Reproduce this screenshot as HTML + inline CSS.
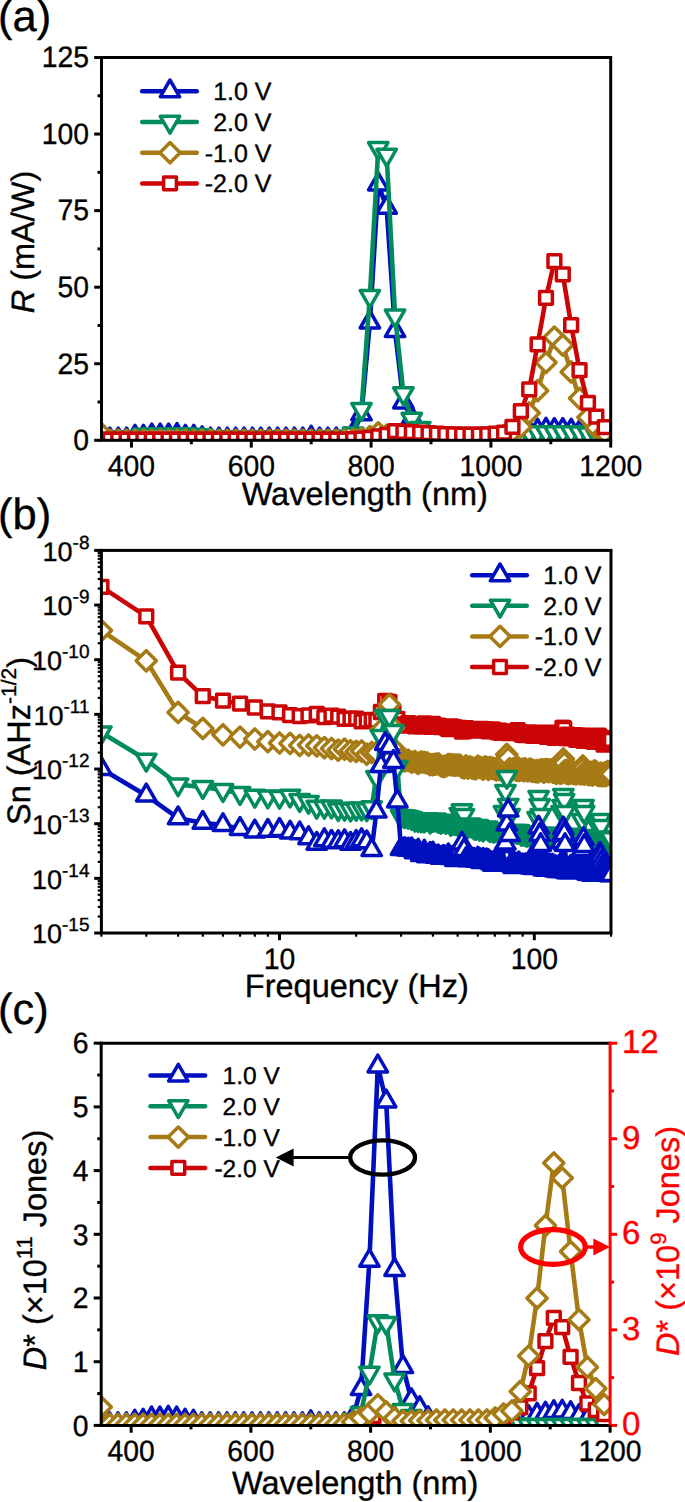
<!DOCTYPE html><html><head><meta charset="utf-8"><style>html,body{margin:0;padding:0;background:#fff;}svg{display:block;}text{font-family:"Liberation Sans", sans-serif;text-rendering:geometricPrecision;stroke-width:0.35px;}</style></head><body>
<svg width="685" height="1502" viewBox="0 0 685 1502">
<rect width="100%" height="100%" fill="#fff"/>
<defs>
<clipPath id="ca"><rect x="101.5" y="57.5" width="509.2" height="382.8"/></clipPath>
</defs>
<g clip-path="url(#ca)">
<path d="M101.5 438.77L109.89 439.38L118.27 439.38L126.66 439.38L135.05 436.63L143.43 436.63L151.82 435.4L160.21 435.4L168.59 435.4L176.98 434.79L185.37 436.63L193.76 436.63L202.14 438.16L210.53 439.38L218.92 439.38L227.3 439.38L235.69 439.38L244.08 439.38L252.46 439.38L260.85 439.38L269.24 439.38L277.62 439.38L286.01 439.38L294.4 439.38L302.78 439.38L311.17 437.54L319.56 439.38L327.94 439.38L336.33 439.38L344.72 439.38L353.1 433.56L361.49 414.27L369.88 322.4L378.27 184.28L386.65 207.56L395.04 330.97L403.43 402.33L411.81 418.25L420.2 434.18L428.59 437.85L436.97 439.38L445.36 439.38L453.75 439.38L462.13 439.38L470.52 439.38L478.91 439.38L487.29 439.38L495.68 439.38L504.07 437.24L512.45 434.79L520.84 432.95L529.23 431.73L537.61 430.5L546 429.58L554.39 429.89L562.78 429.89L571.16 430.5L579.55 431.73L587.94 432.95L596.32 434.79L604.71 437.24" fill="none" stroke="#0010BE" stroke-width="4.6" stroke-linejoin="round" stroke-linecap="round"/>
<path d="M101.5 427.57L111.2 444.37L91.8 444.37Z" fill="#fff" stroke="#0010BE" stroke-width="3.5" stroke-linejoin="round"/>
<path d="M109.89 428.18L119.59 444.98L100.19 444.98Z" fill="#fff" stroke="#0010BE" stroke-width="3.5" stroke-linejoin="round"/>
<path d="M118.27 428.18L127.97 444.98L108.57 444.98Z" fill="#fff" stroke="#0010BE" stroke-width="3.5" stroke-linejoin="round"/>
<path d="M126.66 428.18L136.36 444.98L116.96 444.98Z" fill="#fff" stroke="#0010BE" stroke-width="3.5" stroke-linejoin="round"/>
<path d="M135.05 425.43L144.75 442.23L125.35 442.23Z" fill="#fff" stroke="#0010BE" stroke-width="3.5" stroke-linejoin="round"/>
<path d="M143.43 425.43L153.13 442.23L133.73 442.23Z" fill="#fff" stroke="#0010BE" stroke-width="3.5" stroke-linejoin="round"/>
<path d="M151.82 424.2L161.52 441L142.12 441Z" fill="#fff" stroke="#0010BE" stroke-width="3.5" stroke-linejoin="round"/>
<path d="M160.21 424.2L169.91 441L150.51 441Z" fill="#fff" stroke="#0010BE" stroke-width="3.5" stroke-linejoin="round"/>
<path d="M168.59 424.2L178.29 441L158.89 441Z" fill="#fff" stroke="#0010BE" stroke-width="3.5" stroke-linejoin="round"/>
<path d="M176.98 423.59L186.68 440.39L167.28 440.39Z" fill="#fff" stroke="#0010BE" stroke-width="3.5" stroke-linejoin="round"/>
<path d="M185.37 425.43L195.07 442.23L175.67 442.23Z" fill="#fff" stroke="#0010BE" stroke-width="3.5" stroke-linejoin="round"/>
<path d="M193.76 425.43L203.46 442.23L184.06 442.23Z" fill="#fff" stroke="#0010BE" stroke-width="3.5" stroke-linejoin="round"/>
<path d="M202.14 426.96L211.84 443.76L192.44 443.76Z" fill="#fff" stroke="#0010BE" stroke-width="3.5" stroke-linejoin="round"/>
<path d="M210.53 428.18L220.23 444.98L200.83 444.98Z" fill="#fff" stroke="#0010BE" stroke-width="3.5" stroke-linejoin="round"/>
<path d="M218.92 428.18L228.62 444.98L209.22 444.98Z" fill="#fff" stroke="#0010BE" stroke-width="3.5" stroke-linejoin="round"/>
<path d="M227.3 428.18L237 444.98L217.6 444.98Z" fill="#fff" stroke="#0010BE" stroke-width="3.5" stroke-linejoin="round"/>
<path d="M235.69 428.18L245.39 444.98L225.99 444.98Z" fill="#fff" stroke="#0010BE" stroke-width="3.5" stroke-linejoin="round"/>
<path d="M244.08 428.18L253.78 444.98L234.38 444.98Z" fill="#fff" stroke="#0010BE" stroke-width="3.5" stroke-linejoin="round"/>
<path d="M252.46 428.18L262.16 444.98L242.76 444.98Z" fill="#fff" stroke="#0010BE" stroke-width="3.5" stroke-linejoin="round"/>
<path d="M260.85 428.18L270.55 444.98L251.15 444.98Z" fill="#fff" stroke="#0010BE" stroke-width="3.5" stroke-linejoin="round"/>
<path d="M269.24 428.18L278.94 444.98L259.54 444.98Z" fill="#fff" stroke="#0010BE" stroke-width="3.5" stroke-linejoin="round"/>
<path d="M277.62 428.18L287.32 444.98L267.92 444.98Z" fill="#fff" stroke="#0010BE" stroke-width="3.5" stroke-linejoin="round"/>
<path d="M286.01 428.18L295.71 444.98L276.31 444.98Z" fill="#fff" stroke="#0010BE" stroke-width="3.5" stroke-linejoin="round"/>
<path d="M294.4 428.18L304.1 444.98L284.7 444.98Z" fill="#fff" stroke="#0010BE" stroke-width="3.5" stroke-linejoin="round"/>
<path d="M302.78 428.18L312.48 444.98L293.08 444.98Z" fill="#fff" stroke="#0010BE" stroke-width="3.5" stroke-linejoin="round"/>
<path d="M311.17 426.34L320.87 443.14L301.47 443.14Z" fill="#fff" stroke="#0010BE" stroke-width="3.5" stroke-linejoin="round"/>
<path d="M319.56 428.18L329.26 444.98L309.86 444.98Z" fill="#fff" stroke="#0010BE" stroke-width="3.5" stroke-linejoin="round"/>
<path d="M327.94 428.18L337.64 444.98L318.24 444.98Z" fill="#fff" stroke="#0010BE" stroke-width="3.5" stroke-linejoin="round"/>
<path d="M336.33 428.18L346.03 444.98L326.63 444.98Z" fill="#fff" stroke="#0010BE" stroke-width="3.5" stroke-linejoin="round"/>
<path d="M344.72 428.18L354.42 444.98L335.02 444.98Z" fill="#fff" stroke="#0010BE" stroke-width="3.5" stroke-linejoin="round"/>
<path d="M353.1 422.36L362.8 439.16L343.4 439.16Z" fill="#fff" stroke="#0010BE" stroke-width="3.5" stroke-linejoin="round"/>
<path d="M361.49 403.07L371.19 419.87L351.79 419.87Z" fill="#fff" stroke="#0010BE" stroke-width="3.5" stroke-linejoin="round"/>
<path d="M369.88 311.2L379.58 328L360.18 328Z" fill="#fff" stroke="#0010BE" stroke-width="3.5" stroke-linejoin="round"/>
<path d="M378.27 173.08L387.97 189.88L368.57 189.88Z" fill="#fff" stroke="#0010BE" stroke-width="3.5" stroke-linejoin="round"/>
<path d="M386.65 196.36L396.35 213.16L376.95 213.16Z" fill="#fff" stroke="#0010BE" stroke-width="3.5" stroke-linejoin="round"/>
<path d="M395.04 319.77L404.74 336.57L385.34 336.57Z" fill="#fff" stroke="#0010BE" stroke-width="3.5" stroke-linejoin="round"/>
<path d="M403.43 391.13L413.13 407.93L393.73 407.93Z" fill="#fff" stroke="#0010BE" stroke-width="3.5" stroke-linejoin="round"/>
<path d="M411.81 407.05L421.51 423.85L402.11 423.85Z" fill="#fff" stroke="#0010BE" stroke-width="3.5" stroke-linejoin="round"/>
<path d="M420.2 422.98L429.9 439.78L410.5 439.78Z" fill="#fff" stroke="#0010BE" stroke-width="3.5" stroke-linejoin="round"/>
<path d="M428.59 426.65L438.29 443.45L418.89 443.45Z" fill="#fff" stroke="#0010BE" stroke-width="3.5" stroke-linejoin="round"/>
<path d="M436.97 428.18L446.67 444.98L427.27 444.98Z" fill="#fff" stroke="#0010BE" stroke-width="3.5" stroke-linejoin="round"/>
<path d="M445.36 428.18L455.06 444.98L435.66 444.98Z" fill="#fff" stroke="#0010BE" stroke-width="3.5" stroke-linejoin="round"/>
<path d="M453.75 428.18L463.45 444.98L444.05 444.98Z" fill="#fff" stroke="#0010BE" stroke-width="3.5" stroke-linejoin="round"/>
<path d="M462.13 428.18L471.83 444.98L452.43 444.98Z" fill="#fff" stroke="#0010BE" stroke-width="3.5" stroke-linejoin="round"/>
<path d="M470.52 428.18L480.22 444.98L460.82 444.98Z" fill="#fff" stroke="#0010BE" stroke-width="3.5" stroke-linejoin="round"/>
<path d="M478.91 428.18L488.61 444.98L469.21 444.98Z" fill="#fff" stroke="#0010BE" stroke-width="3.5" stroke-linejoin="round"/>
<path d="M487.29 428.18L496.99 444.98L477.59 444.98Z" fill="#fff" stroke="#0010BE" stroke-width="3.5" stroke-linejoin="round"/>
<path d="M495.68 428.18L505.38 444.98L485.98 444.98Z" fill="#fff" stroke="#0010BE" stroke-width="3.5" stroke-linejoin="round"/>
<path d="M504.07 426.04L513.77 442.84L494.37 442.84Z" fill="#fff" stroke="#0010BE" stroke-width="3.5" stroke-linejoin="round"/>
<path d="M512.45 423.59L522.15 440.39L502.75 440.39Z" fill="#fff" stroke="#0010BE" stroke-width="3.5" stroke-linejoin="round"/>
<path d="M520.84 421.75L530.54 438.55L511.14 438.55Z" fill="#fff" stroke="#0010BE" stroke-width="3.5" stroke-linejoin="round"/>
<path d="M529.23 420.53L538.93 437.33L519.53 437.33Z" fill="#fff" stroke="#0010BE" stroke-width="3.5" stroke-linejoin="round"/>
<path d="M537.61 419.3L547.31 436.1L527.91 436.1Z" fill="#fff" stroke="#0010BE" stroke-width="3.5" stroke-linejoin="round"/>
<path d="M546 418.38L555.7 435.18L536.3 435.18Z" fill="#fff" stroke="#0010BE" stroke-width="3.5" stroke-linejoin="round"/>
<path d="M554.39 418.69L564.09 435.49L544.69 435.49Z" fill="#fff" stroke="#0010BE" stroke-width="3.5" stroke-linejoin="round"/>
<path d="M562.78 418.69L572.48 435.49L553.08 435.49Z" fill="#fff" stroke="#0010BE" stroke-width="3.5" stroke-linejoin="round"/>
<path d="M571.16 419.3L580.86 436.1L561.46 436.1Z" fill="#fff" stroke="#0010BE" stroke-width="3.5" stroke-linejoin="round"/>
<path d="M579.55 420.53L589.25 437.33L569.85 437.33Z" fill="#fff" stroke="#0010BE" stroke-width="3.5" stroke-linejoin="round"/>
<path d="M587.94 421.75L597.64 438.55L578.24 438.55Z" fill="#fff" stroke="#0010BE" stroke-width="3.5" stroke-linejoin="round"/>
<path d="M596.32 423.59L606.02 440.39L586.62 440.39Z" fill="#fff" stroke="#0010BE" stroke-width="3.5" stroke-linejoin="round"/>
<path d="M604.71 426.04L614.41 442.84L595.01 442.84Z" fill="#fff" stroke="#0010BE" stroke-width="3.5" stroke-linejoin="round"/>
</g>
<g clip-path="url(#ca)">
<path d="M101.5 437.24L109.89 437.24L118.27 437.24L126.66 437.24L135.05 437.24L143.43 434.79L151.82 434.48L160.21 434.48L168.59 434.48L176.98 434.48L185.37 434.48L193.76 434.79L202.14 435.4L210.53 437.24L218.92 437.24L227.3 437.24L235.69 437.24L244.08 437.24L252.46 437.24L260.85 437.24L269.24 437.24L277.62 437.24L286.01 437.24L294.4 437.24L302.78 437.24L311.17 437.24L319.56 437.24L327.94 437.24L336.33 437.24L344.72 436.63L353.1 433.56L361.49 409.06L369.88 296.06L378.27 148.15L386.65 154.88L395.04 315.66L403.43 393.45L411.81 418.86L420.2 428.05L428.59 434.79L436.97 437.24L445.36 437.24L453.75 437.24L462.13 437.24L470.52 437.24L478.91 437.24L487.29 437.24L495.68 437.24L504.07 437.24L512.45 435.71L520.84 434.18L529.23 432.95L537.61 432.34L546 432.34L554.39 432.34L562.78 432.34L571.16 432.34L579.55 432.64L587.94 433.56L596.32 435.4L604.71 437.24" fill="none" stroke="#028C5E" stroke-width="4.6" stroke-linejoin="round" stroke-linecap="round"/>
<path d="M101.5 448.44L111.2 431.64L91.8 431.64Z" fill="#fff" stroke="#028C5E" stroke-width="3.5" stroke-linejoin="round"/>
<path d="M109.89 448.44L119.59 431.64L100.19 431.64Z" fill="#fff" stroke="#028C5E" stroke-width="3.5" stroke-linejoin="round"/>
<path d="M118.27 448.44L127.97 431.64L108.57 431.64Z" fill="#fff" stroke="#028C5E" stroke-width="3.5" stroke-linejoin="round"/>
<path d="M126.66 448.44L136.36 431.64L116.96 431.64Z" fill="#fff" stroke="#028C5E" stroke-width="3.5" stroke-linejoin="round"/>
<path d="M135.05 448.44L144.75 431.64L125.35 431.64Z" fill="#fff" stroke="#028C5E" stroke-width="3.5" stroke-linejoin="round"/>
<path d="M143.43 445.99L153.13 429.19L133.73 429.19Z" fill="#fff" stroke="#028C5E" stroke-width="3.5" stroke-linejoin="round"/>
<path d="M151.82 445.68L161.52 428.88L142.12 428.88Z" fill="#fff" stroke="#028C5E" stroke-width="3.5" stroke-linejoin="round"/>
<path d="M160.21 445.68L169.91 428.88L150.51 428.88Z" fill="#fff" stroke="#028C5E" stroke-width="3.5" stroke-linejoin="round"/>
<path d="M168.59 445.68L178.29 428.88L158.89 428.88Z" fill="#fff" stroke="#028C5E" stroke-width="3.5" stroke-linejoin="round"/>
<path d="M176.98 445.68L186.68 428.88L167.28 428.88Z" fill="#fff" stroke="#028C5E" stroke-width="3.5" stroke-linejoin="round"/>
<path d="M185.37 445.68L195.07 428.88L175.67 428.88Z" fill="#fff" stroke="#028C5E" stroke-width="3.5" stroke-linejoin="round"/>
<path d="M193.76 445.99L203.46 429.19L184.06 429.19Z" fill="#fff" stroke="#028C5E" stroke-width="3.5" stroke-linejoin="round"/>
<path d="M202.14 446.6L211.84 429.8L192.44 429.8Z" fill="#fff" stroke="#028C5E" stroke-width="3.5" stroke-linejoin="round"/>
<path d="M210.53 448.44L220.23 431.64L200.83 431.64Z" fill="#fff" stroke="#028C5E" stroke-width="3.5" stroke-linejoin="round"/>
<path d="M218.92 448.44L228.62 431.64L209.22 431.64Z" fill="#fff" stroke="#028C5E" stroke-width="3.5" stroke-linejoin="round"/>
<path d="M227.3 448.44L237 431.64L217.6 431.64Z" fill="#fff" stroke="#028C5E" stroke-width="3.5" stroke-linejoin="round"/>
<path d="M235.69 448.44L245.39 431.64L225.99 431.64Z" fill="#fff" stroke="#028C5E" stroke-width="3.5" stroke-linejoin="round"/>
<path d="M244.08 448.44L253.78 431.64L234.38 431.64Z" fill="#fff" stroke="#028C5E" stroke-width="3.5" stroke-linejoin="round"/>
<path d="M252.46 448.44L262.16 431.64L242.76 431.64Z" fill="#fff" stroke="#028C5E" stroke-width="3.5" stroke-linejoin="round"/>
<path d="M260.85 448.44L270.55 431.64L251.15 431.64Z" fill="#fff" stroke="#028C5E" stroke-width="3.5" stroke-linejoin="round"/>
<path d="M269.24 448.44L278.94 431.64L259.54 431.64Z" fill="#fff" stroke="#028C5E" stroke-width="3.5" stroke-linejoin="round"/>
<path d="M277.62 448.44L287.32 431.64L267.92 431.64Z" fill="#fff" stroke="#028C5E" stroke-width="3.5" stroke-linejoin="round"/>
<path d="M286.01 448.44L295.71 431.64L276.31 431.64Z" fill="#fff" stroke="#028C5E" stroke-width="3.5" stroke-linejoin="round"/>
<path d="M294.4 448.44L304.1 431.64L284.7 431.64Z" fill="#fff" stroke="#028C5E" stroke-width="3.5" stroke-linejoin="round"/>
<path d="M302.78 448.44L312.48 431.64L293.08 431.64Z" fill="#fff" stroke="#028C5E" stroke-width="3.5" stroke-linejoin="round"/>
<path d="M311.17 448.44L320.87 431.64L301.47 431.64Z" fill="#fff" stroke="#028C5E" stroke-width="3.5" stroke-linejoin="round"/>
<path d="M319.56 448.44L329.26 431.64L309.86 431.64Z" fill="#fff" stroke="#028C5E" stroke-width="3.5" stroke-linejoin="round"/>
<path d="M327.94 448.44L337.64 431.64L318.24 431.64Z" fill="#fff" stroke="#028C5E" stroke-width="3.5" stroke-linejoin="round"/>
<path d="M336.33 448.44L346.03 431.64L326.63 431.64Z" fill="#fff" stroke="#028C5E" stroke-width="3.5" stroke-linejoin="round"/>
<path d="M344.72 447.83L354.42 431.03L335.02 431.03Z" fill="#fff" stroke="#028C5E" stroke-width="3.5" stroke-linejoin="round"/>
<path d="M353.1 444.76L362.8 427.96L343.4 427.96Z" fill="#fff" stroke="#028C5E" stroke-width="3.5" stroke-linejoin="round"/>
<path d="M361.49 420.26L371.19 403.46L351.79 403.46Z" fill="#fff" stroke="#028C5E" stroke-width="3.5" stroke-linejoin="round"/>
<path d="M369.88 307.26L379.58 290.46L360.18 290.46Z" fill="#fff" stroke="#028C5E" stroke-width="3.5" stroke-linejoin="round"/>
<path d="M378.27 159.35L387.97 142.55L368.57 142.55Z" fill="#fff" stroke="#028C5E" stroke-width="3.5" stroke-linejoin="round"/>
<path d="M386.65 166.08L396.35 149.28L376.95 149.28Z" fill="#fff" stroke="#028C5E" stroke-width="3.5" stroke-linejoin="round"/>
<path d="M395.04 326.86L404.74 310.06L385.34 310.06Z" fill="#fff" stroke="#028C5E" stroke-width="3.5" stroke-linejoin="round"/>
<path d="M403.43 404.65L413.13 387.85L393.73 387.85Z" fill="#fff" stroke="#028C5E" stroke-width="3.5" stroke-linejoin="round"/>
<path d="M411.81 430.06L421.51 413.26L402.11 413.26Z" fill="#fff" stroke="#028C5E" stroke-width="3.5" stroke-linejoin="round"/>
<path d="M420.2 439.25L429.9 422.45L410.5 422.45Z" fill="#fff" stroke="#028C5E" stroke-width="3.5" stroke-linejoin="round"/>
<path d="M428.59 445.99L438.29 429.19L418.89 429.19Z" fill="#fff" stroke="#028C5E" stroke-width="3.5" stroke-linejoin="round"/>
<path d="M436.97 448.44L446.67 431.64L427.27 431.64Z" fill="#fff" stroke="#028C5E" stroke-width="3.5" stroke-linejoin="round"/>
<path d="M445.36 448.44L455.06 431.64L435.66 431.64Z" fill="#fff" stroke="#028C5E" stroke-width="3.5" stroke-linejoin="round"/>
<path d="M453.75 448.44L463.45 431.64L444.05 431.64Z" fill="#fff" stroke="#028C5E" stroke-width="3.5" stroke-linejoin="round"/>
<path d="M462.13 448.44L471.83 431.64L452.43 431.64Z" fill="#fff" stroke="#028C5E" stroke-width="3.5" stroke-linejoin="round"/>
<path d="M470.52 448.44L480.22 431.64L460.82 431.64Z" fill="#fff" stroke="#028C5E" stroke-width="3.5" stroke-linejoin="round"/>
<path d="M478.91 448.44L488.61 431.64L469.21 431.64Z" fill="#fff" stroke="#028C5E" stroke-width="3.5" stroke-linejoin="round"/>
<path d="M487.29 448.44L496.99 431.64L477.59 431.64Z" fill="#fff" stroke="#028C5E" stroke-width="3.5" stroke-linejoin="round"/>
<path d="M495.68 448.44L505.38 431.64L485.98 431.64Z" fill="#fff" stroke="#028C5E" stroke-width="3.5" stroke-linejoin="round"/>
<path d="M504.07 448.44L513.77 431.64L494.37 431.64Z" fill="#fff" stroke="#028C5E" stroke-width="3.5" stroke-linejoin="round"/>
<path d="M512.45 446.91L522.15 430.11L502.75 430.11Z" fill="#fff" stroke="#028C5E" stroke-width="3.5" stroke-linejoin="round"/>
<path d="M520.84 445.38L530.54 428.58L511.14 428.58Z" fill="#fff" stroke="#028C5E" stroke-width="3.5" stroke-linejoin="round"/>
<path d="M529.23 444.15L538.93 427.35L519.53 427.35Z" fill="#fff" stroke="#028C5E" stroke-width="3.5" stroke-linejoin="round"/>
<path d="M537.61 443.54L547.31 426.74L527.91 426.74Z" fill="#fff" stroke="#028C5E" stroke-width="3.5" stroke-linejoin="round"/>
<path d="M546 443.54L555.7 426.74L536.3 426.74Z" fill="#fff" stroke="#028C5E" stroke-width="3.5" stroke-linejoin="round"/>
<path d="M554.39 443.54L564.09 426.74L544.69 426.74Z" fill="#fff" stroke="#028C5E" stroke-width="3.5" stroke-linejoin="round"/>
<path d="M562.78 443.54L572.48 426.74L553.08 426.74Z" fill="#fff" stroke="#028C5E" stroke-width="3.5" stroke-linejoin="round"/>
<path d="M571.16 443.54L580.86 426.74L561.46 426.74Z" fill="#fff" stroke="#028C5E" stroke-width="3.5" stroke-linejoin="round"/>
<path d="M579.55 443.84L589.25 427.04L569.85 427.04Z" fill="#fff" stroke="#028C5E" stroke-width="3.5" stroke-linejoin="round"/>
<path d="M587.94 444.76L597.64 427.96L578.24 427.96Z" fill="#fff" stroke="#028C5E" stroke-width="3.5" stroke-linejoin="round"/>
<path d="M596.32 446.6L606.02 429.8L586.62 429.8Z" fill="#fff" stroke="#028C5E" stroke-width="3.5" stroke-linejoin="round"/>
<path d="M604.71 448.44L614.41 431.64L595.01 431.64Z" fill="#fff" stroke="#028C5E" stroke-width="3.5" stroke-linejoin="round"/>
</g>
<g clip-path="url(#ca)">
<path d="M101.5 433.87L109.89 440.21L118.27 440.21L126.66 440.21L135.05 440.21L143.43 440.21L151.82 440.21L160.21 440.21L168.59 440.21L176.98 440.21L185.37 440.21L193.76 440.21L202.14 440.21L210.53 440.21L218.92 440.21L227.3 440.21L235.69 440.21L244.08 440.21L252.46 440.21L260.85 440.21L269.24 440.21L277.62 440.21L286.01 440.21L294.4 440.21L302.78 440.21L311.17 440.21L319.56 440.21L327.94 440.21L336.33 440.21L344.72 440.21L353.1 439.38L361.49 438.46L369.88 436.63L378.27 432.95L386.65 435.4L395.04 436.63L403.43 437.85L411.81 439.08L420.2 440.21L428.59 440.21L436.97 440.21L445.36 440.21L453.75 440.21L462.13 440.21L470.52 440.21L478.91 440.21L487.29 440.21L495.68 437.85L504.07 435.4L512.45 431.73L520.84 426.83L529.23 413.04L537.61 390.69L546 362.52L554.39 337.1L562.78 345.06L571.16 372.01L579.55 398.35L587.94 417.33L596.32 428.05L604.71 432.64" fill="none" stroke="#A67A14" stroke-width="4.6" stroke-linejoin="round" stroke-linecap="round"/>
<path d="M101.5 423.77L111.6 433.87L101.5 443.97L91.4 433.87Z" fill="#fff" stroke="#A67A14" stroke-width="3.5" stroke-linejoin="round"/>
<path d="M109.89 430.11L119.99 440.21L109.89 450.31L99.79 440.21Z" fill="#fff" stroke="#A67A14" stroke-width="3.5" stroke-linejoin="round"/>
<path d="M118.27 430.11L128.37 440.21L118.27 450.31L108.17 440.21Z" fill="#fff" stroke="#A67A14" stroke-width="3.5" stroke-linejoin="round"/>
<path d="M126.66 430.11L136.76 440.21L126.66 450.31L116.56 440.21Z" fill="#fff" stroke="#A67A14" stroke-width="3.5" stroke-linejoin="round"/>
<path d="M135.05 430.11L145.15 440.21L135.05 450.31L124.95 440.21Z" fill="#fff" stroke="#A67A14" stroke-width="3.5" stroke-linejoin="round"/>
<path d="M143.43 430.11L153.53 440.21L143.43 450.31L133.33 440.21Z" fill="#fff" stroke="#A67A14" stroke-width="3.5" stroke-linejoin="round"/>
<path d="M151.82 430.11L161.92 440.21L151.82 450.31L141.72 440.21Z" fill="#fff" stroke="#A67A14" stroke-width="3.5" stroke-linejoin="round"/>
<path d="M160.21 430.11L170.31 440.21L160.21 450.31L150.11 440.21Z" fill="#fff" stroke="#A67A14" stroke-width="3.5" stroke-linejoin="round"/>
<path d="M168.59 430.11L178.69 440.21L168.59 450.31L158.49 440.21Z" fill="#fff" stroke="#A67A14" stroke-width="3.5" stroke-linejoin="round"/>
<path d="M176.98 430.11L187.08 440.21L176.98 450.31L166.88 440.21Z" fill="#fff" stroke="#A67A14" stroke-width="3.5" stroke-linejoin="round"/>
<path d="M185.37 430.11L195.47 440.21L185.37 450.31L175.27 440.21Z" fill="#fff" stroke="#A67A14" stroke-width="3.5" stroke-linejoin="round"/>
<path d="M193.76 430.11L203.86 440.21L193.76 450.31L183.66 440.21Z" fill="#fff" stroke="#A67A14" stroke-width="3.5" stroke-linejoin="round"/>
<path d="M202.14 430.11L212.24 440.21L202.14 450.31L192.04 440.21Z" fill="#fff" stroke="#A67A14" stroke-width="3.5" stroke-linejoin="round"/>
<path d="M210.53 430.11L220.63 440.21L210.53 450.31L200.43 440.21Z" fill="#fff" stroke="#A67A14" stroke-width="3.5" stroke-linejoin="round"/>
<path d="M218.92 430.11L229.02 440.21L218.92 450.31L208.82 440.21Z" fill="#fff" stroke="#A67A14" stroke-width="3.5" stroke-linejoin="round"/>
<path d="M227.3 430.11L237.4 440.21L227.3 450.31L217.2 440.21Z" fill="#fff" stroke="#A67A14" stroke-width="3.5" stroke-linejoin="round"/>
<path d="M235.69 430.11L245.79 440.21L235.69 450.31L225.59 440.21Z" fill="#fff" stroke="#A67A14" stroke-width="3.5" stroke-linejoin="round"/>
<path d="M244.08 430.11L254.18 440.21L244.08 450.31L233.98 440.21Z" fill="#fff" stroke="#A67A14" stroke-width="3.5" stroke-linejoin="round"/>
<path d="M252.46 430.11L262.56 440.21L252.46 450.31L242.36 440.21Z" fill="#fff" stroke="#A67A14" stroke-width="3.5" stroke-linejoin="round"/>
<path d="M260.85 430.11L270.95 440.21L260.85 450.31L250.75 440.21Z" fill="#fff" stroke="#A67A14" stroke-width="3.5" stroke-linejoin="round"/>
<path d="M269.24 430.11L279.34 440.21L269.24 450.31L259.14 440.21Z" fill="#fff" stroke="#A67A14" stroke-width="3.5" stroke-linejoin="round"/>
<path d="M277.62 430.11L287.72 440.21L277.62 450.31L267.52 440.21Z" fill="#fff" stroke="#A67A14" stroke-width="3.5" stroke-linejoin="round"/>
<path d="M286.01 430.11L296.11 440.21L286.01 450.31L275.91 440.21Z" fill="#fff" stroke="#A67A14" stroke-width="3.5" stroke-linejoin="round"/>
<path d="M294.4 430.11L304.5 440.21L294.4 450.31L284.3 440.21Z" fill="#fff" stroke="#A67A14" stroke-width="3.5" stroke-linejoin="round"/>
<path d="M302.78 430.11L312.88 440.21L302.78 450.31L292.68 440.21Z" fill="#fff" stroke="#A67A14" stroke-width="3.5" stroke-linejoin="round"/>
<path d="M311.17 430.11L321.27 440.21L311.17 450.31L301.07 440.21Z" fill="#fff" stroke="#A67A14" stroke-width="3.5" stroke-linejoin="round"/>
<path d="M319.56 430.11L329.66 440.21L319.56 450.31L309.46 440.21Z" fill="#fff" stroke="#A67A14" stroke-width="3.5" stroke-linejoin="round"/>
<path d="M327.94 430.11L338.04 440.21L327.94 450.31L317.84 440.21Z" fill="#fff" stroke="#A67A14" stroke-width="3.5" stroke-linejoin="round"/>
<path d="M336.33 430.11L346.43 440.21L336.33 450.31L326.23 440.21Z" fill="#fff" stroke="#A67A14" stroke-width="3.5" stroke-linejoin="round"/>
<path d="M344.72 430.11L354.82 440.21L344.72 450.31L334.62 440.21Z" fill="#fff" stroke="#A67A14" stroke-width="3.5" stroke-linejoin="round"/>
<path d="M353.1 429.28L363.2 439.38L353.1 449.48L343 439.38Z" fill="#fff" stroke="#A67A14" stroke-width="3.5" stroke-linejoin="round"/>
<path d="M361.49 428.36L371.59 438.46L361.49 448.56L351.39 438.46Z" fill="#fff" stroke="#A67A14" stroke-width="3.5" stroke-linejoin="round"/>
<path d="M369.88 426.53L379.98 436.63L369.88 446.73L359.78 436.63Z" fill="#fff" stroke="#A67A14" stroke-width="3.5" stroke-linejoin="round"/>
<path d="M378.27 422.85L388.37 432.95L378.27 443.05L368.17 432.95Z" fill="#fff" stroke="#A67A14" stroke-width="3.5" stroke-linejoin="round"/>
<path d="M386.65 425.3L396.75 435.4L386.65 445.5L376.55 435.4Z" fill="#fff" stroke="#A67A14" stroke-width="3.5" stroke-linejoin="round"/>
<path d="M395.04 426.53L405.14 436.63L395.04 446.73L384.94 436.63Z" fill="#fff" stroke="#A67A14" stroke-width="3.5" stroke-linejoin="round"/>
<path d="M403.43 427.75L413.53 437.85L403.43 447.95L393.33 437.85Z" fill="#fff" stroke="#A67A14" stroke-width="3.5" stroke-linejoin="round"/>
<path d="M411.81 428.98L421.91 439.08L411.81 449.18L401.71 439.08Z" fill="#fff" stroke="#A67A14" stroke-width="3.5" stroke-linejoin="round"/>
<path d="M420.2 430.11L430.3 440.21L420.2 450.31L410.1 440.21Z" fill="#fff" stroke="#A67A14" stroke-width="3.5" stroke-linejoin="round"/>
<path d="M428.59 430.11L438.69 440.21L428.59 450.31L418.49 440.21Z" fill="#fff" stroke="#A67A14" stroke-width="3.5" stroke-linejoin="round"/>
<path d="M436.97 430.11L447.07 440.21L436.97 450.31L426.87 440.21Z" fill="#fff" stroke="#A67A14" stroke-width="3.5" stroke-linejoin="round"/>
<path d="M445.36 430.11L455.46 440.21L445.36 450.31L435.26 440.21Z" fill="#fff" stroke="#A67A14" stroke-width="3.5" stroke-linejoin="round"/>
<path d="M453.75 430.11L463.85 440.21L453.75 450.31L443.65 440.21Z" fill="#fff" stroke="#A67A14" stroke-width="3.5" stroke-linejoin="round"/>
<path d="M462.13 430.11L472.23 440.21L462.13 450.31L452.03 440.21Z" fill="#fff" stroke="#A67A14" stroke-width="3.5" stroke-linejoin="round"/>
<path d="M470.52 430.11L480.62 440.21L470.52 450.31L460.42 440.21Z" fill="#fff" stroke="#A67A14" stroke-width="3.5" stroke-linejoin="round"/>
<path d="M478.91 430.11L489.01 440.21L478.91 450.31L468.81 440.21Z" fill="#fff" stroke="#A67A14" stroke-width="3.5" stroke-linejoin="round"/>
<path d="M487.29 430.11L497.39 440.21L487.29 450.31L477.19 440.21Z" fill="#fff" stroke="#A67A14" stroke-width="3.5" stroke-linejoin="round"/>
<path d="M495.68 427.75L505.78 437.85L495.68 447.95L485.58 437.85Z" fill="#fff" stroke="#A67A14" stroke-width="3.5" stroke-linejoin="round"/>
<path d="M504.07 425.3L514.17 435.4L504.07 445.5L493.97 435.4Z" fill="#fff" stroke="#A67A14" stroke-width="3.5" stroke-linejoin="round"/>
<path d="M512.45 421.63L522.55 431.73L512.45 441.83L502.35 431.73Z" fill="#fff" stroke="#A67A14" stroke-width="3.5" stroke-linejoin="round"/>
<path d="M520.84 416.73L530.94 426.83L520.84 436.93L510.74 426.83Z" fill="#fff" stroke="#A67A14" stroke-width="3.5" stroke-linejoin="round"/>
<path d="M529.23 402.94L539.33 413.04L529.23 423.14L519.13 413.04Z" fill="#fff" stroke="#A67A14" stroke-width="3.5" stroke-linejoin="round"/>
<path d="M537.61 380.59L547.71 390.69L537.61 400.79L527.51 390.69Z" fill="#fff" stroke="#A67A14" stroke-width="3.5" stroke-linejoin="round"/>
<path d="M546 352.42L556.1 362.52L546 372.62L535.9 362.52Z" fill="#fff" stroke="#A67A14" stroke-width="3.5" stroke-linejoin="round"/>
<path d="M554.39 327L564.49 337.1L554.39 347.2L544.29 337.1Z" fill="#fff" stroke="#A67A14" stroke-width="3.5" stroke-linejoin="round"/>
<path d="M562.78 334.96L572.88 345.06L562.78 355.16L552.68 345.06Z" fill="#fff" stroke="#A67A14" stroke-width="3.5" stroke-linejoin="round"/>
<path d="M571.16 361.91L581.26 372.01L571.16 382.11L561.06 372.01Z" fill="#fff" stroke="#A67A14" stroke-width="3.5" stroke-linejoin="round"/>
<path d="M579.55 388.25L589.65 398.35L579.55 408.45L569.45 398.35Z" fill="#fff" stroke="#A67A14" stroke-width="3.5" stroke-linejoin="round"/>
<path d="M587.94 407.23L598.04 417.33L587.94 427.43L577.84 417.33Z" fill="#fff" stroke="#A67A14" stroke-width="3.5" stroke-linejoin="round"/>
<path d="M596.32 417.95L606.42 428.05L596.32 438.15L586.22 428.05Z" fill="#fff" stroke="#A67A14" stroke-width="3.5" stroke-linejoin="round"/>
<path d="M604.71 422.54L614.81 432.64L604.71 442.74L594.61 432.64Z" fill="#fff" stroke="#A67A14" stroke-width="3.5" stroke-linejoin="round"/>
</g>
<g clip-path="url(#ca)">
<path d="M101.5 439.53L109.89 439.53L118.27 439.53L126.66 439.53L135.05 439.53L143.43 439.53L151.82 439.53L160.21 439.53L168.59 439.53L176.98 439.53L185.37 439.53L193.76 439.53L202.14 439.53L210.53 439.53L218.92 439.53L227.3 439.53L235.69 439.53L244.08 439.53L252.46 439.53L260.85 439.53L269.24 439.53L277.62 439.53L286.01 439.53L294.4 439.53L302.78 439.53L311.17 439.53L319.56 439.53L327.94 439.53L336.33 439.53L344.72 439.53L353.1 439.23L361.49 438.62L369.88 437.85L378.27 436.32L386.65 434.79L395.04 431.17L403.43 431.73L411.81 432.15L420.2 432.64L428.59 433.13L436.97 433.65L445.36 434.18L453.75 434.48L462.13 434.67L470.52 434.67L478.91 434.67L487.29 434.48L495.68 433.65L504.07 432.64L512.45 426.83L520.84 411.21L529.23 389.46L537.61 344.45L546 297.9L554.39 261.15L562.78 274.32L571.16 325.15L579.55 370.17L587.94 402.94L596.32 416.72L604.71 427.13" fill="none" stroke="#CB0505" stroke-width="4.6" stroke-linejoin="round" stroke-linecap="round"/>
<path d="M95.1 433.13H107.9V445.93H95.1Z" fill="#fff" stroke="#CB0505" stroke-width="3.5" stroke-linejoin="round"/>
<path d="M103.49 433.13H116.29V445.93H103.49Z" fill="#fff" stroke="#CB0505" stroke-width="3.5" stroke-linejoin="round"/>
<path d="M111.87 433.13H124.67V445.93H111.87Z" fill="#fff" stroke="#CB0505" stroke-width="3.5" stroke-linejoin="round"/>
<path d="M120.26 433.13H133.06V445.93H120.26Z" fill="#fff" stroke="#CB0505" stroke-width="3.5" stroke-linejoin="round"/>
<path d="M128.65 433.13H141.45V445.93H128.65Z" fill="#fff" stroke="#CB0505" stroke-width="3.5" stroke-linejoin="round"/>
<path d="M137.03 433.13H149.83V445.93H137.03Z" fill="#fff" stroke="#CB0505" stroke-width="3.5" stroke-linejoin="round"/>
<path d="M145.42 433.13H158.22V445.93H145.42Z" fill="#fff" stroke="#CB0505" stroke-width="3.5" stroke-linejoin="round"/>
<path d="M153.81 433.13H166.61V445.93H153.81Z" fill="#fff" stroke="#CB0505" stroke-width="3.5" stroke-linejoin="round"/>
<path d="M162.19 433.13H174.99V445.93H162.19Z" fill="#fff" stroke="#CB0505" stroke-width="3.5" stroke-linejoin="round"/>
<path d="M170.58 433.13H183.38V445.93H170.58Z" fill="#fff" stroke="#CB0505" stroke-width="3.5" stroke-linejoin="round"/>
<path d="M178.97 433.13H191.77V445.93H178.97Z" fill="#fff" stroke="#CB0505" stroke-width="3.5" stroke-linejoin="round"/>
<path d="M187.36 433.13H200.16V445.93H187.36Z" fill="#fff" stroke="#CB0505" stroke-width="3.5" stroke-linejoin="round"/>
<path d="M195.74 433.13H208.54V445.93H195.74Z" fill="#fff" stroke="#CB0505" stroke-width="3.5" stroke-linejoin="round"/>
<path d="M204.13 433.13H216.93V445.93H204.13Z" fill="#fff" stroke="#CB0505" stroke-width="3.5" stroke-linejoin="round"/>
<path d="M212.52 433.13H225.32V445.93H212.52Z" fill="#fff" stroke="#CB0505" stroke-width="3.5" stroke-linejoin="round"/>
<path d="M220.9 433.13H233.7V445.93H220.9Z" fill="#fff" stroke="#CB0505" stroke-width="3.5" stroke-linejoin="round"/>
<path d="M229.29 433.13H242.09V445.93H229.29Z" fill="#fff" stroke="#CB0505" stroke-width="3.5" stroke-linejoin="round"/>
<path d="M237.68 433.13H250.48V445.93H237.68Z" fill="#fff" stroke="#CB0505" stroke-width="3.5" stroke-linejoin="round"/>
<path d="M246.06 433.13H258.86V445.93H246.06Z" fill="#fff" stroke="#CB0505" stroke-width="3.5" stroke-linejoin="round"/>
<path d="M254.45 433.13H267.25V445.93H254.45Z" fill="#fff" stroke="#CB0505" stroke-width="3.5" stroke-linejoin="round"/>
<path d="M262.84 433.13H275.64V445.93H262.84Z" fill="#fff" stroke="#CB0505" stroke-width="3.5" stroke-linejoin="round"/>
<path d="M271.22 433.13H284.02V445.93H271.22Z" fill="#fff" stroke="#CB0505" stroke-width="3.5" stroke-linejoin="round"/>
<path d="M279.61 433.13H292.41V445.93H279.61Z" fill="#fff" stroke="#CB0505" stroke-width="3.5" stroke-linejoin="round"/>
<path d="M288 433.13H300.8V445.93H288Z" fill="#fff" stroke="#CB0505" stroke-width="3.5" stroke-linejoin="round"/>
<path d="M296.38 433.13H309.18V445.93H296.38Z" fill="#fff" stroke="#CB0505" stroke-width="3.5" stroke-linejoin="round"/>
<path d="M304.77 433.13H317.57V445.93H304.77Z" fill="#fff" stroke="#CB0505" stroke-width="3.5" stroke-linejoin="round"/>
<path d="M313.16 433.13H325.96V445.93H313.16Z" fill="#fff" stroke="#CB0505" stroke-width="3.5" stroke-linejoin="round"/>
<path d="M321.54 433.13H334.34V445.93H321.54Z" fill="#fff" stroke="#CB0505" stroke-width="3.5" stroke-linejoin="round"/>
<path d="M329.93 433.13H342.73V445.93H329.93Z" fill="#fff" stroke="#CB0505" stroke-width="3.5" stroke-linejoin="round"/>
<path d="M338.32 433.13H351.12V445.93H338.32Z" fill="#fff" stroke="#CB0505" stroke-width="3.5" stroke-linejoin="round"/>
<path d="M346.7 432.83H359.5V445.63H346.7Z" fill="#fff" stroke="#CB0505" stroke-width="3.5" stroke-linejoin="round"/>
<path d="M355.09 432.22H367.89V445.02H355.09Z" fill="#fff" stroke="#CB0505" stroke-width="3.5" stroke-linejoin="round"/>
<path d="M363.48 431.45H376.28V444.25H363.48Z" fill="#fff" stroke="#CB0505" stroke-width="3.5" stroke-linejoin="round"/>
<path d="M371.87 429.92H384.67V442.72H371.87Z" fill="#fff" stroke="#CB0505" stroke-width="3.5" stroke-linejoin="round"/>
<path d="M380.25 428.39H393.05V441.19H380.25Z" fill="#fff" stroke="#CB0505" stroke-width="3.5" stroke-linejoin="round"/>
<path d="M388.64 424.77H401.44V437.57H388.64Z" fill="#fff" stroke="#CB0505" stroke-width="3.5" stroke-linejoin="round"/>
<path d="M397.03 425.33H409.83V438.13H397.03Z" fill="#fff" stroke="#CB0505" stroke-width="3.5" stroke-linejoin="round"/>
<path d="M405.41 425.75H418.21V438.55H405.41Z" fill="#fff" stroke="#CB0505" stroke-width="3.5" stroke-linejoin="round"/>
<path d="M413.8 426.24H426.6V439.04H413.8Z" fill="#fff" stroke="#CB0505" stroke-width="3.5" stroke-linejoin="round"/>
<path d="M422.19 426.73H434.99V439.53H422.19Z" fill="#fff" stroke="#CB0505" stroke-width="3.5" stroke-linejoin="round"/>
<path d="M430.57 427.25H443.37V440.05H430.57Z" fill="#fff" stroke="#CB0505" stroke-width="3.5" stroke-linejoin="round"/>
<path d="M438.96 427.78H451.76V440.58H438.96Z" fill="#fff" stroke="#CB0505" stroke-width="3.5" stroke-linejoin="round"/>
<path d="M447.35 428.08H460.15V440.88H447.35Z" fill="#fff" stroke="#CB0505" stroke-width="3.5" stroke-linejoin="round"/>
<path d="M455.73 428.27H468.53V441.07H455.73Z" fill="#fff" stroke="#CB0505" stroke-width="3.5" stroke-linejoin="round"/>
<path d="M464.12 428.27H476.92V441.07H464.12Z" fill="#fff" stroke="#CB0505" stroke-width="3.5" stroke-linejoin="round"/>
<path d="M472.51 428.27H485.31V441.07H472.51Z" fill="#fff" stroke="#CB0505" stroke-width="3.5" stroke-linejoin="round"/>
<path d="M480.89 428.08H493.69V440.88H480.89Z" fill="#fff" stroke="#CB0505" stroke-width="3.5" stroke-linejoin="round"/>
<path d="M489.28 427.25H502.08V440.05H489.28Z" fill="#fff" stroke="#CB0505" stroke-width="3.5" stroke-linejoin="round"/>
<path d="M497.67 426.24H510.47V439.04H497.67Z" fill="#fff" stroke="#CB0505" stroke-width="3.5" stroke-linejoin="round"/>
<path d="M506.05 420.43H518.85V433.23H506.05Z" fill="#fff" stroke="#CB0505" stroke-width="3.5" stroke-linejoin="round"/>
<path d="M514.44 404.81H527.24V417.61H514.44Z" fill="#fff" stroke="#CB0505" stroke-width="3.5" stroke-linejoin="round"/>
<path d="M522.83 383.06H535.63V395.86H522.83Z" fill="#fff" stroke="#CB0505" stroke-width="3.5" stroke-linejoin="round"/>
<path d="M531.21 338.05H544.01V350.85H531.21Z" fill="#fff" stroke="#CB0505" stroke-width="3.5" stroke-linejoin="round"/>
<path d="M539.6 291.5H552.4V304.3H539.6Z" fill="#fff" stroke="#CB0505" stroke-width="3.5" stroke-linejoin="round"/>
<path d="M547.99 254.75H560.79V267.55H547.99Z" fill="#fff" stroke="#CB0505" stroke-width="3.5" stroke-linejoin="round"/>
<path d="M556.38 267.92H569.18V280.72H556.38Z" fill="#fff" stroke="#CB0505" stroke-width="3.5" stroke-linejoin="round"/>
<path d="M564.76 318.75H577.56V331.55H564.76Z" fill="#fff" stroke="#CB0505" stroke-width="3.5" stroke-linejoin="round"/>
<path d="M573.15 363.77H585.95V376.57H573.15Z" fill="#fff" stroke="#CB0505" stroke-width="3.5" stroke-linejoin="round"/>
<path d="M581.54 396.54H594.34V409.34H581.54Z" fill="#fff" stroke="#CB0505" stroke-width="3.5" stroke-linejoin="round"/>
<path d="M589.92 410.32H602.72V423.12H589.92Z" fill="#fff" stroke="#CB0505" stroke-width="3.5" stroke-linejoin="round"/>
<path d="M598.31 420.73H611.11V433.53H598.31Z" fill="#fff" stroke="#CB0505" stroke-width="3.5" stroke-linejoin="round"/>
</g>
<rect x="101.5" y="57.5" width="509.2" height="382.8" fill="none" stroke="#000" stroke-width="3.0"/>
<line x1="94.2" y1="440.3" x2="101.5" y2="440.3" stroke="#000" stroke-width="3.0" stroke-linecap="butt"/>
<text transform="translate(89,450.1) scale(0.96,1)" font-size="29.5" text-anchor="end" fill="#000" stroke="#000">0</text>
<line x1="94.2" y1="363.74" x2="101.5" y2="363.74" stroke="#000" stroke-width="3.0" stroke-linecap="butt"/>
<text transform="translate(89,373.54) scale(0.96,1)" font-size="29.5" text-anchor="end" fill="#000" stroke="#000">25</text>
<line x1="94.2" y1="287.18" x2="101.5" y2="287.18" stroke="#000" stroke-width="3.0" stroke-linecap="butt"/>
<text transform="translate(89,296.98) scale(0.96,1)" font-size="29.5" text-anchor="end" fill="#000" stroke="#000">50</text>
<line x1="94.2" y1="210.62" x2="101.5" y2="210.62" stroke="#000" stroke-width="3.0" stroke-linecap="butt"/>
<text transform="translate(89,220.42) scale(0.96,1)" font-size="29.5" text-anchor="end" fill="#000" stroke="#000">75</text>
<line x1="94.2" y1="134.06" x2="101.5" y2="134.06" stroke="#000" stroke-width="3.0" stroke-linecap="butt"/>
<text transform="translate(89,143.86) scale(0.96,1)" font-size="29.5" text-anchor="end" fill="#000" stroke="#000">100</text>
<line x1="94.2" y1="57.5" x2="101.5" y2="57.5" stroke="#000" stroke-width="3.0" stroke-linecap="butt"/>
<text transform="translate(89,67.3) scale(0.96,1)" font-size="29.5" text-anchor="end" fill="#000" stroke="#000">125</text>
<line x1="97.5" y1="402.02" x2="101.5" y2="402.02" stroke="#000" stroke-width="3.0" stroke-linecap="butt"/>
<line x1="97.5" y1="325.46" x2="101.5" y2="325.46" stroke="#000" stroke-width="3.0" stroke-linecap="butt"/>
<line x1="97.5" y1="248.9" x2="101.5" y2="248.9" stroke="#000" stroke-width="3.0" stroke-linecap="butt"/>
<line x1="97.5" y1="172.34" x2="101.5" y2="172.34" stroke="#000" stroke-width="3.0" stroke-linecap="butt"/>
<line x1="97.5" y1="95.78" x2="101.5" y2="95.78" stroke="#000" stroke-width="3.0" stroke-linecap="butt"/>
<line x1="131.45" y1="440.3" x2="131.45" y2="447.6" stroke="#000" stroke-width="3.0" stroke-linecap="butt"/>
<text transform="translate(131.45,475.7) scale(0.96,1)" font-size="29.5" text-anchor="middle" fill="#000" stroke="#000">400</text>
<line x1="251.26" y1="440.3" x2="251.26" y2="447.6" stroke="#000" stroke-width="3.0" stroke-linecap="butt"/>
<text transform="translate(251.26,475.7) scale(0.96,1)" font-size="29.5" text-anchor="middle" fill="#000" stroke="#000">600</text>
<line x1="371.08" y1="440.3" x2="371.08" y2="447.6" stroke="#000" stroke-width="3.0" stroke-linecap="butt"/>
<text transform="translate(371.08,475.7) scale(0.96,1)" font-size="29.5" text-anchor="middle" fill="#000" stroke="#000">800</text>
<line x1="490.89" y1="440.3" x2="490.89" y2="447.6" stroke="#000" stroke-width="3.0" stroke-linecap="butt"/>
<text transform="translate(490.89,475.7) scale(0.96,1)" font-size="29.5" text-anchor="middle" fill="#000" stroke="#000">1000</text>
<line x1="610.7" y1="440.3" x2="610.7" y2="447.6" stroke="#000" stroke-width="3.0" stroke-linecap="butt"/>
<text transform="translate(610.7,475.7) scale(0.96,1)" font-size="29.5" text-anchor="middle" fill="#000" stroke="#000">1200</text>
<line x1="191.36" y1="440.3" x2="191.36" y2="444.3" stroke="#000" stroke-width="3.0" stroke-linecap="butt"/>
<line x1="311.17" y1="440.3" x2="311.17" y2="444.3" stroke="#000" stroke-width="3.0" stroke-linecap="butt"/>
<line x1="430.98" y1="440.3" x2="430.98" y2="444.3" stroke="#000" stroke-width="3.0" stroke-linecap="butt"/>
<line x1="550.79" y1="440.3" x2="550.79" y2="444.3" stroke="#000" stroke-width="3.0" stroke-linecap="butt"/>
<text x="364.75" y="504.5" font-size="32.5" text-anchor="middle" fill="#000" stroke="#000">Wavelength (nm)</text>
<text transform="translate(33.5,242) rotate(-90)" font-size="32.5" text-anchor="middle" stroke="#000"><tspan font-style="italic">R</tspan> (mA/W)</text>
<line x1="142.2" y1="91.2" x2="196.8" y2="91.2" stroke="#0010BE" stroke-width="4.5" stroke-linecap="round"/>
<path d="M170 80L179.7 96.8L160.3 96.8Z" fill="#fff" stroke="#0010BE" stroke-width="3.5" stroke-linejoin="round"/>
<text x="271.5" y="100.15" font-size="25" text-anchor="end" fill="#000" stroke="#000">1.0 V</text>
<line x1="142.2" y1="121.95" x2="196.8" y2="121.95" stroke="#028C5E" stroke-width="4.5" stroke-linecap="round"/>
<path d="M170 133.15L179.7 116.35L160.3 116.35Z" fill="#fff" stroke="#028C5E" stroke-width="3.5" stroke-linejoin="round"/>
<text x="271.5" y="130.9" font-size="25" text-anchor="end" fill="#000" stroke="#000">2.0 V</text>
<line x1="142.2" y1="152.7" x2="196.8" y2="152.7" stroke="#A67A14" stroke-width="4.5" stroke-linecap="round"/>
<path d="M170 142.6L180.1 152.7L170 162.8L159.9 152.7Z" fill="#fff" stroke="#A67A14" stroke-width="3.5" stroke-linejoin="round"/>
<text x="271.5" y="161.65" font-size="25" text-anchor="end" fill="#000" stroke="#000">-1.0 V</text>
<line x1="142.2" y1="183.45" x2="196.8" y2="183.45" stroke="#CB0505" stroke-width="4.5" stroke-linecap="round"/>
<path d="M163.6 177.05H176.4V189.85H163.6Z" fill="#fff" stroke="#CB0505" stroke-width="3.5" stroke-linejoin="round"/>
<text x="271.5" y="192.4" font-size="25" text-anchor="end" fill="#000" stroke="#000">-2.0 V</text>
<text x="-2" y="31.2" font-size="43.5" text-anchor="start" fill="#000" stroke="#000">(a)</text>
<defs><clipPath id="cb"><rect x="101.4" y="550.4" width="509.6" height="382.6"/></clipPath></defs>
<g clip-path="url(#cb)">
<path d="M101.4 586.8L146.27 616.4L178.1 672.6L202.8 696.1L222.97 700.7L240.03 703.7L254.8 707.5L267.84 711.3L279.5 712.4L290.04 715.17L299.67 716.07L308.53 715.36L316.73 713.8L324.37 717.1L331.51 715.54L338.22 716.68L344.54 718.81L350.52 718.59L356.2 718.67L361.6 721.33L366.75 720.49L371.67 719.95L376.38 720.31L380.89 712L385.23 701L389.41 702L393.43 712L397.32 719L401.07 724.47L404.7 725.67L408.21 723.03L411.61 725.64L414.92 726.45L418.13 726.25L421.24 726.49L424.28 723.35L427.23 725.95L430.1 726.94L432.9 723.95L435.63 725.3L438.3 725.69L440.91 726.99L443.45 726.92L445.94 727.49L448.37 729.18L450.75 726.45L453.08 727.01L455.36 727.46L457.6 727.78L459.79 727.86L461.94 731.71L464.04 731.33L466.11 728.26L468.14 729.85L470.14 729.18L472.09 729.27L474.02 729.61L475.91 730.65L477.77 730.49L479.6 729.74L481.4 728.99L483.17 729.71L484.91 729.07L486.63 730.7L488.32 731.37L489.98 730.3L491.62 729.5L493.24 729.71L494.83 730.48L496.4 731.52L497.95 732.33L499.47 730.76L500.98 732.87L502.46 732.51L503.93 731.73L505.38 731.64L506.8 732.35L508.21 733.09L509.6 732.25L510.98 733.2L512.34 732.3L513.68 731.33L515 732.47L516.31 733.08L517.61 730.27L518.89 732.01L520.15 732.2L521.4 734.28L522.64 734.93L523.86 732.79L525.07 735.03L526.27 734.65L527.45 732.76L528.62 733.88L529.78 732.45L530.93 735.47L532.06 734.93L533.19 735.78L534.3 735.49L535.4 735.19L536.49 735.46L537.57 734.72L538.64 733.03L539.7 735.15L540.75 732.73L541.78 733.03L542.81 735.82L543.83 732.78L544.84 732.77L545.85 733.03L546.84 736.75L547.82 733.29L548.8 732.7L549.76 736.49L550.72 733.54L551.67 736.95L552.61 736.3L553.55 737.47L554.47 737.86L555.39 735.91L556.3 737.33L557.21 733.86L558.1 737.41L558.99 736.13L559.87 737.33L560.75 734.2L561.61 737.32L562.48 728L563.33 727.8L564.18 729L565.02 736.62L565.85 738.13L566.68 735.29L567.51 734.75L568.32 735.31L569.13 737.51L569.94 738.32L570.74 736.38L571.53 736.4L572.32 736.6L573.1 736.31L573.88 736.57L574.65 735.12L575.41 737.27L576.17 739.78L576.93 736.69L577.68 738.99L578.43 735.5L579.17 738.94L579.9 739.37L580.63 738.88L581.36 737.99L582.08 738.27L582.79 739.33L583.51 740.84L584.21 736L584.92 735.76L585.61 739.38L586.31 740.82L587 738.71L587.68 738.03L588.36 739.43L589.04 736.35L589.71 737.14L590.38 737.15L591.05 739.53L591.71 737.81L592.36 737L593.02 739.97L593.66 741.77L594.31 737.58L594.95 740.06L595.59 738.04L596.22 740.75L596.85 739.36L597.48 737.3L598.1 736.81L598.72 735.62L599.34 739.13L599.95 738.91L600.56 737.51L601.17 739.18L601.77 739.29L602.37 742.02L602.97 738.04L603.56 744.58L604.15 740.84L604.74 741.49L605.32 740.14L605.9 742.75L606.48 742.22L607.06 739.77L607.63 739.5L608.2 740.97L608.76 741.99L609.33 738.25L609.89 741.01L610.45 743.02L611 739.79" fill="none" stroke="#CB0505" stroke-width="4.6" stroke-linejoin="round" stroke-linecap="round"/>
<path d="M95 580.4H107.8V593.2H95Z" fill="#fff" stroke="#CB0505" stroke-width="3.5" stroke-linejoin="round"/>
<path d="M139.87 610H152.67V622.8H139.87Z" fill="#fff" stroke="#CB0505" stroke-width="3.5" stroke-linejoin="round"/>
<path d="M171.7 666.2H184.5V679H171.7Z" fill="#fff" stroke="#CB0505" stroke-width="3.5" stroke-linejoin="round"/>
<path d="M196.4 689.7H209.2V702.5H196.4Z" fill="#fff" stroke="#CB0505" stroke-width="3.5" stroke-linejoin="round"/>
<path d="M216.57 694.3H229.37V707.1H216.57Z" fill="#fff" stroke="#CB0505" stroke-width="3.5" stroke-linejoin="round"/>
<path d="M233.63 697.3H246.43V710.1H233.63Z" fill="#fff" stroke="#CB0505" stroke-width="3.5" stroke-linejoin="round"/>
<path d="M248.4 701.1H261.2V713.9H248.4Z" fill="#fff" stroke="#CB0505" stroke-width="3.5" stroke-linejoin="round"/>
<path d="M261.44 704.9H274.24V717.7H261.44Z" fill="#fff" stroke="#CB0505" stroke-width="3.5" stroke-linejoin="round"/>
<path d="M273.1 706H285.9V718.8H273.1Z" fill="#fff" stroke="#CB0505" stroke-width="3.5" stroke-linejoin="round"/>
<path d="M283.64 708.77H296.44V721.57H283.64Z" fill="#fff" stroke="#CB0505" stroke-width="3.5" stroke-linejoin="round"/>
<path d="M293.27 709.67H306.07V722.47H293.27Z" fill="#fff" stroke="#CB0505" stroke-width="3.5" stroke-linejoin="round"/>
<path d="M302.13 708.96H314.93V721.76H302.13Z" fill="#fff" stroke="#CB0505" stroke-width="3.5" stroke-linejoin="round"/>
<path d="M310.33 707.4H323.13V720.2H310.33Z" fill="#fff" stroke="#CB0505" stroke-width="3.5" stroke-linejoin="round"/>
<path d="M317.97 710.7H330.77V723.5H317.97Z" fill="#fff" stroke="#CB0505" stroke-width="3.5" stroke-linejoin="round"/>
<path d="M325.11 709.14H337.91V721.94H325.11Z" fill="#fff" stroke="#CB0505" stroke-width="3.5" stroke-linejoin="round"/>
<path d="M331.82 710.28H344.62V723.08H331.82Z" fill="#fff" stroke="#CB0505" stroke-width="3.5" stroke-linejoin="round"/>
<path d="M338.14 712.41H350.94V725.21H338.14Z" fill="#fff" stroke="#CB0505" stroke-width="3.5" stroke-linejoin="round"/>
<path d="M344.12 712.19H356.92V724.99H344.12Z" fill="#fff" stroke="#CB0505" stroke-width="3.5" stroke-linejoin="round"/>
<path d="M349.8 712.27H362.6V725.07H349.8Z" fill="#fff" stroke="#CB0505" stroke-width="3.5" stroke-linejoin="round"/>
<path d="M355.2 714.93H368V727.73H355.2Z" fill="#fff" stroke="#CB0505" stroke-width="3.5" stroke-linejoin="round"/>
<path d="M360.35 714.09H373.15V726.89H360.35Z" fill="#fff" stroke="#CB0505" stroke-width="3.5" stroke-linejoin="round"/>
<path d="M365.27 713.55H378.07V726.35H365.27Z" fill="#fff" stroke="#CB0505" stroke-width="3.5" stroke-linejoin="round"/>
<path d="M369.98 713.91H382.78V726.71H369.98Z" fill="#fff" stroke="#CB0505" stroke-width="3.5" stroke-linejoin="round"/>
<path d="M374.49 705.6H387.29V718.4H374.49Z" fill="#fff" stroke="#CB0505" stroke-width="3.5" stroke-linejoin="round"/>
<path d="M378.83 694.6H391.63V707.4H378.83Z" fill="#fff" stroke="#CB0505" stroke-width="3.5" stroke-linejoin="round"/>
<path d="M383.01 695.6H395.81V708.4H383.01Z" fill="#fff" stroke="#CB0505" stroke-width="3.5" stroke-linejoin="round"/>
<path d="M387.03 705.6H399.83V718.4H387.03Z" fill="#fff" stroke="#CB0505" stroke-width="3.5" stroke-linejoin="round"/>
<path d="M390.92 712.6H403.72V725.4H390.92Z" fill="#fff" stroke="#CB0505" stroke-width="3.5" stroke-linejoin="round"/>
<path d="M394.67 718.07H407.47V730.87H394.67Z" fill="#fff" stroke="#CB0505" stroke-width="3.5" stroke-linejoin="round"/>
<path d="M398.3 719.27H411.1V732.07H398.3ZM401.81 716.63H414.61V729.43H401.81ZM405.21 719.24H418.01V732.04H405.21ZM408.52 720.05H421.32V732.85H408.52ZM411.73 719.85H424.53V732.65H411.73ZM414.84 720.09H427.64V732.89H414.84ZM417.88 716.95H430.68V729.75H417.88ZM420.83 719.55H433.63V732.35H420.83ZM423.7 720.54H436.5V733.34H423.7ZM426.5 717.55H439.3V730.35H426.5ZM429.23 718.9H442.03V731.7H429.23ZM431.9 719.29H444.7V732.09H431.9ZM434.51 720.59H447.31V733.39H434.51ZM437.05 720.52H449.85V733.32H437.05ZM439.54 721.09H452.34V733.89H439.54ZM441.97 722.78H454.77V735.58H441.97ZM444.35 720.05H457.15V732.85H444.35ZM446.68 720.61H459.48V733.41H446.68ZM448.96 721.06H461.76V733.86H448.96ZM451.2 721.38H464V734.18H451.2ZM453.39 721.46H466.19V734.26H453.39ZM455.54 725.31H468.34V738.11H455.54ZM457.64 724.93H470.44V737.73H457.64ZM459.71 721.86H472.51V734.66H459.71ZM461.74 723.45H474.54V736.25H461.74ZM463.74 722.78H476.54V735.58H463.74ZM465.69 722.87H478.49V735.67H465.69ZM467.62 723.21H480.42V736.01H467.62ZM469.51 724.25H482.31V737.05H469.51ZM471.37 724.09H484.17V736.89H471.37ZM473.2 723.34H486V736.14H473.2ZM475 722.59H487.8V735.39H475ZM476.77 723.31H489.57V736.11H476.77ZM478.51 722.67H491.31V735.47H478.51ZM480.23 724.3H493.03V737.1H480.23ZM481.92 724.97H494.72V737.77H481.92ZM483.58 723.9H496.38V736.7H483.58ZM485.22 723.1H498.02V735.9H485.22ZM486.84 723.31H499.64V736.11H486.84ZM488.43 724.08H501.23V736.88H488.43ZM490 725.12H502.8V737.92H490ZM491.55 725.93H504.35V738.73H491.55ZM493.07 724.36H505.87V737.16H493.07ZM494.58 726.47H507.38V739.27H494.58ZM496.06 726.11H508.86V738.91H496.06ZM497.53 725.33H510.33V738.13H497.53ZM498.98 725.24H511.78V738.04H498.98ZM500.4 725.95H513.2V738.75H500.4ZM501.81 726.69H514.61V739.49H501.81ZM503.2 725.85H516V738.65H503.2ZM504.58 726.8H517.38V739.6H504.58ZM505.94 725.9H518.74V738.7H505.94ZM507.28 724.93H520.08V737.73H507.28ZM508.6 726.07H521.4V738.87H508.6ZM509.91 726.68H522.71V739.48H509.91ZM511.21 723.87H524.01V736.67H511.21ZM512.49 725.61H525.29V738.41H512.49ZM513.75 725.8H526.55V738.6H513.75ZM515 727.88H527.8V740.68H515ZM516.24 728.53H529.04V741.33H516.24ZM517.46 726.39H530.26V739.19H517.46ZM518.67 728.63H531.47V741.43H518.67ZM519.87 728.25H532.67V741.05H519.87ZM521.05 726.36H533.85V739.16H521.05ZM522.22 727.48H535.02V740.28H522.22ZM523.38 726.05H536.18V738.85H523.38ZM524.53 729.07H537.33V741.87H524.53ZM525.66 728.53H538.46V741.33H525.66ZM526.79 729.38H539.59V742.18H526.79ZM527.9 729.09H540.7V741.89H527.9ZM529 728.79H541.8V741.59H529ZM530.09 729.06H542.89V741.86H530.09ZM531.17 728.32H543.97V741.12H531.17ZM532.24 726.63H545.04V739.43H532.24ZM533.3 728.75H546.1V741.55H533.3ZM534.35 726.33H547.15V739.13H534.35ZM535.38 726.63H548.18V739.43H535.38ZM536.41 729.42H549.21V742.22H536.41ZM537.43 726.38H550.23V739.18H537.43ZM538.44 726.37H551.24V739.17H538.44ZM539.45 726.63H552.25V739.43H539.45ZM540.44 730.35H553.24V743.15H540.44ZM541.42 726.89H554.22V739.69H541.42ZM542.4 726.3H555.2V739.1H542.4ZM543.36 730.09H556.16V742.89H543.36ZM544.32 727.14H557.12V739.94H544.32ZM545.27 730.55H558.07V743.35H545.27ZM546.21 729.9H559.01V742.7H546.21ZM547.15 731.07H559.95V743.87H547.15ZM548.07 731.46H560.87V744.26H548.07ZM548.99 729.51H561.79V742.31H548.99ZM549.9 730.93H562.7V743.73H549.9ZM550.81 727.46H563.61V740.26H550.81ZM551.7 731.01H564.5V743.81H551.7ZM552.59 729.73H565.39V742.53H552.59ZM553.47 730.93H566.27V743.73H553.47ZM554.35 727.8H567.15V740.6H554.35ZM555.21 730.92H568.01V743.72H555.21Z" fill="#CB0505" stroke="#CB0505" stroke-width="3.5" stroke-linejoin="round"/>
<path d="M556.08 721.6H568.88V734.4H556.08Z" fill="#fff" stroke="#CB0505" stroke-width="3.5" stroke-linejoin="round"/>
<path d="M556.93 721.4H569.73V734.2H556.93Z" fill="#fff" stroke="#CB0505" stroke-width="3.5" stroke-linejoin="round"/>
<path d="M557.78 722.6H570.58V735.4H557.78Z" fill="#fff" stroke="#CB0505" stroke-width="3.5" stroke-linejoin="round"/>
<path d="M558.62 730.22H571.42V743.02H558.62ZM559.45 731.73H572.25V744.53H559.45ZM560.28 728.89H573.08V741.69H560.28ZM561.11 728.35H573.91V741.15H561.11ZM561.92 728.91H574.72V741.71H561.92ZM562.73 731.11H575.53V743.91H562.73ZM563.54 731.92H576.34V744.72H563.54ZM564.34 729.98H577.14V742.78H564.34ZM565.13 730H577.93V742.8H565.13ZM565.92 730.2H578.72V743H565.92ZM566.7 729.91H579.5V742.71H566.7ZM567.48 730.17H580.28V742.97H567.48ZM568.25 728.72H581.05V741.52H568.25ZM569.01 730.87H581.81V743.67H569.01ZM569.77 733.38H582.57V746.18H569.77ZM570.53 730.29H583.33V743.09H570.53ZM571.28 732.59H584.08V745.39H571.28ZM572.03 729.1H584.83V741.9H572.03ZM572.77 732.54H585.57V745.34H572.77ZM573.5 732.97H586.3V745.77H573.5ZM574.23 732.48H587.03V745.28H574.23ZM574.96 731.59H587.76V744.39H574.96ZM575.68 731.87H588.48V744.67H575.68ZM576.39 732.93H589.19V745.73H576.39ZM577.11 734.44H589.91V747.24H577.11ZM577.81 729.6H590.61V742.4H577.81ZM578.52 729.36H591.32V742.16H578.52ZM579.21 732.98H592.01V745.78H579.21ZM579.91 734.42H592.71V747.22H579.91ZM580.6 732.31H593.4V745.11H580.6ZM581.28 731.63H594.08V744.43H581.28ZM581.96 733.03H594.76V745.83H581.96ZM582.64 729.95H595.44V742.75H582.64ZM583.31 730.74H596.11V743.54H583.31ZM583.98 730.75H596.78V743.55H583.98ZM584.65 733.13H597.45V745.93H584.65ZM585.31 731.41H598.11V744.21H585.31ZM585.96 730.6H598.76V743.4H585.96ZM586.62 733.57H599.42V746.37H586.62ZM587.26 735.37H600.06V748.17H587.26ZM587.91 731.18H600.71V743.98H587.91ZM588.55 733.66H601.35V746.46H588.55ZM589.19 731.64H601.99V744.44H589.19ZM589.82 734.35H602.62V747.15H589.82ZM590.45 732.96H603.25V745.76H590.45ZM591.08 730.9H603.88V743.7H591.08ZM591.7 730.41H604.5V743.21H591.7ZM592.32 729.22H605.12V742.02H592.32ZM592.94 732.73H605.74V745.53H592.94ZM593.55 732.51H606.35V745.31H593.55ZM594.16 731.11H606.96V743.91H594.16ZM594.77 732.78H607.57V745.58H594.77ZM595.37 732.89H608.17V745.69H595.37ZM595.97 735.62H608.77V748.42H595.97ZM596.57 731.64H609.37V744.44H596.57ZM597.16 738.18H609.96V750.98H597.16ZM597.75 734.44H610.55V747.24H597.75ZM598.34 735.09H611.14V747.89H598.34ZM598.92 733.74H611.72V746.54H598.92ZM599.5 736.35H612.3V749.15H599.5ZM600.08 735.82H612.88V748.62H600.08ZM600.66 733.37H613.46V746.17H600.66ZM601.23 733.1H614.03V745.9H601.23ZM601.8 734.57H614.6V747.37H601.8ZM602.36 735.59H615.16V748.39H602.36ZM602.93 731.85H615.73V744.65H602.93ZM603.49 734.61H616.29V747.41H603.49ZM604.05 736.62H616.85V749.42H604.05Z" fill="#CB0505" stroke="#CB0505" stroke-width="3.5" stroke-linejoin="round"/>
<path d="M604.6 733.39H617.4V746.19H604.6Z" fill="#fff" stroke="#CB0505" stroke-width="3.5" stroke-linejoin="round"/>
</g>
<g clip-path="url(#cb)">
<path d="M101.4 630.5L146.27 660.8L178.1 712.4L202.8 728.4L222.97 734.8L240.03 737.1L254.8 739L267.84 741.7L279.5 743L290.04 743.45L299.67 745.38L308.53 745.04L316.73 745.85L324.37 747.71L331.51 748.52L338.22 750.1L344.54 749.21L350.52 750.82L356.2 751.41L361.6 751.03L366.75 754.19L371.67 752.49L376.38 752.69L380.89 730L385.23 712L389.41 704.4L393.43 728L397.32 752L401.07 758.72L404.7 760.92L408.21 760.29L411.61 762.19L414.92 761.52L418.13 763.33L421.24 761.96L424.28 762.36L427.23 762.9L430.1 764.66L432.9 764.64L435.63 764.16L438.3 763.78L440.91 765.75L443.45 766.66L445.94 765.95L448.37 764.49L450.75 764.67L453.08 764.95L455.36 765.28L457.6 764.99L459.79 765.17L461.94 767.05L464.04 767.81L466.11 765.86L468.14 768.1L470.14 766.9L472.09 767.94L474.02 768.48L475.91 768.75L477.77 766.26L479.6 767.19L481.4 768.03L483.17 769.11L484.91 766.91L486.63 767.58L488.32 769.3L489.98 767.35L491.62 768.17L493.24 768.17L494.83 769.04L496.4 769.8L497.95 767.95L499.47 769.6L500.98 769.64L502.46 770.03L503.93 769.25L505.38 760L506.8 754.4L508.21 758L509.6 768.76L510.98 770.27L512.34 769.39L513.68 768.93L515 768.63L516.31 770.18L517.61 769.96L518.89 770.34L520.15 769.49L521.4 769.89L522.64 769.13L523.86 770.66L525.07 768.72L526.27 769.92L527.45 770.72L528.62 770.64L529.78 769.16L530.93 769.45L532.06 771.11L533.19 770.5L534.3 771.35L535.4 771.52L536.49 770.58L537.57 771.98L538.64 771.42L539.7 770.27L540.75 770.42L541.78 769.7L542.81 770.72L543.83 772.22L544.84 769.67L545.85 771.06L546.84 769.61L547.82 769.74L548.8 771.59L549.76 770.62L550.72 770.04L551.67 770.39L552.61 772.02L553.55 771.99L554.47 770.33L555.39 771.22L556.3 773.4L557.21 771.12L558.1 772.09L558.99 771.75L559.87 772.98L560.75 772.3L561.61 772.97L562.48 762L563.33 759L564.18 763L565.02 770.63L565.85 773.02L566.68 770.69L567.51 770.22L568.32 773.54L569.13 770.98L569.94 773.28L570.74 770.61L571.53 772.06L572.32 771.4L573.1 773.5L573.88 772.88L574.65 773.19L575.41 773.51L576.17 773.84L576.93 771.97L577.68 772.75L578.43 772.09L579.17 770.94L579.9 773.62L580.63 772.82L581.36 773.67L582.08 771.52L582.79 766L583.51 768L584.21 774.1L584.92 771.78L585.61 772.75L586.31 773.3L587 771.76L587.68 773.68L588.36 774.66L589.04 773.36L589.71 774.31L590.38 774.03L591.05 772.34L591.71 772.65L592.36 775.1L593.02 772.34L593.66 772.47L594.31 771L594.95 771.64L595.59 771.37L596.22 774.43L596.85 773.84L597.48 774.56L598.1 775.18L598.72 773.9L599.34 775.32L599.95 773.62L600.56 773.24L601.17 775.52L601.77 775.35L602.37 775.47L602.97 773.65L603.56 774.94L604.15 773.22L604.74 775.59L605.32 775.31L605.9 772.62L606.48 775.17L607.06 772.01L607.63 771.58L608.2 774.18L608.76 772.18L609.33 773.25L609.89 773.87L610.45 771.18L611 774.04" fill="none" stroke="#A67A14" stroke-width="4.6" stroke-linejoin="round" stroke-linecap="round"/>
<path d="M101.4 620.4L111.5 630.5L101.4 640.6L91.3 630.5Z" fill="#fff" stroke="#A67A14" stroke-width="3.5" stroke-linejoin="round"/>
<path d="M146.27 650.7L156.37 660.8L146.27 670.9L136.17 660.8Z" fill="#fff" stroke="#A67A14" stroke-width="3.5" stroke-linejoin="round"/>
<path d="M178.1 702.3L188.2 712.4L178.1 722.5L168 712.4Z" fill="#fff" stroke="#A67A14" stroke-width="3.5" stroke-linejoin="round"/>
<path d="M202.8 718.3L212.9 728.4L202.8 738.5L192.7 728.4Z" fill="#fff" stroke="#A67A14" stroke-width="3.5" stroke-linejoin="round"/>
<path d="M222.97 724.7L233.07 734.8L222.97 744.9L212.87 734.8Z" fill="#fff" stroke="#A67A14" stroke-width="3.5" stroke-linejoin="round"/>
<path d="M240.03 727L250.13 737.1L240.03 747.2L229.93 737.1Z" fill="#fff" stroke="#A67A14" stroke-width="3.5" stroke-linejoin="round"/>
<path d="M254.8 728.9L264.9 739L254.8 749.1L244.7 739Z" fill="#fff" stroke="#A67A14" stroke-width="3.5" stroke-linejoin="round"/>
<path d="M267.84 731.6L277.94 741.7L267.84 751.8L257.74 741.7Z" fill="#fff" stroke="#A67A14" stroke-width="3.5" stroke-linejoin="round"/>
<path d="M279.5 732.9L289.6 743L279.5 753.1L269.4 743Z" fill="#fff" stroke="#A67A14" stroke-width="3.5" stroke-linejoin="round"/>
<path d="M290.04 733.35L300.14 743.45L290.04 753.55L279.94 743.45Z" fill="#fff" stroke="#A67A14" stroke-width="3.5" stroke-linejoin="round"/>
<path d="M299.67 735.28L309.77 745.38L299.67 755.48L289.57 745.38Z" fill="#fff" stroke="#A67A14" stroke-width="3.5" stroke-linejoin="round"/>
<path d="M308.53 734.94L318.63 745.04L308.53 755.14L298.43 745.04Z" fill="#fff" stroke="#A67A14" stroke-width="3.5" stroke-linejoin="round"/>
<path d="M316.73 735.75L326.83 745.85L316.73 755.95L306.63 745.85Z" fill="#fff" stroke="#A67A14" stroke-width="3.5" stroke-linejoin="round"/>
<path d="M324.37 737.61L334.47 747.71L324.37 757.81L314.27 747.71Z" fill="#fff" stroke="#A67A14" stroke-width="3.5" stroke-linejoin="round"/>
<path d="M331.51 738.42L341.61 748.52L331.51 758.62L321.41 748.52Z" fill="#fff" stroke="#A67A14" stroke-width="3.5" stroke-linejoin="round"/>
<path d="M338.22 740L348.32 750.1L338.22 760.2L328.12 750.1Z" fill="#fff" stroke="#A67A14" stroke-width="3.5" stroke-linejoin="round"/>
<path d="M344.54 739.11L354.64 749.21L344.54 759.31L334.44 749.21Z" fill="#fff" stroke="#A67A14" stroke-width="3.5" stroke-linejoin="round"/>
<path d="M350.52 740.72L360.62 750.82L350.52 760.92L340.42 750.82Z" fill="#fff" stroke="#A67A14" stroke-width="3.5" stroke-linejoin="round"/>
<path d="M356.2 741.31L366.3 751.41L356.2 761.51L346.1 751.41Z" fill="#fff" stroke="#A67A14" stroke-width="3.5" stroke-linejoin="round"/>
<path d="M361.6 740.93L371.7 751.03L361.6 761.13L351.5 751.03Z" fill="#fff" stroke="#A67A14" stroke-width="3.5" stroke-linejoin="round"/>
<path d="M366.75 744.09L376.85 754.19L366.75 764.29L356.65 754.19Z" fill="#fff" stroke="#A67A14" stroke-width="3.5" stroke-linejoin="round"/>
<path d="M371.67 742.39L381.77 752.49L371.67 762.59L361.57 752.49Z" fill="#fff" stroke="#A67A14" stroke-width="3.5" stroke-linejoin="round"/>
<path d="M376.38 742.59L386.48 752.69L376.38 762.79L366.28 752.69Z" fill="#fff" stroke="#A67A14" stroke-width="3.5" stroke-linejoin="round"/>
<path d="M380.89 719.9L390.99 730L380.89 740.1L370.79 730Z" fill="#fff" stroke="#A67A14" stroke-width="3.5" stroke-linejoin="round"/>
<path d="M385.23 701.9L395.33 712L385.23 722.1L375.13 712Z" fill="#fff" stroke="#A67A14" stroke-width="3.5" stroke-linejoin="round"/>
<path d="M389.41 694.3L399.51 704.4L389.41 714.5L379.31 704.4Z" fill="#fff" stroke="#A67A14" stroke-width="3.5" stroke-linejoin="round"/>
<path d="M393.43 717.9L403.53 728L393.43 738.1L383.33 728Z" fill="#fff" stroke="#A67A14" stroke-width="3.5" stroke-linejoin="round"/>
<path d="M397.32 741.9L407.42 752L397.32 762.1L387.22 752Z" fill="#fff" stroke="#A67A14" stroke-width="3.5" stroke-linejoin="round"/>
<path d="M401.07 748.62L411.17 758.72L401.07 768.82L390.97 758.72Z" fill="#fff" stroke="#A67A14" stroke-width="3.5" stroke-linejoin="round"/>
<path d="M404.7 750.82L414.8 760.92L404.7 771.02L394.6 760.92ZM408.21 750.19L418.31 760.29L408.21 770.39L398.11 760.29ZM411.61 752.09L421.71 762.19L411.61 772.29L401.51 762.19ZM414.92 751.42L425.02 761.52L414.92 771.62L404.82 761.52ZM418.13 753.23L428.23 763.33L418.13 773.43L408.03 763.33ZM421.24 751.86L431.34 761.96L421.24 772.06L411.14 761.96ZM424.28 752.26L434.38 762.36L424.28 772.46L414.18 762.36ZM427.23 752.8L437.33 762.9L427.23 773L417.13 762.9ZM430.1 754.56L440.2 764.66L430.1 774.76L420 764.66ZM432.9 754.54L443 764.64L432.9 774.74L422.8 764.64ZM435.63 754.06L445.73 764.16L435.63 774.26L425.53 764.16ZM438.3 753.68L448.4 763.78L438.3 773.88L428.2 763.78ZM440.91 755.65L451.01 765.75L440.91 775.85L430.81 765.75ZM443.45 756.56L453.55 766.66L443.45 776.76L433.35 766.66ZM445.94 755.85L456.04 765.95L445.94 776.05L435.84 765.95ZM448.37 754.39L458.47 764.49L448.37 774.59L438.27 764.49ZM450.75 754.57L460.85 764.67L450.75 774.77L440.65 764.67ZM453.08 754.85L463.18 764.95L453.08 775.05L442.98 764.95ZM455.36 755.18L465.46 765.28L455.36 775.38L445.26 765.28ZM457.6 754.89L467.7 764.99L457.6 775.09L447.5 764.99ZM459.79 755.07L469.89 765.17L459.79 775.27L449.69 765.17ZM461.94 756.95L472.04 767.05L461.94 777.15L451.84 767.05ZM464.04 757.71L474.14 767.81L464.04 777.91L453.94 767.81ZM466.11 755.76L476.21 765.86L466.11 775.96L456.01 765.86ZM468.14 758L478.24 768.1L468.14 778.2L458.04 768.1ZM470.14 756.8L480.24 766.9L470.14 777L460.04 766.9ZM472.09 757.84L482.19 767.94L472.09 778.04L461.99 767.94ZM474.02 758.38L484.12 768.48L474.02 778.58L463.92 768.48ZM475.91 758.65L486.01 768.75L475.91 778.85L465.81 768.75ZM477.77 756.16L487.87 766.26L477.77 776.36L467.67 766.26ZM479.6 757.09L489.7 767.19L479.6 777.29L469.5 767.19ZM481.4 757.93L491.5 768.03L481.4 778.13L471.3 768.03ZM483.17 759.01L493.27 769.11L483.17 779.21L473.07 769.11ZM484.91 756.81L495.01 766.91L484.91 777.01L474.81 766.91ZM486.63 757.48L496.73 767.58L486.63 777.68L476.53 767.58ZM488.32 759.2L498.42 769.3L488.32 779.4L478.22 769.3ZM489.98 757.25L500.08 767.35L489.98 777.45L479.88 767.35ZM491.62 758.07L501.72 768.17L491.62 778.27L481.52 768.17ZM493.24 758.07L503.34 768.17L493.24 778.27L483.14 768.17ZM494.83 758.94L504.93 769.04L494.83 779.14L484.73 769.04ZM496.4 759.7L506.5 769.8L496.4 779.9L486.3 769.8ZM497.95 757.85L508.05 767.95L497.95 778.05L487.85 767.95ZM499.47 759.5L509.57 769.6L499.47 779.7L489.37 769.6ZM500.98 759.54L511.08 769.64L500.98 779.74L490.88 769.64ZM502.46 759.93L512.56 770.03L502.46 780.13L492.36 770.03ZM503.93 759.15L514.03 769.25L503.93 779.35L493.83 769.25Z" fill="#A67A14" stroke="#A67A14" stroke-width="3.5" stroke-linejoin="round"/>
<path d="M505.38 749.9L515.48 760L505.38 770.1L495.28 760Z" fill="#fff" stroke="#A67A14" stroke-width="3.5" stroke-linejoin="round"/>
<path d="M506.8 744.3L516.9 754.4L506.8 764.5L496.7 754.4Z" fill="#fff" stroke="#A67A14" stroke-width="3.5" stroke-linejoin="round"/>
<path d="M508.21 747.9L518.31 758L508.21 768.1L498.11 758Z" fill="#fff" stroke="#A67A14" stroke-width="3.5" stroke-linejoin="round"/>
<path d="M509.6 758.66L519.7 768.76L509.6 778.86L499.5 768.76ZM510.98 760.17L521.08 770.27L510.98 780.37L500.88 770.27ZM512.34 759.29L522.44 769.39L512.34 779.49L502.24 769.39ZM513.68 758.83L523.78 768.93L513.68 779.03L503.58 768.93ZM515 758.53L525.1 768.63L515 778.73L504.9 768.63ZM516.31 760.08L526.41 770.18L516.31 780.28L506.21 770.18ZM517.61 759.86L527.71 769.96L517.61 780.06L507.51 769.96ZM518.89 760.24L528.99 770.34L518.89 780.44L508.79 770.34ZM520.15 759.39L530.25 769.49L520.15 779.59L510.05 769.49ZM521.4 759.79L531.5 769.89L521.4 779.99L511.3 769.89ZM522.64 759.03L532.74 769.13L522.64 779.23L512.54 769.13ZM523.86 760.56L533.96 770.66L523.86 780.76L513.76 770.66ZM525.07 758.62L535.17 768.72L525.07 778.82L514.97 768.72ZM526.27 759.82L536.37 769.92L526.27 780.02L516.17 769.92ZM527.45 760.62L537.55 770.72L527.45 780.82L517.35 770.72ZM528.62 760.54L538.72 770.64L528.62 780.74L518.52 770.64ZM529.78 759.06L539.88 769.16L529.78 779.26L519.68 769.16ZM530.93 759.35L541.03 769.45L530.93 779.55L520.83 769.45ZM532.06 761.01L542.16 771.11L532.06 781.21L521.96 771.11ZM533.19 760.4L543.29 770.5L533.19 780.6L523.09 770.5ZM534.3 761.25L544.4 771.35L534.3 781.45L524.2 771.35ZM535.4 761.42L545.5 771.52L535.4 781.62L525.3 771.52ZM536.49 760.48L546.59 770.58L536.49 780.68L526.39 770.58ZM537.57 761.88L547.67 771.98L537.57 782.08L527.47 771.98ZM538.64 761.32L548.74 771.42L538.64 781.52L528.54 771.42ZM539.7 760.17L549.8 770.27L539.7 780.37L529.6 770.27ZM540.75 760.32L550.85 770.42L540.75 780.52L530.65 770.42ZM541.78 759.6L551.88 769.7L541.78 779.8L531.68 769.7ZM542.81 760.62L552.91 770.72L542.81 780.82L532.71 770.72ZM543.83 762.12L553.93 772.22L543.83 782.32L533.73 772.22ZM544.84 759.57L554.94 769.67L544.84 779.77L534.74 769.67ZM545.85 760.96L555.95 771.06L545.85 781.16L535.75 771.06ZM546.84 759.51L556.94 769.61L546.84 779.71L536.74 769.61ZM547.82 759.64L557.92 769.74L547.82 779.84L537.72 769.74ZM548.8 761.49L558.9 771.59L548.8 781.69L538.7 771.59ZM549.76 760.52L559.86 770.62L549.76 780.72L539.66 770.62ZM550.72 759.94L560.82 770.04L550.72 780.14L540.62 770.04ZM551.67 760.29L561.77 770.39L551.67 780.49L541.57 770.39ZM552.61 761.92L562.71 772.02L552.61 782.12L542.51 772.02ZM553.55 761.89L563.65 771.99L553.55 782.09L543.45 771.99ZM554.47 760.23L564.57 770.33L554.47 780.43L544.37 770.33ZM555.39 761.12L565.49 771.22L555.39 781.32L545.29 771.22ZM556.3 763.3L566.4 773.4L556.3 783.5L546.2 773.4ZM557.21 761.02L567.31 771.12L557.21 781.22L547.11 771.12ZM558.1 761.99L568.2 772.09L558.1 782.19L548 772.09ZM558.99 761.65L569.09 771.75L558.99 781.85L548.89 771.75ZM559.87 762.88L569.97 772.98L559.87 783.08L549.77 772.98ZM560.75 762.2L570.85 772.3L560.75 782.4L550.65 772.3ZM561.61 762.87L571.71 772.97L561.61 783.07L551.51 772.97Z" fill="#A67A14" stroke="#A67A14" stroke-width="3.5" stroke-linejoin="round"/>
<path d="M562.48 751.9L572.58 762L562.48 772.1L552.38 762Z" fill="#fff" stroke="#A67A14" stroke-width="3.5" stroke-linejoin="round"/>
<path d="M563.33 748.9L573.43 759L563.33 769.1L553.23 759Z" fill="#fff" stroke="#A67A14" stroke-width="3.5" stroke-linejoin="round"/>
<path d="M564.18 752.9L574.28 763L564.18 773.1L554.08 763Z" fill="#fff" stroke="#A67A14" stroke-width="3.5" stroke-linejoin="round"/>
<path d="M565.02 760.53L575.12 770.63L565.02 780.73L554.92 770.63ZM565.85 762.92L575.95 773.02L565.85 783.12L555.75 773.02ZM566.68 760.59L576.78 770.69L566.68 780.79L556.58 770.69ZM567.51 760.12L577.61 770.22L567.51 780.32L557.41 770.22ZM568.32 763.44L578.42 773.54L568.32 783.64L558.22 773.54ZM569.13 760.88L579.23 770.98L569.13 781.08L559.03 770.98ZM569.94 763.18L580.04 773.28L569.94 783.38L559.84 773.28ZM570.74 760.51L580.84 770.61L570.74 780.71L560.64 770.61ZM571.53 761.96L581.63 772.06L571.53 782.16L561.43 772.06ZM572.32 761.3L582.42 771.4L572.32 781.5L562.22 771.4ZM573.1 763.4L583.2 773.5L573.1 783.6L563 773.5ZM573.88 762.78L583.98 772.88L573.88 782.98L563.78 772.88ZM574.65 763.09L584.75 773.19L574.65 783.29L564.55 773.19ZM575.41 763.41L585.51 773.51L575.41 783.61L565.31 773.51ZM576.17 763.74L586.27 773.84L576.17 783.94L566.07 773.84ZM576.93 761.87L587.03 771.97L576.93 782.07L566.83 771.97ZM577.68 762.65L587.78 772.75L577.68 782.85L567.58 772.75ZM578.43 761.99L588.53 772.09L578.43 782.19L568.33 772.09ZM579.17 760.84L589.27 770.94L579.17 781.04L569.07 770.94ZM579.9 763.52L590 773.62L579.9 783.72L569.8 773.62ZM580.63 762.72L590.73 772.82L580.63 782.92L570.53 772.82ZM581.36 763.57L591.46 773.67L581.36 783.77L571.26 773.67ZM582.08 761.42L592.18 771.52L582.08 781.62L571.98 771.52Z" fill="#A67A14" stroke="#A67A14" stroke-width="3.5" stroke-linejoin="round"/>
<path d="M582.79 755.9L592.89 766L582.79 776.1L572.69 766Z" fill="#fff" stroke="#A67A14" stroke-width="3.5" stroke-linejoin="round"/>
<path d="M583.51 757.9L593.61 768L583.51 778.1L573.41 768Z" fill="#fff" stroke="#A67A14" stroke-width="3.5" stroke-linejoin="round"/>
<path d="M584.21 764L594.31 774.1L584.21 784.2L574.11 774.1ZM584.92 761.68L595.02 771.78L584.92 781.88L574.82 771.78ZM585.61 762.65L595.71 772.75L585.61 782.85L575.51 772.75ZM586.31 763.2L596.41 773.3L586.31 783.4L576.21 773.3ZM587 761.66L597.1 771.76L587 781.86L576.9 771.76ZM587.68 763.58L597.78 773.68L587.68 783.78L577.58 773.68ZM588.36 764.56L598.46 774.66L588.36 784.76L578.26 774.66ZM589.04 763.26L599.14 773.36L589.04 783.46L578.94 773.36ZM589.71 764.21L599.81 774.31L589.71 784.41L579.61 774.31ZM590.38 763.93L600.48 774.03L590.38 784.13L580.28 774.03ZM591.05 762.24L601.15 772.34L591.05 782.44L580.95 772.34ZM591.71 762.55L601.81 772.65L591.71 782.75L581.61 772.65ZM592.36 765L602.46 775.1L592.36 785.2L582.26 775.1ZM593.02 762.24L603.12 772.34L593.02 782.44L582.92 772.34ZM593.66 762.37L603.76 772.47L593.66 782.57L583.56 772.47ZM594.31 760.9L604.41 771L594.31 781.1L584.21 771ZM594.95 761.54L605.05 771.64L594.95 781.74L584.85 771.64ZM595.59 761.27L605.69 771.37L595.59 781.47L585.49 771.37ZM596.22 764.33L606.32 774.43L596.22 784.53L586.12 774.43ZM596.85 763.74L606.95 773.84L596.85 783.94L586.75 773.84ZM597.48 764.46L607.58 774.56L597.48 784.66L587.38 774.56ZM598.1 765.08L608.2 775.18L598.1 785.28L588 775.18ZM598.72 763.8L608.82 773.9L598.72 784L588.62 773.9ZM599.34 765.22L609.44 775.32L599.34 785.42L589.24 775.32ZM599.95 763.52L610.05 773.62L599.95 783.72L589.85 773.62ZM600.56 763.14L610.66 773.24L600.56 783.34L590.46 773.24ZM601.17 765.42L611.27 775.52L601.17 785.62L591.07 775.52ZM601.77 765.25L611.87 775.35L601.77 785.45L591.67 775.35ZM602.37 765.37L612.47 775.47L602.37 785.57L592.27 775.47ZM602.97 763.55L613.07 773.65L602.97 783.75L592.87 773.65ZM603.56 764.84L613.66 774.94L603.56 785.04L593.46 774.94ZM604.15 763.12L614.25 773.22L604.15 783.32L594.05 773.22ZM604.74 765.49L614.84 775.59L604.74 785.69L594.64 775.59ZM605.32 765.21L615.42 775.31L605.32 785.41L595.22 775.31ZM605.9 762.52L616 772.62L605.9 782.72L595.8 772.62ZM606.48 765.07L616.58 775.17L606.48 785.27L596.38 775.17ZM607.06 761.91L617.16 772.01L607.06 782.11L596.96 772.01ZM607.63 761.48L617.73 771.58L607.63 781.68L597.53 771.58ZM608.2 764.08L618.3 774.18L608.2 784.28L598.1 774.18ZM608.76 762.08L618.86 772.18L608.76 782.28L598.66 772.18ZM609.33 763.15L619.43 773.25L609.33 783.35L599.23 773.25ZM609.89 763.77L619.99 773.87L609.89 783.97L599.79 773.87ZM610.45 761.08L620.55 771.18L610.45 781.28L600.35 771.18Z" fill="#A67A14" stroke="#A67A14" stroke-width="3.5" stroke-linejoin="round"/>
<path d="M611 763.94L621.1 774.04L611 784.14L600.9 774.04Z" fill="#fff" stroke="#A67A14" stroke-width="3.5" stroke-linejoin="round"/>
</g>
<g clip-path="url(#cb)">
<path d="M101.4 732.5L146.27 759.8L178.1 784.5L202.8 787.1L222.97 790.2L240.03 793.2L254.8 795.9L267.84 796.6L279.5 797L290.04 795.79L299.67 800.19L308.53 802.04L316.73 806.89L324.37 807.03L331.51 806.61L338.22 809.27L344.54 808.93L350.52 809.63L356.2 808.96L361.6 808.67L366.75 809.41L371.67 807.32L376.38 777L380.89 736L385.23 716L389.41 716L393.43 731L397.32 767L401.07 816.11L404.7 816.33L408.21 817L411.61 818.03L414.92 819.84L418.13 820.26L421.24 820.51L424.28 820.63L427.23 819.29L430.1 821.71L432.9 819.93L435.63 819.67L438.3 821.01L440.91 821.88L443.45 820.88L445.94 822L448.37 821.32L450.75 823.96L453.08 822.86L455.36 823.24L457.6 823.66L459.79 814L461.94 810.4L464.04 815L466.11 825.17L468.14 826.18L470.14 824.65L472.09 825.96L474.02 827.69L475.91 827.98L477.77 826.09L479.6 828.87L481.4 827.67L483.17 829.59L484.91 827.79L486.63 827.52L488.32 828.95L489.98 830.27L491.62 829.17L493.24 830.74L494.83 830.46L496.4 829.74L497.95 829.95L499.47 830.93L500.98 830.87L502.46 830.9L503.93 812L505.38 791L506.8 777L508.21 805L509.6 815L510.98 831.26L512.34 832.07L513.68 830.76L515 830.8L516.31 831.74L517.61 831.98L518.89 831.18L520.15 832.67L521.4 833.96L522.64 832.9L523.86 833.79L525.07 834.3L526.27 834.48L527.45 834.88L528.62 833.28L529.78 834.26L530.93 832.72L532.06 835.15L533.19 833.68L534.3 834.05L535.4 835.47L536.49 833.47L537.57 818L538.64 797L539.7 805L540.75 815L541.78 833.48L542.81 834.74L543.83 833.55L544.84 836.38L545.85 834.35L546.84 834.66L547.82 835.29L548.8 835.74L549.76 835.36L550.72 836.13L551.67 836.44L552.61 835.79L553.55 834.51L554.47 837.77L555.39 836.73L556.3 834.4L557.21 835.99L558.1 837.13L558.99 837.83L559.87 834.19L560.75 833.94L561.61 812L562.48 806L563.33 795L564.18 800L565.02 812L565.85 836.33L566.68 837.05L567.51 838.58L568.32 835.94L569.13 836.65L569.94 835.38L570.74 837.45L571.53 834.97L572.32 838.44L573.1 836.89L573.88 837.42L574.65 835.11L575.41 836.1L576.17 837.11L576.93 839.02L577.68 837.88L578.43 836.88L579.17 839.99L579.9 838.58L580.63 837.97L581.36 836.6L582.08 820L582.79 810L583.51 806L584.21 812L584.92 838.5L585.61 837.51L586.31 839.59L587 840.02L587.68 839.93L588.36 839.78L589.04 837.08L589.71 836.12L590.38 837.96L591.05 837.06L591.71 836.45L592.36 839.99L593.02 836.85L593.66 839.75L594.31 840.34L594.95 836.7L595.59 841.06L596.22 838.6L596.85 837.82L597.48 838.01L598.1 837.1L598.72 839.77L599.34 828L599.95 822L600.56 820L601.17 826L601.77 838.93L602.37 839.02L602.97 837.7L603.56 838.15L604.15 838.12L604.74 840.56L605.32 839.12L605.9 837.86L606.48 838.4L607.06 839.72L607.63 840.57L608.2 838.72L608.76 841.48L609.33 839.05L609.89 841.43L610.45 840.83L611 838.44" fill="none" stroke="#028C5E" stroke-width="4.6" stroke-linejoin="round" stroke-linecap="round"/>
<path d="M101.4 743.7L111.1 726.9L91.7 726.9Z" fill="#fff" stroke="#028C5E" stroke-width="3.5" stroke-linejoin="round"/>
<path d="M146.27 771L155.97 754.2L136.57 754.2Z" fill="#fff" stroke="#028C5E" stroke-width="3.5" stroke-linejoin="round"/>
<path d="M178.1 795.7L187.8 778.9L168.4 778.9Z" fill="#fff" stroke="#028C5E" stroke-width="3.5" stroke-linejoin="round"/>
<path d="M202.8 798.3L212.5 781.5L193.1 781.5Z" fill="#fff" stroke="#028C5E" stroke-width="3.5" stroke-linejoin="round"/>
<path d="M222.97 801.4L232.67 784.6L213.27 784.6Z" fill="#fff" stroke="#028C5E" stroke-width="3.5" stroke-linejoin="round"/>
<path d="M240.03 804.4L249.73 787.6L230.33 787.6Z" fill="#fff" stroke="#028C5E" stroke-width="3.5" stroke-linejoin="round"/>
<path d="M254.8 807.1L264.5 790.3L245.1 790.3Z" fill="#fff" stroke="#028C5E" stroke-width="3.5" stroke-linejoin="round"/>
<path d="M267.84 807.8L277.54 791L258.14 791Z" fill="#fff" stroke="#028C5E" stroke-width="3.5" stroke-linejoin="round"/>
<path d="M279.5 808.2L289.2 791.4L269.8 791.4Z" fill="#fff" stroke="#028C5E" stroke-width="3.5" stroke-linejoin="round"/>
<path d="M290.04 806.99L299.74 790.19L280.34 790.19Z" fill="#fff" stroke="#028C5E" stroke-width="3.5" stroke-linejoin="round"/>
<path d="M299.67 811.39L309.37 794.59L289.97 794.59Z" fill="#fff" stroke="#028C5E" stroke-width="3.5" stroke-linejoin="round"/>
<path d="M308.53 813.24L318.23 796.44L298.83 796.44Z" fill="#fff" stroke="#028C5E" stroke-width="3.5" stroke-linejoin="round"/>
<path d="M316.73 818.09L326.43 801.29L307.03 801.29Z" fill="#fff" stroke="#028C5E" stroke-width="3.5" stroke-linejoin="round"/>
<path d="M324.37 818.23L334.07 801.43L314.67 801.43Z" fill="#fff" stroke="#028C5E" stroke-width="3.5" stroke-linejoin="round"/>
<path d="M331.51 817.81L341.21 801.01L321.81 801.01Z" fill="#fff" stroke="#028C5E" stroke-width="3.5" stroke-linejoin="round"/>
<path d="M338.22 820.47L347.92 803.67L328.52 803.67Z" fill="#fff" stroke="#028C5E" stroke-width="3.5" stroke-linejoin="round"/>
<path d="M344.54 820.13L354.24 803.33L334.84 803.33Z" fill="#fff" stroke="#028C5E" stroke-width="3.5" stroke-linejoin="round"/>
<path d="M350.52 820.83L360.22 804.03L340.82 804.03Z" fill="#fff" stroke="#028C5E" stroke-width="3.5" stroke-linejoin="round"/>
<path d="M356.2 820.16L365.9 803.36L346.5 803.36Z" fill="#fff" stroke="#028C5E" stroke-width="3.5" stroke-linejoin="round"/>
<path d="M361.6 819.87L371.3 803.07L351.9 803.07Z" fill="#fff" stroke="#028C5E" stroke-width="3.5" stroke-linejoin="round"/>
<path d="M366.75 820.61L376.45 803.81L357.05 803.81Z" fill="#fff" stroke="#028C5E" stroke-width="3.5" stroke-linejoin="round"/>
<path d="M371.67 818.52L381.37 801.72L361.97 801.72Z" fill="#fff" stroke="#028C5E" stroke-width="3.5" stroke-linejoin="round"/>
<path d="M376.38 788.2L386.08 771.4L366.68 771.4Z" fill="#fff" stroke="#028C5E" stroke-width="3.5" stroke-linejoin="round"/>
<path d="M380.89 747.2L390.59 730.4L371.19 730.4Z" fill="#fff" stroke="#028C5E" stroke-width="3.5" stroke-linejoin="round"/>
<path d="M385.23 727.2L394.93 710.4L375.53 710.4Z" fill="#fff" stroke="#028C5E" stroke-width="3.5" stroke-linejoin="round"/>
<path d="M389.41 727.2L399.11 710.4L379.71 710.4Z" fill="#fff" stroke="#028C5E" stroke-width="3.5" stroke-linejoin="round"/>
<path d="M393.43 742.2L403.13 725.4L383.73 725.4Z" fill="#fff" stroke="#028C5E" stroke-width="3.5" stroke-linejoin="round"/>
<path d="M397.32 778.2L407.02 761.4L387.62 761.4Z" fill="#fff" stroke="#028C5E" stroke-width="3.5" stroke-linejoin="round"/>
<path d="M401.07 827.31L410.77 810.51L391.37 810.51Z" fill="#fff" stroke="#028C5E" stroke-width="3.5" stroke-linejoin="round"/>
<path d="M404.7 827.53L414.4 810.73L395 810.73ZM408.21 828.2L417.91 811.4L398.51 811.4ZM411.61 829.23L421.31 812.43L401.91 812.43ZM414.92 831.04L424.62 814.24L405.22 814.24ZM418.13 831.46L427.83 814.66L408.43 814.66ZM421.24 831.71L430.94 814.91L411.54 814.91ZM424.28 831.83L433.98 815.03L414.58 815.03ZM427.23 830.49L436.93 813.69L417.53 813.69ZM430.1 832.91L439.8 816.11L420.4 816.11ZM432.9 831.13L442.6 814.33L423.2 814.33ZM435.63 830.87L445.33 814.07L425.93 814.07ZM438.3 832.21L448 815.41L428.6 815.41ZM440.91 833.08L450.61 816.28L431.21 816.28ZM443.45 832.08L453.15 815.28L433.75 815.28ZM445.94 833.2L455.64 816.4L436.24 816.4ZM448.37 832.52L458.07 815.72L438.67 815.72ZM450.75 835.16L460.45 818.36L441.05 818.36ZM453.08 834.06L462.78 817.26L443.38 817.26ZM455.36 834.44L465.06 817.64L445.66 817.64ZM457.6 834.86L467.3 818.06L447.9 818.06Z" fill="#028C5E" stroke="#028C5E" stroke-width="3.5" stroke-linejoin="round"/>
<path d="M459.79 825.2L469.49 808.4L450.09 808.4Z" fill="#fff" stroke="#028C5E" stroke-width="3.5" stroke-linejoin="round"/>
<path d="M461.94 821.6L471.64 804.8L452.24 804.8Z" fill="#fff" stroke="#028C5E" stroke-width="3.5" stroke-linejoin="round"/>
<path d="M464.04 826.2L473.74 809.4L454.34 809.4Z" fill="#fff" stroke="#028C5E" stroke-width="3.5" stroke-linejoin="round"/>
<path d="M466.11 836.37L475.81 819.57L456.41 819.57ZM468.14 837.38L477.84 820.58L458.44 820.58ZM470.14 835.85L479.84 819.05L460.44 819.05ZM472.09 837.16L481.79 820.36L462.39 820.36ZM474.02 838.89L483.72 822.09L464.32 822.09ZM475.91 839.18L485.61 822.38L466.21 822.38ZM477.77 837.29L487.47 820.49L468.07 820.49ZM479.6 840.07L489.3 823.27L469.9 823.27ZM481.4 838.87L491.1 822.07L471.7 822.07ZM483.17 840.79L492.87 823.99L473.47 823.99ZM484.91 838.99L494.61 822.19L475.21 822.19ZM486.63 838.72L496.33 821.92L476.93 821.92ZM488.32 840.15L498.02 823.35L478.62 823.35ZM489.98 841.47L499.68 824.67L480.28 824.67ZM491.62 840.37L501.32 823.57L481.92 823.57ZM493.24 841.94L502.94 825.14L483.54 825.14ZM494.83 841.66L504.53 824.86L485.13 824.86ZM496.4 840.94L506.1 824.14L486.7 824.14ZM497.95 841.15L507.65 824.35L488.25 824.35ZM499.47 842.13L509.17 825.33L489.77 825.33ZM500.98 842.07L510.68 825.27L491.28 825.27ZM502.46 842.1L512.16 825.3L492.76 825.3Z" fill="#028C5E" stroke="#028C5E" stroke-width="3.5" stroke-linejoin="round"/>
<path d="M503.93 823.2L513.63 806.4L494.23 806.4Z" fill="#fff" stroke="#028C5E" stroke-width="3.5" stroke-linejoin="round"/>
<path d="M505.38 802.2L515.08 785.4L495.68 785.4Z" fill="#fff" stroke="#028C5E" stroke-width="3.5" stroke-linejoin="round"/>
<path d="M506.8 788.2L516.5 771.4L497.1 771.4Z" fill="#fff" stroke="#028C5E" stroke-width="3.5" stroke-linejoin="round"/>
<path d="M508.21 816.2L517.91 799.4L498.51 799.4Z" fill="#fff" stroke="#028C5E" stroke-width="3.5" stroke-linejoin="round"/>
<path d="M509.6 826.2L519.3 809.4L499.9 809.4Z" fill="#fff" stroke="#028C5E" stroke-width="3.5" stroke-linejoin="round"/>
<path d="M510.98 842.46L520.68 825.66L501.28 825.66ZM512.34 843.27L522.04 826.47L502.64 826.47ZM513.68 841.96L523.38 825.16L503.98 825.16ZM515 842L524.7 825.2L505.3 825.2ZM516.31 842.94L526.01 826.14L506.61 826.14ZM517.61 843.18L527.31 826.38L507.91 826.38ZM518.89 842.38L528.59 825.58L509.19 825.58ZM520.15 843.87L529.85 827.07L510.45 827.07ZM521.4 845.16L531.1 828.36L511.7 828.36ZM522.64 844.1L532.34 827.3L512.94 827.3ZM523.86 844.99L533.56 828.19L514.16 828.19ZM525.07 845.5L534.77 828.7L515.37 828.7ZM526.27 845.68L535.97 828.88L516.57 828.88ZM527.45 846.08L537.15 829.28L517.75 829.28ZM528.62 844.48L538.32 827.68L518.92 827.68ZM529.78 845.46L539.48 828.66L520.08 828.66ZM530.93 843.92L540.63 827.12L521.23 827.12ZM532.06 846.35L541.76 829.55L522.36 829.55ZM533.19 844.88L542.89 828.08L523.49 828.08ZM534.3 845.25L544 828.45L524.6 828.45ZM535.4 846.67L545.1 829.87L525.7 829.87ZM536.49 844.67L546.19 827.87L526.79 827.87Z" fill="#028C5E" stroke="#028C5E" stroke-width="3.5" stroke-linejoin="round"/>
<path d="M537.57 829.2L547.27 812.4L527.87 812.4Z" fill="#fff" stroke="#028C5E" stroke-width="3.5" stroke-linejoin="round"/>
<path d="M538.64 808.2L548.34 791.4L528.94 791.4Z" fill="#fff" stroke="#028C5E" stroke-width="3.5" stroke-linejoin="round"/>
<path d="M539.7 816.2L549.4 799.4L530 799.4Z" fill="#fff" stroke="#028C5E" stroke-width="3.5" stroke-linejoin="round"/>
<path d="M540.75 826.2L550.45 809.4L531.05 809.4Z" fill="#fff" stroke="#028C5E" stroke-width="3.5" stroke-linejoin="round"/>
<path d="M541.78 844.68L551.48 827.88L532.08 827.88ZM542.81 845.94L552.51 829.14L533.11 829.14ZM543.83 844.75L553.53 827.95L534.13 827.95ZM544.84 847.58L554.54 830.78L535.14 830.78ZM545.85 845.55L555.55 828.75L536.15 828.75ZM546.84 845.86L556.54 829.06L537.14 829.06ZM547.82 846.49L557.52 829.69L538.12 829.69ZM548.8 846.94L558.5 830.14L539.1 830.14ZM549.76 846.56L559.46 829.76L540.06 829.76ZM550.72 847.33L560.42 830.53L541.02 830.53ZM551.67 847.64L561.37 830.84L541.97 830.84ZM552.61 846.99L562.31 830.19L542.91 830.19ZM553.55 845.71L563.25 828.91L543.85 828.91ZM554.47 848.97L564.17 832.17L544.77 832.17ZM555.39 847.93L565.09 831.13L545.69 831.13ZM556.3 845.6L566 828.8L546.6 828.8ZM557.21 847.19L566.91 830.39L547.51 830.39ZM558.1 848.33L567.8 831.53L548.4 831.53ZM558.99 849.03L568.69 832.23L549.29 832.23ZM559.87 845.39L569.57 828.59L550.17 828.59ZM560.75 845.14L570.45 828.34L551.05 828.34Z" fill="#028C5E" stroke="#028C5E" stroke-width="3.5" stroke-linejoin="round"/>
<path d="M561.61 823.2L571.31 806.4L551.91 806.4Z" fill="#fff" stroke="#028C5E" stroke-width="3.5" stroke-linejoin="round"/>
<path d="M562.48 817.2L572.18 800.4L552.78 800.4Z" fill="#fff" stroke="#028C5E" stroke-width="3.5" stroke-linejoin="round"/>
<path d="M563.33 806.2L573.03 789.4L553.63 789.4Z" fill="#fff" stroke="#028C5E" stroke-width="3.5" stroke-linejoin="round"/>
<path d="M564.18 811.2L573.88 794.4L554.48 794.4Z" fill="#fff" stroke="#028C5E" stroke-width="3.5" stroke-linejoin="round"/>
<path d="M565.02 823.2L574.72 806.4L555.32 806.4Z" fill="#fff" stroke="#028C5E" stroke-width="3.5" stroke-linejoin="round"/>
<path d="M565.85 847.53L575.55 830.73L556.15 830.73ZM566.68 848.25L576.38 831.45L556.98 831.45ZM567.51 849.78L577.21 832.98L557.81 832.98ZM568.32 847.14L578.02 830.34L558.62 830.34ZM569.13 847.85L578.83 831.05L559.43 831.05ZM569.94 846.58L579.64 829.78L560.24 829.78ZM570.74 848.65L580.44 831.85L561.04 831.85ZM571.53 846.17L581.23 829.37L561.83 829.37ZM572.32 849.64L582.02 832.84L562.62 832.84ZM573.1 848.09L582.8 831.29L563.4 831.29ZM573.88 848.62L583.58 831.82L564.18 831.82ZM574.65 846.31L584.35 829.51L564.95 829.51ZM575.41 847.3L585.11 830.5L565.71 830.5ZM576.17 848.31L585.87 831.51L566.47 831.51ZM576.93 850.22L586.63 833.42L567.23 833.42ZM577.68 849.08L587.38 832.28L567.98 832.28ZM578.43 848.08L588.13 831.28L568.73 831.28ZM579.17 851.19L588.87 834.39L569.47 834.39ZM579.9 849.78L589.6 832.98L570.2 832.98ZM580.63 849.17L590.33 832.37L570.93 832.37ZM581.36 847.8L591.06 831L571.66 831Z" fill="#028C5E" stroke="#028C5E" stroke-width="3.5" stroke-linejoin="round"/>
<path d="M582.08 831.2L591.78 814.4L572.38 814.4Z" fill="#fff" stroke="#028C5E" stroke-width="3.5" stroke-linejoin="round"/>
<path d="M582.79 821.2L592.49 804.4L573.09 804.4Z" fill="#fff" stroke="#028C5E" stroke-width="3.5" stroke-linejoin="round"/>
<path d="M583.51 817.2L593.21 800.4L573.81 800.4Z" fill="#fff" stroke="#028C5E" stroke-width="3.5" stroke-linejoin="round"/>
<path d="M584.21 823.2L593.91 806.4L574.51 806.4Z" fill="#fff" stroke="#028C5E" stroke-width="3.5" stroke-linejoin="round"/>
<path d="M584.92 849.7L594.62 832.9L575.22 832.9ZM585.61 848.71L595.31 831.91L575.91 831.91ZM586.31 850.79L596.01 833.99L576.61 833.99ZM587 851.22L596.7 834.42L577.3 834.42ZM587.68 851.13L597.38 834.33L577.98 834.33ZM588.36 850.98L598.06 834.18L578.66 834.18ZM589.04 848.28L598.74 831.48L579.34 831.48ZM589.71 847.32L599.41 830.52L580.01 830.52ZM590.38 849.16L600.08 832.36L580.68 832.36ZM591.05 848.26L600.75 831.46L581.35 831.46ZM591.71 847.65L601.41 830.85L582.01 830.85ZM592.36 851.19L602.06 834.39L582.66 834.39ZM593.02 848.05L602.72 831.25L583.32 831.25ZM593.66 850.95L603.36 834.15L583.96 834.15ZM594.31 851.54L604.01 834.74L584.61 834.74ZM594.95 847.9L604.65 831.1L585.25 831.1ZM595.59 852.26L605.29 835.46L585.89 835.46ZM596.22 849.8L605.92 833L586.52 833ZM596.85 849.02L606.55 832.22L587.15 832.22ZM597.48 849.21L607.18 832.41L587.78 832.41ZM598.1 848.3L607.8 831.5L588.4 831.5ZM598.72 850.97L608.42 834.17L589.02 834.17Z" fill="#028C5E" stroke="#028C5E" stroke-width="3.5" stroke-linejoin="round"/>
<path d="M599.34 839.2L609.04 822.4L589.64 822.4Z" fill="#fff" stroke="#028C5E" stroke-width="3.5" stroke-linejoin="round"/>
<path d="M599.95 833.2L609.65 816.4L590.25 816.4Z" fill="#fff" stroke="#028C5E" stroke-width="3.5" stroke-linejoin="round"/>
<path d="M600.56 831.2L610.26 814.4L590.86 814.4Z" fill="#fff" stroke="#028C5E" stroke-width="3.5" stroke-linejoin="round"/>
<path d="M601.17 837.2L610.87 820.4L591.47 820.4Z" fill="#fff" stroke="#028C5E" stroke-width="3.5" stroke-linejoin="round"/>
<path d="M601.77 850.13L611.47 833.33L592.07 833.33ZM602.37 850.22L612.07 833.42L592.67 833.42ZM602.97 848.9L612.67 832.1L593.27 832.1ZM603.56 849.35L613.26 832.55L593.86 832.55ZM604.15 849.32L613.85 832.52L594.45 832.52ZM604.74 851.76L614.44 834.96L595.04 834.96ZM605.32 850.32L615.02 833.52L595.62 833.52ZM605.9 849.06L615.6 832.26L596.2 832.26ZM606.48 849.6L616.18 832.8L596.78 832.8ZM607.06 850.92L616.76 834.12L597.36 834.12ZM607.63 851.77L617.33 834.97L597.93 834.97ZM608.2 849.92L617.9 833.12L598.5 833.12ZM608.76 852.68L618.46 835.88L599.06 835.88ZM609.33 850.25L619.03 833.45L599.63 833.45ZM609.89 852.63L619.59 835.83L600.19 835.83ZM610.45 852.03L620.15 835.23L600.75 835.23Z" fill="#028C5E" stroke="#028C5E" stroke-width="3.5" stroke-linejoin="round"/>
<path d="M611 849.64L620.7 832.84L601.3 832.84Z" fill="#fff" stroke="#028C5E" stroke-width="3.5" stroke-linejoin="round"/>
</g>
<g clip-path="url(#cb)">
<path d="M101.4 768.8L146.27 795.4L178.1 818.2L202.8 822.7L222.97 825L240.03 828.8L254.8 831.4L267.84 830.7L279.5 829.9L290.04 832.52L299.67 833.24L308.53 838.03L316.73 843.68L324.37 840.07L331.51 841.69L338.22 842.05L344.54 841.12L350.52 843.72L356.2 841.8L361.6 840.16L366.75 842.26L371.67 850L376.38 811.5L380.89 765.9L385.23 743.8L389.41 747L393.43 761.8L397.32 801.3L401.07 848.9L404.7 848.94L408.21 849.59L411.61 849.17L414.92 852.07L418.13 850.55L421.24 854.79L424.28 851.5L427.23 856.24L430.1 853.79L432.9 853.59L435.63 856.61L438.3 856.36L440.91 857.75L443.45 856.72L445.94 857.55L448.37 855.34L450.75 857.89L453.08 857.5L455.36 859.85L457.6 856.28L459.79 850L461.94 843.5L464.04 850L466.11 858.95L468.14 860.26L470.14 859.96L472.09 859.26L474.02 859.76L475.91 860.69L477.77 858.51L479.6 859.69L481.4 861.85L483.17 859.8L484.91 861.11L486.63 860.31L488.32 860.93L489.98 862.46L491.62 863.26L493.24 864.76L494.83 863.17L496.4 862.18L497.95 862.89L499.47 861.8L500.98 862.75L502.46 864.75L503.93 846L505.38 843.5L506.8 824.5L508.21 810.5L509.6 835L510.98 864.96L512.34 863.97L513.68 866.86L515 865.39L516.31 864.57L517.61 864.69L518.89 863.37L520.15 866.59L521.4 866.99L522.64 865.41L523.86 866.99L525.07 865.22L526.27 865.2L527.45 865.33L528.62 865.4L529.78 867.22L530.93 867.23L532.06 867.69L533.19 864.75L534.3 867.93L535.4 866.57L536.49 866.09L537.57 848L538.64 827.5L539.7 835L540.75 845L541.78 867.9L542.81 868.44L543.83 869.52L544.84 866.24L545.85 869.61L546.84 869.39L547.82 868.79L548.8 869.77L549.76 865.55L550.72 868.72L551.67 869.29L552.61 865.44L553.55 868.03L554.47 870.14L555.39 867.03L556.3 870.22L557.21 870.79L558.1 868.32L558.99 866.81L559.87 867.59L560.75 871.08L561.61 842L562.48 835L563.33 828.4L564.18 834L565.02 845L565.85 866.96L566.68 872.05L567.51 868.38L568.32 868.68L569.13 872.45L569.94 868.48L570.74 866.8L571.53 871.54L572.32 868.05L573.1 867.55L573.88 871.86L574.65 867.27L575.41 871.55L576.17 867.95L576.93 868.03L577.68 868.16L578.43 870.27L579.17 869.99L579.9 869.44L580.63 870.2L581.36 869.05L582.08 850L582.79 843L583.51 839L584.21 846L584.92 866.63L585.61 868.44L586.31 867.69L587 868.04L587.68 873.77L588.36 873.5L589.04 873.86L589.71 871.96L590.38 868.75L591.05 870.91L591.71 867.89L592.36 874.61L593.02 869.68L593.66 869.75L594.31 874.27L594.95 868.57L595.59 873.64L596.22 869.38L596.85 872.34L597.48 868.33L598.1 873.91L598.72 869.88L599.34 858L599.95 853.7L600.56 856L601.17 862L601.77 867.74L602.37 871.51L602.97 867.21L603.56 874.31L604.15 870.83L604.74 869.94L605.32 871.34L605.9 869.75L606.48 870.96L607.06 873.37L607.63 872.04L608.2 871L608.76 870.94L609.33 872.47L609.89 875.07L610.45 872.26L611 874.93" fill="none" stroke="#0010BE" stroke-width="4.6" stroke-linejoin="round" stroke-linecap="round"/>
<path d="M101.4 757.6L111.1 774.4L91.7 774.4Z" fill="#fff" stroke="#0010BE" stroke-width="3.5" stroke-linejoin="round"/>
<path d="M146.27 784.2L155.97 801L136.57 801Z" fill="#fff" stroke="#0010BE" stroke-width="3.5" stroke-linejoin="round"/>
<path d="M178.1 807L187.8 823.8L168.4 823.8Z" fill="#fff" stroke="#0010BE" stroke-width="3.5" stroke-linejoin="round"/>
<path d="M202.8 811.5L212.5 828.3L193.1 828.3Z" fill="#fff" stroke="#0010BE" stroke-width="3.5" stroke-linejoin="round"/>
<path d="M222.97 813.8L232.67 830.6L213.27 830.6Z" fill="#fff" stroke="#0010BE" stroke-width="3.5" stroke-linejoin="round"/>
<path d="M240.03 817.6L249.73 834.4L230.33 834.4Z" fill="#fff" stroke="#0010BE" stroke-width="3.5" stroke-linejoin="round"/>
<path d="M254.8 820.2L264.5 837L245.1 837Z" fill="#fff" stroke="#0010BE" stroke-width="3.5" stroke-linejoin="round"/>
<path d="M267.84 819.5L277.54 836.3L258.14 836.3Z" fill="#fff" stroke="#0010BE" stroke-width="3.5" stroke-linejoin="round"/>
<path d="M279.5 818.7L289.2 835.5L269.8 835.5Z" fill="#fff" stroke="#0010BE" stroke-width="3.5" stroke-linejoin="round"/>
<path d="M290.04 821.32L299.74 838.12L280.34 838.12Z" fill="#fff" stroke="#0010BE" stroke-width="3.5" stroke-linejoin="round"/>
<path d="M299.67 822.04L309.37 838.84L289.97 838.84Z" fill="#fff" stroke="#0010BE" stroke-width="3.5" stroke-linejoin="round"/>
<path d="M308.53 826.83L318.23 843.63L298.83 843.63Z" fill="#fff" stroke="#0010BE" stroke-width="3.5" stroke-linejoin="round"/>
<path d="M316.73 832.48L326.43 849.28L307.03 849.28Z" fill="#fff" stroke="#0010BE" stroke-width="3.5" stroke-linejoin="round"/>
<path d="M324.37 828.87L334.07 845.67L314.67 845.67Z" fill="#fff" stroke="#0010BE" stroke-width="3.5" stroke-linejoin="round"/>
<path d="M331.51 830.49L341.21 847.29L321.81 847.29Z" fill="#fff" stroke="#0010BE" stroke-width="3.5" stroke-linejoin="round"/>
<path d="M338.22 830.85L347.92 847.65L328.52 847.65Z" fill="#fff" stroke="#0010BE" stroke-width="3.5" stroke-linejoin="round"/>
<path d="M344.54 829.92L354.24 846.72L334.84 846.72Z" fill="#fff" stroke="#0010BE" stroke-width="3.5" stroke-linejoin="round"/>
<path d="M350.52 832.52L360.22 849.32L340.82 849.32Z" fill="#fff" stroke="#0010BE" stroke-width="3.5" stroke-linejoin="round"/>
<path d="M356.2 830.6L365.9 847.4L346.5 847.4Z" fill="#fff" stroke="#0010BE" stroke-width="3.5" stroke-linejoin="round"/>
<path d="M361.6 828.96L371.3 845.76L351.9 845.76Z" fill="#fff" stroke="#0010BE" stroke-width="3.5" stroke-linejoin="round"/>
<path d="M366.75 831.06L376.45 847.86L357.05 847.86Z" fill="#fff" stroke="#0010BE" stroke-width="3.5" stroke-linejoin="round"/>
<path d="M371.67 838.8L381.37 855.6L361.97 855.6Z" fill="#fff" stroke="#0010BE" stroke-width="3.5" stroke-linejoin="round"/>
<path d="M376.38 800.3L386.08 817.1L366.68 817.1Z" fill="#fff" stroke="#0010BE" stroke-width="3.5" stroke-linejoin="round"/>
<path d="M380.89 754.7L390.59 771.5L371.19 771.5Z" fill="#fff" stroke="#0010BE" stroke-width="3.5" stroke-linejoin="round"/>
<path d="M385.23 732.6L394.93 749.4L375.53 749.4Z" fill="#fff" stroke="#0010BE" stroke-width="3.5" stroke-linejoin="round"/>
<path d="M389.41 735.8L399.11 752.6L379.71 752.6Z" fill="#fff" stroke="#0010BE" stroke-width="3.5" stroke-linejoin="round"/>
<path d="M393.43 750.6L403.13 767.4L383.73 767.4Z" fill="#fff" stroke="#0010BE" stroke-width="3.5" stroke-linejoin="round"/>
<path d="M397.32 790.1L407.02 806.9L387.62 806.9Z" fill="#fff" stroke="#0010BE" stroke-width="3.5" stroke-linejoin="round"/>
<path d="M401.07 837.7L410.77 854.5L391.37 854.5Z" fill="#fff" stroke="#0010BE" stroke-width="3.5" stroke-linejoin="round"/>
<path d="M404.7 837.74L414.4 854.54L395 854.54ZM408.21 838.39L417.91 855.19L398.51 855.19ZM411.61 837.97L421.31 854.77L401.91 854.77ZM414.92 840.87L424.62 857.67L405.22 857.67ZM418.13 839.35L427.83 856.15L408.43 856.15ZM421.24 843.59L430.94 860.39L411.54 860.39ZM424.28 840.3L433.98 857.1L414.58 857.1ZM427.23 845.04L436.93 861.84L417.53 861.84ZM430.1 842.59L439.8 859.39L420.4 859.39ZM432.9 842.39L442.6 859.19L423.2 859.19ZM435.63 845.41L445.33 862.21L425.93 862.21ZM438.3 845.16L448 861.96L428.6 861.96ZM440.91 846.55L450.61 863.35L431.21 863.35ZM443.45 845.52L453.15 862.32L433.75 862.32ZM445.94 846.35L455.64 863.15L436.24 863.15ZM448.37 844.14L458.07 860.94L438.67 860.94ZM450.75 846.69L460.45 863.49L441.05 863.49ZM453.08 846.3L462.78 863.1L443.38 863.1ZM455.36 848.65L465.06 865.45L445.66 865.45ZM457.6 845.08L467.3 861.88L447.9 861.88Z" fill="#0010BE" stroke="#0010BE" stroke-width="3.5" stroke-linejoin="round"/>
<path d="M459.79 838.8L469.49 855.6L450.09 855.6Z" fill="#fff" stroke="#0010BE" stroke-width="3.5" stroke-linejoin="round"/>
<path d="M461.94 832.3L471.64 849.1L452.24 849.1Z" fill="#fff" stroke="#0010BE" stroke-width="3.5" stroke-linejoin="round"/>
<path d="M464.04 838.8L473.74 855.6L454.34 855.6Z" fill="#fff" stroke="#0010BE" stroke-width="3.5" stroke-linejoin="round"/>
<path d="M466.11 847.75L475.81 864.55L456.41 864.55ZM468.14 849.06L477.84 865.86L458.44 865.86ZM470.14 848.76L479.84 865.56L460.44 865.56ZM472.09 848.06L481.79 864.86L462.39 864.86ZM474.02 848.56L483.72 865.36L464.32 865.36ZM475.91 849.49L485.61 866.29L466.21 866.29ZM477.77 847.31L487.47 864.11L468.07 864.11ZM479.6 848.49L489.3 865.29L469.9 865.29ZM481.4 850.65L491.1 867.45L471.7 867.45ZM483.17 848.6L492.87 865.4L473.47 865.4ZM484.91 849.91L494.61 866.71L475.21 866.71ZM486.63 849.11L496.33 865.91L476.93 865.91ZM488.32 849.73L498.02 866.53L478.62 866.53ZM489.98 851.26L499.68 868.06L480.28 868.06ZM491.62 852.06L501.32 868.86L481.92 868.86ZM493.24 853.56L502.94 870.36L483.54 870.36ZM494.83 851.97L504.53 868.77L485.13 868.77ZM496.4 850.98L506.1 867.78L486.7 867.78ZM497.95 851.69L507.65 868.49L488.25 868.49ZM499.47 850.6L509.17 867.4L489.77 867.4ZM500.98 851.55L510.68 868.35L491.28 868.35ZM502.46 853.55L512.16 870.35L492.76 870.35Z" fill="#0010BE" stroke="#0010BE" stroke-width="3.5" stroke-linejoin="round"/>
<path d="M503.93 834.8L513.63 851.6L494.23 851.6Z" fill="#fff" stroke="#0010BE" stroke-width="3.5" stroke-linejoin="round"/>
<path d="M505.38 832.3L515.08 849.1L495.68 849.1Z" fill="#fff" stroke="#0010BE" stroke-width="3.5" stroke-linejoin="round"/>
<path d="M506.8 813.3L516.5 830.1L497.1 830.1Z" fill="#fff" stroke="#0010BE" stroke-width="3.5" stroke-linejoin="round"/>
<path d="M508.21 799.3L517.91 816.1L498.51 816.1Z" fill="#fff" stroke="#0010BE" stroke-width="3.5" stroke-linejoin="round"/>
<path d="M509.6 823.8L519.3 840.6L499.9 840.6Z" fill="#fff" stroke="#0010BE" stroke-width="3.5" stroke-linejoin="round"/>
<path d="M510.98 853.76L520.68 870.56L501.28 870.56ZM512.34 852.77L522.04 869.57L502.64 869.57ZM513.68 855.66L523.38 872.46L503.98 872.46ZM515 854.19L524.7 870.99L505.3 870.99ZM516.31 853.37L526.01 870.17L506.61 870.17ZM517.61 853.49L527.31 870.29L507.91 870.29ZM518.89 852.17L528.59 868.97L509.19 868.97ZM520.15 855.39L529.85 872.19L510.45 872.19ZM521.4 855.79L531.1 872.59L511.7 872.59ZM522.64 854.21L532.34 871.01L512.94 871.01ZM523.86 855.79L533.56 872.59L514.16 872.59ZM525.07 854.02L534.77 870.82L515.37 870.82ZM526.27 854L535.97 870.8L516.57 870.8ZM527.45 854.13L537.15 870.93L517.75 870.93ZM528.62 854.2L538.32 871L518.92 871ZM529.78 856.02L539.48 872.82L520.08 872.82ZM530.93 856.03L540.63 872.83L521.23 872.83ZM532.06 856.49L541.76 873.29L522.36 873.29ZM533.19 853.55L542.89 870.35L523.49 870.35ZM534.3 856.73L544 873.53L524.6 873.53ZM535.4 855.37L545.1 872.17L525.7 872.17ZM536.49 854.89L546.19 871.69L526.79 871.69Z" fill="#0010BE" stroke="#0010BE" stroke-width="3.5" stroke-linejoin="round"/>
<path d="M537.57 836.8L547.27 853.6L527.87 853.6Z" fill="#fff" stroke="#0010BE" stroke-width="3.5" stroke-linejoin="round"/>
<path d="M538.64 816.3L548.34 833.1L528.94 833.1Z" fill="#fff" stroke="#0010BE" stroke-width="3.5" stroke-linejoin="round"/>
<path d="M539.7 823.8L549.4 840.6L530 840.6Z" fill="#fff" stroke="#0010BE" stroke-width="3.5" stroke-linejoin="round"/>
<path d="M540.75 833.8L550.45 850.6L531.05 850.6Z" fill="#fff" stroke="#0010BE" stroke-width="3.5" stroke-linejoin="round"/>
<path d="M541.78 856.7L551.48 873.5L532.08 873.5ZM542.81 857.24L552.51 874.04L533.11 874.04ZM543.83 858.32L553.53 875.12L534.13 875.12ZM544.84 855.04L554.54 871.84L535.14 871.84ZM545.85 858.41L555.55 875.21L536.15 875.21ZM546.84 858.19L556.54 874.99L537.14 874.99ZM547.82 857.59L557.52 874.39L538.12 874.39ZM548.8 858.57L558.5 875.37L539.1 875.37ZM549.76 854.35L559.46 871.15L540.06 871.15ZM550.72 857.52L560.42 874.32L541.02 874.32ZM551.67 858.09L561.37 874.89L541.97 874.89ZM552.61 854.24L562.31 871.04L542.91 871.04ZM553.55 856.83L563.25 873.63L543.85 873.63ZM554.47 858.94L564.17 875.74L544.77 875.74ZM555.39 855.83L565.09 872.63L545.69 872.63ZM556.3 859.02L566 875.82L546.6 875.82ZM557.21 859.59L566.91 876.39L547.51 876.39ZM558.1 857.12L567.8 873.92L548.4 873.92ZM558.99 855.61L568.69 872.41L549.29 872.41ZM559.87 856.39L569.57 873.19L550.17 873.19ZM560.75 859.88L570.45 876.68L551.05 876.68Z" fill="#0010BE" stroke="#0010BE" stroke-width="3.5" stroke-linejoin="round"/>
<path d="M561.61 830.8L571.31 847.6L551.91 847.6Z" fill="#fff" stroke="#0010BE" stroke-width="3.5" stroke-linejoin="round"/>
<path d="M562.48 823.8L572.18 840.6L552.78 840.6Z" fill="#fff" stroke="#0010BE" stroke-width="3.5" stroke-linejoin="round"/>
<path d="M563.33 817.2L573.03 834L553.63 834Z" fill="#fff" stroke="#0010BE" stroke-width="3.5" stroke-linejoin="round"/>
<path d="M564.18 822.8L573.88 839.6L554.48 839.6Z" fill="#fff" stroke="#0010BE" stroke-width="3.5" stroke-linejoin="round"/>
<path d="M565.02 833.8L574.72 850.6L555.32 850.6Z" fill="#fff" stroke="#0010BE" stroke-width="3.5" stroke-linejoin="round"/>
<path d="M565.85 855.76L575.55 872.56L556.15 872.56ZM566.68 860.85L576.38 877.65L556.98 877.65ZM567.51 857.18L577.21 873.98L557.81 873.98ZM568.32 857.48L578.02 874.28L558.62 874.28ZM569.13 861.25L578.83 878.05L559.43 878.05ZM569.94 857.28L579.64 874.08L560.24 874.08ZM570.74 855.6L580.44 872.4L561.04 872.4ZM571.53 860.34L581.23 877.14L561.83 877.14ZM572.32 856.85L582.02 873.65L562.62 873.65ZM573.1 856.35L582.8 873.15L563.4 873.15ZM573.88 860.66L583.58 877.46L564.18 877.46ZM574.65 856.07L584.35 872.87L564.95 872.87ZM575.41 860.35L585.11 877.15L565.71 877.15ZM576.17 856.75L585.87 873.55L566.47 873.55ZM576.93 856.83L586.63 873.63L567.23 873.63ZM577.68 856.96L587.38 873.76L567.98 873.76ZM578.43 859.07L588.13 875.87L568.73 875.87ZM579.17 858.79L588.87 875.59L569.47 875.59ZM579.9 858.24L589.6 875.04L570.2 875.04ZM580.63 859L590.33 875.8L570.93 875.8ZM581.36 857.85L591.06 874.65L571.66 874.65Z" fill="#0010BE" stroke="#0010BE" stroke-width="3.5" stroke-linejoin="round"/>
<path d="M582.08 838.8L591.78 855.6L572.38 855.6Z" fill="#fff" stroke="#0010BE" stroke-width="3.5" stroke-linejoin="round"/>
<path d="M582.79 831.8L592.49 848.6L573.09 848.6Z" fill="#fff" stroke="#0010BE" stroke-width="3.5" stroke-linejoin="round"/>
<path d="M583.51 827.8L593.21 844.6L573.81 844.6Z" fill="#fff" stroke="#0010BE" stroke-width="3.5" stroke-linejoin="round"/>
<path d="M584.21 834.8L593.91 851.6L574.51 851.6Z" fill="#fff" stroke="#0010BE" stroke-width="3.5" stroke-linejoin="round"/>
<path d="M584.92 855.43L594.62 872.23L575.22 872.23ZM585.61 857.24L595.31 874.04L575.91 874.04ZM586.31 856.49L596.01 873.29L576.61 873.29ZM587 856.84L596.7 873.64L577.3 873.64ZM587.68 862.57L597.38 879.37L577.98 879.37ZM588.36 862.3L598.06 879.1L578.66 879.1ZM589.04 862.66L598.74 879.46L579.34 879.46ZM589.71 860.76L599.41 877.56L580.01 877.56ZM590.38 857.55L600.08 874.35L580.68 874.35ZM591.05 859.71L600.75 876.51L581.35 876.51ZM591.71 856.69L601.41 873.49L582.01 873.49ZM592.36 863.41L602.06 880.21L582.66 880.21ZM593.02 858.48L602.72 875.28L583.32 875.28ZM593.66 858.55L603.36 875.35L583.96 875.35ZM594.31 863.07L604.01 879.87L584.61 879.87ZM594.95 857.37L604.65 874.17L585.25 874.17ZM595.59 862.44L605.29 879.24L585.89 879.24ZM596.22 858.18L605.92 874.98L586.52 874.98ZM596.85 861.14L606.55 877.94L587.15 877.94ZM597.48 857.13L607.18 873.93L587.78 873.93ZM598.1 862.71L607.8 879.51L588.4 879.51ZM598.72 858.68L608.42 875.48L589.02 875.48Z" fill="#0010BE" stroke="#0010BE" stroke-width="3.5" stroke-linejoin="round"/>
<path d="M599.34 846.8L609.04 863.6L589.64 863.6Z" fill="#fff" stroke="#0010BE" stroke-width="3.5" stroke-linejoin="round"/>
<path d="M599.95 842.5L609.65 859.3L590.25 859.3Z" fill="#fff" stroke="#0010BE" stroke-width="3.5" stroke-linejoin="round"/>
<path d="M600.56 844.8L610.26 861.6L590.86 861.6Z" fill="#fff" stroke="#0010BE" stroke-width="3.5" stroke-linejoin="round"/>
<path d="M601.17 850.8L610.87 867.6L591.47 867.6Z" fill="#fff" stroke="#0010BE" stroke-width="3.5" stroke-linejoin="round"/>
<path d="M601.77 856.54L611.47 873.34L592.07 873.34ZM602.37 860.31L612.07 877.11L592.67 877.11ZM602.97 856.01L612.67 872.81L593.27 872.81ZM603.56 863.11L613.26 879.91L593.86 879.91ZM604.15 859.63L613.85 876.43L594.45 876.43ZM604.74 858.74L614.44 875.54L595.04 875.54ZM605.32 860.14L615.02 876.94L595.62 876.94ZM605.9 858.55L615.6 875.35L596.2 875.35ZM606.48 859.76L616.18 876.56L596.78 876.56ZM607.06 862.17L616.76 878.97L597.36 878.97ZM607.63 860.84L617.33 877.64L597.93 877.64ZM608.2 859.8L617.9 876.6L598.5 876.6ZM608.76 859.74L618.46 876.54L599.06 876.54ZM609.33 861.27L619.03 878.07L599.63 878.07ZM609.89 863.87L619.59 880.67L600.19 880.67ZM610.45 861.06L620.15 877.86L600.75 877.86Z" fill="#0010BE" stroke="#0010BE" stroke-width="3.5" stroke-linejoin="round"/>
<path d="M611 863.73L620.7 880.53L601.3 880.53Z" fill="#fff" stroke="#0010BE" stroke-width="3.5" stroke-linejoin="round"/>
</g>
<rect x="101.4" y="550.4" width="509.6" height="382.6" fill="none" stroke="#000" stroke-width="3.0"/>
<line x1="94.2" y1="933" x2="101.4" y2="933" stroke="#000" stroke-width="3.0" stroke-linecap="butt"/>
<line x1="97.7" y1="916.55" x2="101.4" y2="916.55" stroke="#000" stroke-width="2.2" stroke-linecap="butt"/>
<line x1="97.7" y1="906.92" x2="101.4" y2="906.92" stroke="#000" stroke-width="2.2" stroke-linecap="butt"/>
<line x1="97.7" y1="900.09" x2="101.4" y2="900.09" stroke="#000" stroke-width="2.2" stroke-linecap="butt"/>
<line x1="97.7" y1="894.8" x2="101.4" y2="894.8" stroke="#000" stroke-width="2.2" stroke-linecap="butt"/>
<line x1="97.7" y1="890.47" x2="101.4" y2="890.47" stroke="#000" stroke-width="2.2" stroke-linecap="butt"/>
<line x1="97.7" y1="886.81" x2="101.4" y2="886.81" stroke="#000" stroke-width="2.2" stroke-linecap="butt"/>
<line x1="97.7" y1="883.64" x2="101.4" y2="883.64" stroke="#000" stroke-width="2.2" stroke-linecap="butt"/>
<line x1="97.7" y1="880.84" x2="101.4" y2="880.84" stroke="#000" stroke-width="2.2" stroke-linecap="butt"/>
<text x="89.5" y="943.2" font-size="27" text-anchor="end" stroke="#000">10<tspan font-size="19" dy="-12">-15</tspan></text>
<line x1="94.2" y1="878.34" x2="101.4" y2="878.34" stroke="#000" stroke-width="3.0" stroke-linecap="butt"/>
<line x1="97.7" y1="861.89" x2="101.4" y2="861.89" stroke="#000" stroke-width="2.2" stroke-linecap="butt"/>
<line x1="97.7" y1="852.26" x2="101.4" y2="852.26" stroke="#000" stroke-width="2.2" stroke-linecap="butt"/>
<line x1="97.7" y1="845.44" x2="101.4" y2="845.44" stroke="#000" stroke-width="2.2" stroke-linecap="butt"/>
<line x1="97.7" y1="840.14" x2="101.4" y2="840.14" stroke="#000" stroke-width="2.2" stroke-linecap="butt"/>
<line x1="97.7" y1="835.81" x2="101.4" y2="835.81" stroke="#000" stroke-width="2.2" stroke-linecap="butt"/>
<line x1="97.7" y1="832.15" x2="101.4" y2="832.15" stroke="#000" stroke-width="2.2" stroke-linecap="butt"/>
<line x1="97.7" y1="828.98" x2="101.4" y2="828.98" stroke="#000" stroke-width="2.2" stroke-linecap="butt"/>
<line x1="97.7" y1="826.19" x2="101.4" y2="826.19" stroke="#000" stroke-width="2.2" stroke-linecap="butt"/>
<text x="89.5" y="888.54" font-size="27" text-anchor="end" stroke="#000">10<tspan font-size="19" dy="-12">-14</tspan></text>
<line x1="94.2" y1="823.69" x2="101.4" y2="823.69" stroke="#000" stroke-width="3.0" stroke-linecap="butt"/>
<line x1="97.7" y1="807.23" x2="101.4" y2="807.23" stroke="#000" stroke-width="2.2" stroke-linecap="butt"/>
<line x1="97.7" y1="797.61" x2="101.4" y2="797.61" stroke="#000" stroke-width="2.2" stroke-linecap="butt"/>
<line x1="97.7" y1="790.78" x2="101.4" y2="790.78" stroke="#000" stroke-width="2.2" stroke-linecap="butt"/>
<line x1="97.7" y1="785.48" x2="101.4" y2="785.48" stroke="#000" stroke-width="2.2" stroke-linecap="butt"/>
<line x1="97.7" y1="781.15" x2="101.4" y2="781.15" stroke="#000" stroke-width="2.2" stroke-linecap="butt"/>
<line x1="97.7" y1="777.5" x2="101.4" y2="777.5" stroke="#000" stroke-width="2.2" stroke-linecap="butt"/>
<line x1="97.7" y1="774.33" x2="101.4" y2="774.33" stroke="#000" stroke-width="2.2" stroke-linecap="butt"/>
<line x1="97.7" y1="771.53" x2="101.4" y2="771.53" stroke="#000" stroke-width="2.2" stroke-linecap="butt"/>
<text x="89.5" y="833.89" font-size="27" text-anchor="end" stroke="#000">10<tspan font-size="19" dy="-12">-13</tspan></text>
<line x1="94.2" y1="769.03" x2="101.4" y2="769.03" stroke="#000" stroke-width="3.0" stroke-linecap="butt"/>
<line x1="97.7" y1="752.58" x2="101.4" y2="752.58" stroke="#000" stroke-width="2.2" stroke-linecap="butt"/>
<line x1="97.7" y1="742.95" x2="101.4" y2="742.95" stroke="#000" stroke-width="2.2" stroke-linecap="butt"/>
<line x1="97.7" y1="736.12" x2="101.4" y2="736.12" stroke="#000" stroke-width="2.2" stroke-linecap="butt"/>
<line x1="97.7" y1="730.82" x2="101.4" y2="730.82" stroke="#000" stroke-width="2.2" stroke-linecap="butt"/>
<line x1="97.7" y1="726.5" x2="101.4" y2="726.5" stroke="#000" stroke-width="2.2" stroke-linecap="butt"/>
<line x1="97.7" y1="722.84" x2="101.4" y2="722.84" stroke="#000" stroke-width="2.2" stroke-linecap="butt"/>
<line x1="97.7" y1="719.67" x2="101.4" y2="719.67" stroke="#000" stroke-width="2.2" stroke-linecap="butt"/>
<line x1="97.7" y1="716.87" x2="101.4" y2="716.87" stroke="#000" stroke-width="2.2" stroke-linecap="butt"/>
<text x="89.5" y="779.23" font-size="27" text-anchor="end" stroke="#000">10<tspan font-size="19" dy="-12">-12</tspan></text>
<line x1="94.2" y1="714.37" x2="101.4" y2="714.37" stroke="#000" stroke-width="3.0" stroke-linecap="butt"/>
<line x1="97.7" y1="697.92" x2="101.4" y2="697.92" stroke="#000" stroke-width="2.2" stroke-linecap="butt"/>
<line x1="97.7" y1="688.29" x2="101.4" y2="688.29" stroke="#000" stroke-width="2.2" stroke-linecap="butt"/>
<line x1="97.7" y1="681.46" x2="101.4" y2="681.46" stroke="#000" stroke-width="2.2" stroke-linecap="butt"/>
<line x1="97.7" y1="676.17" x2="101.4" y2="676.17" stroke="#000" stroke-width="2.2" stroke-linecap="butt"/>
<line x1="97.7" y1="671.84" x2="101.4" y2="671.84" stroke="#000" stroke-width="2.2" stroke-linecap="butt"/>
<line x1="97.7" y1="668.18" x2="101.4" y2="668.18" stroke="#000" stroke-width="2.2" stroke-linecap="butt"/>
<line x1="97.7" y1="665.01" x2="101.4" y2="665.01" stroke="#000" stroke-width="2.2" stroke-linecap="butt"/>
<line x1="97.7" y1="662.22" x2="101.4" y2="662.22" stroke="#000" stroke-width="2.2" stroke-linecap="butt"/>
<text x="89.5" y="724.57" font-size="27" text-anchor="end" stroke="#000">10<tspan font-size="19" dy="-12">-11</tspan></text>
<line x1="94.2" y1="659.71" x2="101.4" y2="659.71" stroke="#000" stroke-width="3.0" stroke-linecap="butt"/>
<line x1="97.7" y1="643.26" x2="101.4" y2="643.26" stroke="#000" stroke-width="2.2" stroke-linecap="butt"/>
<line x1="97.7" y1="633.64" x2="101.4" y2="633.64" stroke="#000" stroke-width="2.2" stroke-linecap="butt"/>
<line x1="97.7" y1="626.81" x2="101.4" y2="626.81" stroke="#000" stroke-width="2.2" stroke-linecap="butt"/>
<line x1="97.7" y1="621.51" x2="101.4" y2="621.51" stroke="#000" stroke-width="2.2" stroke-linecap="butt"/>
<line x1="97.7" y1="617.18" x2="101.4" y2="617.18" stroke="#000" stroke-width="2.2" stroke-linecap="butt"/>
<line x1="97.7" y1="613.52" x2="101.4" y2="613.52" stroke="#000" stroke-width="2.2" stroke-linecap="butt"/>
<line x1="97.7" y1="610.35" x2="101.4" y2="610.35" stroke="#000" stroke-width="2.2" stroke-linecap="butt"/>
<line x1="97.7" y1="607.56" x2="101.4" y2="607.56" stroke="#000" stroke-width="2.2" stroke-linecap="butt"/>
<text x="89.5" y="669.91" font-size="27" text-anchor="end" stroke="#000">10<tspan font-size="19" dy="-12">-10</tspan></text>
<line x1="94.2" y1="605.06" x2="101.4" y2="605.06" stroke="#000" stroke-width="3.0" stroke-linecap="butt"/>
<line x1="97.7" y1="588.6" x2="101.4" y2="588.6" stroke="#000" stroke-width="2.2" stroke-linecap="butt"/>
<line x1="97.7" y1="578.98" x2="101.4" y2="578.98" stroke="#000" stroke-width="2.2" stroke-linecap="butt"/>
<line x1="97.7" y1="572.15" x2="101.4" y2="572.15" stroke="#000" stroke-width="2.2" stroke-linecap="butt"/>
<line x1="97.7" y1="566.85" x2="101.4" y2="566.85" stroke="#000" stroke-width="2.2" stroke-linecap="butt"/>
<line x1="97.7" y1="562.53" x2="101.4" y2="562.53" stroke="#000" stroke-width="2.2" stroke-linecap="butt"/>
<line x1="97.7" y1="558.87" x2="101.4" y2="558.87" stroke="#000" stroke-width="2.2" stroke-linecap="butt"/>
<line x1="97.7" y1="555.7" x2="101.4" y2="555.7" stroke="#000" stroke-width="2.2" stroke-linecap="butt"/>
<line x1="97.7" y1="552.9" x2="101.4" y2="552.9" stroke="#000" stroke-width="2.2" stroke-linecap="butt"/>
<text x="89.5" y="615.26" font-size="27" text-anchor="end" stroke="#000">10<tspan font-size="19" dy="-12">-9</tspan></text>
<line x1="94.2" y1="550.4" x2="101.4" y2="550.4" stroke="#000" stroke-width="3.0" stroke-linecap="butt"/>
<text x="89.5" y="560.6" font-size="27" text-anchor="end" stroke="#000">10<tspan font-size="19" dy="-12">-8</tspan></text>
<line x1="101.4" y1="933" x2="101.4" y2="936.7" stroke="#000" stroke-width="2.2" stroke-linecap="butt"/>
<line x1="146.27" y1="933" x2="146.27" y2="936.7" stroke="#000" stroke-width="2.2" stroke-linecap="butt"/>
<line x1="178.1" y1="933" x2="178.1" y2="936.7" stroke="#000" stroke-width="2.2" stroke-linecap="butt"/>
<line x1="202.8" y1="933" x2="202.8" y2="936.7" stroke="#000" stroke-width="2.2" stroke-linecap="butt"/>
<line x1="222.97" y1="933" x2="222.97" y2="936.7" stroke="#000" stroke-width="2.2" stroke-linecap="butt"/>
<line x1="240.03" y1="933" x2="240.03" y2="936.7" stroke="#000" stroke-width="2.2" stroke-linecap="butt"/>
<line x1="254.8" y1="933" x2="254.8" y2="936.7" stroke="#000" stroke-width="2.2" stroke-linecap="butt"/>
<line x1="267.84" y1="933" x2="267.84" y2="936.7" stroke="#000" stroke-width="2.2" stroke-linecap="butt"/>
<line x1="279.5" y1="933" x2="279.5" y2="940.2" stroke="#000" stroke-width="3.0" stroke-linecap="butt"/>
<line x1="356.2" y1="933" x2="356.2" y2="936.7" stroke="#000" stroke-width="2.2" stroke-linecap="butt"/>
<line x1="401.07" y1="933" x2="401.07" y2="936.7" stroke="#000" stroke-width="2.2" stroke-linecap="butt"/>
<line x1="432.9" y1="933" x2="432.9" y2="936.7" stroke="#000" stroke-width="2.2" stroke-linecap="butt"/>
<line x1="457.6" y1="933" x2="457.6" y2="936.7" stroke="#000" stroke-width="2.2" stroke-linecap="butt"/>
<line x1="477.77" y1="933" x2="477.77" y2="936.7" stroke="#000" stroke-width="2.2" stroke-linecap="butt"/>
<line x1="494.83" y1="933" x2="494.83" y2="936.7" stroke="#000" stroke-width="2.2" stroke-linecap="butt"/>
<line x1="509.6" y1="933" x2="509.6" y2="936.7" stroke="#000" stroke-width="2.2" stroke-linecap="butt"/>
<line x1="522.64" y1="933" x2="522.64" y2="936.7" stroke="#000" stroke-width="2.2" stroke-linecap="butt"/>
<line x1="534.3" y1="933" x2="534.3" y2="940.2" stroke="#000" stroke-width="3.0" stroke-linecap="butt"/>
<line x1="611" y1="933" x2="611" y2="936.7" stroke="#000" stroke-width="2.2" stroke-linecap="butt"/>
<text transform="translate(279.5,968.5) scale(0.96,1)" font-size="29.5" text-anchor="middle" fill="#000" stroke="#000">10</text>
<text transform="translate(534.3,968.5) scale(0.96,1)" font-size="29.5" text-anchor="middle" fill="#000" stroke="#000">100</text>
<text x="356.8" y="996.6" font-size="32.5" text-anchor="middle" fill="#000" stroke="#000">Frequency (Hz)</text>
<text transform="translate(29.5,741) rotate(-90)" font-size="32.5" text-anchor="middle" stroke="#000">Sn (AHz<tspan font-size="21" dy="-14">-1/2</tspan><tspan dy="14">)</tspan></text>
<line x1="472.2" y1="575.2" x2="526.8" y2="575.2" stroke="#0010BE" stroke-width="4.5" stroke-linecap="round"/>
<path d="M500 564L509.7 580.8L490.3 580.8Z" fill="#fff" stroke="#0010BE" stroke-width="3.5" stroke-linejoin="round"/>
<text x="601.5" y="584.15" font-size="25" text-anchor="end" fill="#000" stroke="#000">1.0 V</text>
<line x1="472.2" y1="605.8" x2="526.8" y2="605.8" stroke="#028C5E" stroke-width="4.5" stroke-linecap="round"/>
<path d="M500 617L509.7 600.2L490.3 600.2Z" fill="#fff" stroke="#028C5E" stroke-width="3.5" stroke-linejoin="round"/>
<text x="601.5" y="614.75" font-size="25" text-anchor="end" fill="#000" stroke="#000">2.0 V</text>
<line x1="472.2" y1="636.4" x2="526.8" y2="636.4" stroke="#A67A14" stroke-width="4.5" stroke-linecap="round"/>
<path d="M500 626.3L510.1 636.4L500 646.5L489.9 636.4Z" fill="#fff" stroke="#A67A14" stroke-width="3.5" stroke-linejoin="round"/>
<text x="601.5" y="645.35" font-size="25" text-anchor="end" fill="#000" stroke="#000">-1.0 V</text>
<line x1="472.2" y1="667" x2="526.8" y2="667" stroke="#CB0505" stroke-width="4.5" stroke-linecap="round"/>
<path d="M493.6 660.6H506.4V673.4H493.6Z" fill="#fff" stroke="#CB0505" stroke-width="3.5" stroke-linejoin="round"/>
<text x="601.5" y="675.95" font-size="25" text-anchor="end" fill="#000" stroke="#000">-2.0 V</text>
<text x="-2" y="528.5" font-size="43.5" text-anchor="start" fill="#000" stroke="#000">(b)</text>
<defs><clipPath id="cc"><rect x="101.2" y="1043.2" width="508.9" height="382.2"/></clipPath></defs>
<g clip-path="url(#cc)">
<path d="M101.2 1420L109.58 1424L117.96 1424L126.35 1424L134.73 1421.5L143.11 1420.5L151.49 1418.2L159.87 1418.2L168.26 1417.5L176.64 1418.2L185.02 1420.5L193.4 1421.5L201.78 1424L210.16 1424L218.55 1424L226.93 1424L235.31 1424L243.69 1424L252.07 1424L260.46 1424L268.84 1424L277.22 1424L285.6 1424L293.98 1424L302.37 1424L310.75 1422L319.13 1424L327.51 1424L335.89 1424L344.27 1424L352.66 1418L361.04 1389L369.42 1260.7L377.8 1066.3L386.18 1101.3L394.57 1269.8L402.95 1366.9L411.33 1400L419.71 1408L428.09 1418L436.48 1424L444.86 1424L453.24 1424L461.62 1424L470 1424L478.38 1424L486.77 1424L495.15 1424L503.53 1424.5L511.91 1423L520.29 1421L528.68 1417L537.06 1414.5L545.44 1413.5L553.82 1412L562.2 1411.5L570.59 1413L578.97 1416L587.35 1419L595.73 1422L604.11 1424.5" fill="none" stroke="#0010BE" stroke-width="4.6" stroke-linejoin="round" stroke-linecap="round"/>
<path d="M101.2 1408.8L110.9 1425.6L91.5 1425.6Z" fill="#fff" stroke="#0010BE" stroke-width="3.5" stroke-linejoin="round"/>
<path d="M109.58 1412.8L119.28 1429.6L99.88 1429.6Z" fill="#fff" stroke="#0010BE" stroke-width="3.5" stroke-linejoin="round"/>
<path d="M117.96 1412.8L127.66 1429.6L108.26 1429.6Z" fill="#fff" stroke="#0010BE" stroke-width="3.5" stroke-linejoin="round"/>
<path d="M126.35 1412.8L136.05 1429.6L116.65 1429.6Z" fill="#fff" stroke="#0010BE" stroke-width="3.5" stroke-linejoin="round"/>
<path d="M134.73 1410.3L144.43 1427.1L125.03 1427.1Z" fill="#fff" stroke="#0010BE" stroke-width="3.5" stroke-linejoin="round"/>
<path d="M143.11 1409.3L152.81 1426.1L133.41 1426.1Z" fill="#fff" stroke="#0010BE" stroke-width="3.5" stroke-linejoin="round"/>
<path d="M151.49 1407L161.19 1423.8L141.79 1423.8Z" fill="#fff" stroke="#0010BE" stroke-width="3.5" stroke-linejoin="round"/>
<path d="M159.87 1407L169.57 1423.8L150.17 1423.8Z" fill="#fff" stroke="#0010BE" stroke-width="3.5" stroke-linejoin="round"/>
<path d="M168.26 1406.3L177.96 1423.1L158.56 1423.1Z" fill="#fff" stroke="#0010BE" stroke-width="3.5" stroke-linejoin="round"/>
<path d="M176.64 1407L186.34 1423.8L166.94 1423.8Z" fill="#fff" stroke="#0010BE" stroke-width="3.5" stroke-linejoin="round"/>
<path d="M185.02 1409.3L194.72 1426.1L175.32 1426.1Z" fill="#fff" stroke="#0010BE" stroke-width="3.5" stroke-linejoin="round"/>
<path d="M193.4 1410.3L203.1 1427.1L183.7 1427.1Z" fill="#fff" stroke="#0010BE" stroke-width="3.5" stroke-linejoin="round"/>
<path d="M201.78 1412.8L211.48 1429.6L192.08 1429.6Z" fill="#fff" stroke="#0010BE" stroke-width="3.5" stroke-linejoin="round"/>
<path d="M210.16 1412.8L219.86 1429.6L200.46 1429.6Z" fill="#fff" stroke="#0010BE" stroke-width="3.5" stroke-linejoin="round"/>
<path d="M218.55 1412.8L228.25 1429.6L208.85 1429.6Z" fill="#fff" stroke="#0010BE" stroke-width="3.5" stroke-linejoin="round"/>
<path d="M226.93 1412.8L236.63 1429.6L217.23 1429.6Z" fill="#fff" stroke="#0010BE" stroke-width="3.5" stroke-linejoin="round"/>
<path d="M235.31 1412.8L245.01 1429.6L225.61 1429.6Z" fill="#fff" stroke="#0010BE" stroke-width="3.5" stroke-linejoin="round"/>
<path d="M243.69 1412.8L253.39 1429.6L233.99 1429.6Z" fill="#fff" stroke="#0010BE" stroke-width="3.5" stroke-linejoin="round"/>
<path d="M252.07 1412.8L261.77 1429.6L242.37 1429.6Z" fill="#fff" stroke="#0010BE" stroke-width="3.5" stroke-linejoin="round"/>
<path d="M260.46 1412.8L270.16 1429.6L250.76 1429.6Z" fill="#fff" stroke="#0010BE" stroke-width="3.5" stroke-linejoin="round"/>
<path d="M268.84 1412.8L278.54 1429.6L259.14 1429.6Z" fill="#fff" stroke="#0010BE" stroke-width="3.5" stroke-linejoin="round"/>
<path d="M277.22 1412.8L286.92 1429.6L267.52 1429.6Z" fill="#fff" stroke="#0010BE" stroke-width="3.5" stroke-linejoin="round"/>
<path d="M285.6 1412.8L295.3 1429.6L275.9 1429.6Z" fill="#fff" stroke="#0010BE" stroke-width="3.5" stroke-linejoin="round"/>
<path d="M293.98 1412.8L303.68 1429.6L284.28 1429.6Z" fill="#fff" stroke="#0010BE" stroke-width="3.5" stroke-linejoin="round"/>
<path d="M302.37 1412.8L312.07 1429.6L292.67 1429.6Z" fill="#fff" stroke="#0010BE" stroke-width="3.5" stroke-linejoin="round"/>
<path d="M310.75 1410.8L320.45 1427.6L301.05 1427.6Z" fill="#fff" stroke="#0010BE" stroke-width="3.5" stroke-linejoin="round"/>
<path d="M319.13 1412.8L328.83 1429.6L309.43 1429.6Z" fill="#fff" stroke="#0010BE" stroke-width="3.5" stroke-linejoin="round"/>
<path d="M327.51 1412.8L337.21 1429.6L317.81 1429.6Z" fill="#fff" stroke="#0010BE" stroke-width="3.5" stroke-linejoin="round"/>
<path d="M335.89 1412.8L345.59 1429.6L326.19 1429.6Z" fill="#fff" stroke="#0010BE" stroke-width="3.5" stroke-linejoin="round"/>
<path d="M344.27 1412.8L353.97 1429.6L334.57 1429.6Z" fill="#fff" stroke="#0010BE" stroke-width="3.5" stroke-linejoin="round"/>
<path d="M352.66 1406.8L362.36 1423.6L342.96 1423.6Z" fill="#fff" stroke="#0010BE" stroke-width="3.5" stroke-linejoin="round"/>
<path d="M361.04 1377.8L370.74 1394.6L351.34 1394.6Z" fill="#fff" stroke="#0010BE" stroke-width="3.5" stroke-linejoin="round"/>
<path d="M369.42 1249.5L379.12 1266.3L359.72 1266.3Z" fill="#fff" stroke="#0010BE" stroke-width="3.5" stroke-linejoin="round"/>
<path d="M377.8 1055.1L387.5 1071.9L368.1 1071.9Z" fill="#fff" stroke="#0010BE" stroke-width="3.5" stroke-linejoin="round"/>
<path d="M386.18 1090.1L395.88 1106.9L376.48 1106.9Z" fill="#fff" stroke="#0010BE" stroke-width="3.5" stroke-linejoin="round"/>
<path d="M394.57 1258.6L404.27 1275.4L384.87 1275.4Z" fill="#fff" stroke="#0010BE" stroke-width="3.5" stroke-linejoin="round"/>
<path d="M402.95 1355.7L412.65 1372.5L393.25 1372.5Z" fill="#fff" stroke="#0010BE" stroke-width="3.5" stroke-linejoin="round"/>
<path d="M411.33 1388.8L421.03 1405.6L401.63 1405.6Z" fill="#fff" stroke="#0010BE" stroke-width="3.5" stroke-linejoin="round"/>
<path d="M419.71 1396.8L429.41 1413.6L410.01 1413.6Z" fill="#fff" stroke="#0010BE" stroke-width="3.5" stroke-linejoin="round"/>
<path d="M428.09 1406.8L437.79 1423.6L418.39 1423.6Z" fill="#fff" stroke="#0010BE" stroke-width="3.5" stroke-linejoin="round"/>
<path d="M436.48 1412.8L446.18 1429.6L426.78 1429.6Z" fill="#fff" stroke="#0010BE" stroke-width="3.5" stroke-linejoin="round"/>
<path d="M444.86 1412.8L454.56 1429.6L435.16 1429.6Z" fill="#fff" stroke="#0010BE" stroke-width="3.5" stroke-linejoin="round"/>
<path d="M453.24 1412.8L462.94 1429.6L443.54 1429.6Z" fill="#fff" stroke="#0010BE" stroke-width="3.5" stroke-linejoin="round"/>
<path d="M461.62 1412.8L471.32 1429.6L451.92 1429.6Z" fill="#fff" stroke="#0010BE" stroke-width="3.5" stroke-linejoin="round"/>
<path d="M470 1412.8L479.7 1429.6L460.3 1429.6Z" fill="#fff" stroke="#0010BE" stroke-width="3.5" stroke-linejoin="round"/>
<path d="M478.38 1412.8L488.08 1429.6L468.68 1429.6Z" fill="#fff" stroke="#0010BE" stroke-width="3.5" stroke-linejoin="round"/>
<path d="M486.77 1412.8L496.47 1429.6L477.07 1429.6Z" fill="#fff" stroke="#0010BE" stroke-width="3.5" stroke-linejoin="round"/>
<path d="M495.15 1412.8L504.85 1429.6L485.45 1429.6Z" fill="#fff" stroke="#0010BE" stroke-width="3.5" stroke-linejoin="round"/>
<path d="M503.53 1413.3L513.23 1430.1L493.83 1430.1Z" fill="#fff" stroke="#0010BE" stroke-width="3.5" stroke-linejoin="round"/>
<path d="M511.91 1411.8L521.61 1428.6L502.21 1428.6Z" fill="#fff" stroke="#0010BE" stroke-width="3.5" stroke-linejoin="round"/>
<path d="M520.29 1409.8L529.99 1426.6L510.59 1426.6Z" fill="#fff" stroke="#0010BE" stroke-width="3.5" stroke-linejoin="round"/>
<path d="M528.68 1405.8L538.38 1422.6L518.98 1422.6Z" fill="#fff" stroke="#0010BE" stroke-width="3.5" stroke-linejoin="round"/>
<path d="M537.06 1403.3L546.76 1420.1L527.36 1420.1Z" fill="#fff" stroke="#0010BE" stroke-width="3.5" stroke-linejoin="round"/>
<path d="M545.44 1402.3L555.14 1419.1L535.74 1419.1Z" fill="#fff" stroke="#0010BE" stroke-width="3.5" stroke-linejoin="round"/>
<path d="M553.82 1400.8L563.52 1417.6L544.12 1417.6Z" fill="#fff" stroke="#0010BE" stroke-width="3.5" stroke-linejoin="round"/>
<path d="M562.2 1400.3L571.9 1417.1L552.5 1417.1Z" fill="#fff" stroke="#0010BE" stroke-width="3.5" stroke-linejoin="round"/>
<path d="M570.59 1401.8L580.29 1418.6L560.89 1418.6Z" fill="#fff" stroke="#0010BE" stroke-width="3.5" stroke-linejoin="round"/>
<path d="M578.97 1404.8L588.67 1421.6L569.27 1421.6Z" fill="#fff" stroke="#0010BE" stroke-width="3.5" stroke-linejoin="round"/>
<path d="M587.35 1407.8L597.05 1424.6L577.65 1424.6Z" fill="#fff" stroke="#0010BE" stroke-width="3.5" stroke-linejoin="round"/>
<path d="M595.73 1410.8L605.43 1427.6L586.03 1427.6Z" fill="#fff" stroke="#0010BE" stroke-width="3.5" stroke-linejoin="round"/>
<path d="M604.11 1413.3L613.81 1430.1L594.41 1430.1Z" fill="#fff" stroke="#0010BE" stroke-width="3.5" stroke-linejoin="round"/>
</g>
<g clip-path="url(#cc)">
<path d="M101.2 1425L109.58 1425L117.96 1425L126.35 1425L134.73 1425L143.11 1425L151.49 1425L159.87 1425L168.26 1425L176.64 1425L185.02 1425L193.4 1425L201.78 1425L210.16 1425L218.55 1425L226.93 1425L235.31 1425L243.69 1425L252.07 1425L260.46 1425L268.84 1425L277.22 1425L285.6 1425L293.98 1425L302.37 1425L310.75 1425L319.13 1425L327.51 1425L335.89 1425L344.27 1425L352.66 1420L361.04 1413L369.42 1372.8L377.8 1321.3L386.18 1323L394.57 1379.7L402.95 1410L411.33 1416L419.71 1420L428.09 1425L436.48 1425L444.86 1425L453.24 1425L461.62 1425L470 1425L478.38 1425L486.77 1425L495.15 1425L503.53 1425L511.91 1424.5L520.29 1424.5L528.68 1425L537.06 1425L545.44 1425L553.82 1425L562.2 1425L570.59 1425L578.97 1425L587.35 1425L595.73 1425L604.11 1425" fill="none" stroke="#028C5E" stroke-width="4.6" stroke-linejoin="round" stroke-linecap="round"/>
<path d="M101.2 1436.2L110.9 1419.4L91.5 1419.4Z" fill="#fff" stroke="#028C5E" stroke-width="3.5" stroke-linejoin="round"/>
<path d="M109.58 1436.2L119.28 1419.4L99.88 1419.4Z" fill="#fff" stroke="#028C5E" stroke-width="3.5" stroke-linejoin="round"/>
<path d="M117.96 1436.2L127.66 1419.4L108.26 1419.4Z" fill="#fff" stroke="#028C5E" stroke-width="3.5" stroke-linejoin="round"/>
<path d="M126.35 1436.2L136.05 1419.4L116.65 1419.4Z" fill="#fff" stroke="#028C5E" stroke-width="3.5" stroke-linejoin="round"/>
<path d="M134.73 1436.2L144.43 1419.4L125.03 1419.4Z" fill="#fff" stroke="#028C5E" stroke-width="3.5" stroke-linejoin="round"/>
<path d="M143.11 1436.2L152.81 1419.4L133.41 1419.4Z" fill="#fff" stroke="#028C5E" stroke-width="3.5" stroke-linejoin="round"/>
<path d="M151.49 1436.2L161.19 1419.4L141.79 1419.4Z" fill="#fff" stroke="#028C5E" stroke-width="3.5" stroke-linejoin="round"/>
<path d="M159.87 1436.2L169.57 1419.4L150.17 1419.4Z" fill="#fff" stroke="#028C5E" stroke-width="3.5" stroke-linejoin="round"/>
<path d="M168.26 1436.2L177.96 1419.4L158.56 1419.4Z" fill="#fff" stroke="#028C5E" stroke-width="3.5" stroke-linejoin="round"/>
<path d="M176.64 1436.2L186.34 1419.4L166.94 1419.4Z" fill="#fff" stroke="#028C5E" stroke-width="3.5" stroke-linejoin="round"/>
<path d="M185.02 1436.2L194.72 1419.4L175.32 1419.4Z" fill="#fff" stroke="#028C5E" stroke-width="3.5" stroke-linejoin="round"/>
<path d="M193.4 1436.2L203.1 1419.4L183.7 1419.4Z" fill="#fff" stroke="#028C5E" stroke-width="3.5" stroke-linejoin="round"/>
<path d="M201.78 1436.2L211.48 1419.4L192.08 1419.4Z" fill="#fff" stroke="#028C5E" stroke-width="3.5" stroke-linejoin="round"/>
<path d="M210.16 1436.2L219.86 1419.4L200.46 1419.4Z" fill="#fff" stroke="#028C5E" stroke-width="3.5" stroke-linejoin="round"/>
<path d="M218.55 1436.2L228.25 1419.4L208.85 1419.4Z" fill="#fff" stroke="#028C5E" stroke-width="3.5" stroke-linejoin="round"/>
<path d="M226.93 1436.2L236.63 1419.4L217.23 1419.4Z" fill="#fff" stroke="#028C5E" stroke-width="3.5" stroke-linejoin="round"/>
<path d="M235.31 1436.2L245.01 1419.4L225.61 1419.4Z" fill="#fff" stroke="#028C5E" stroke-width="3.5" stroke-linejoin="round"/>
<path d="M243.69 1436.2L253.39 1419.4L233.99 1419.4Z" fill="#fff" stroke="#028C5E" stroke-width="3.5" stroke-linejoin="round"/>
<path d="M252.07 1436.2L261.77 1419.4L242.37 1419.4Z" fill="#fff" stroke="#028C5E" stroke-width="3.5" stroke-linejoin="round"/>
<path d="M260.46 1436.2L270.16 1419.4L250.76 1419.4Z" fill="#fff" stroke="#028C5E" stroke-width="3.5" stroke-linejoin="round"/>
<path d="M268.84 1436.2L278.54 1419.4L259.14 1419.4Z" fill="#fff" stroke="#028C5E" stroke-width="3.5" stroke-linejoin="round"/>
<path d="M277.22 1436.2L286.92 1419.4L267.52 1419.4Z" fill="#fff" stroke="#028C5E" stroke-width="3.5" stroke-linejoin="round"/>
<path d="M285.6 1436.2L295.3 1419.4L275.9 1419.4Z" fill="#fff" stroke="#028C5E" stroke-width="3.5" stroke-linejoin="round"/>
<path d="M293.98 1436.2L303.68 1419.4L284.28 1419.4Z" fill="#fff" stroke="#028C5E" stroke-width="3.5" stroke-linejoin="round"/>
<path d="M302.37 1436.2L312.07 1419.4L292.67 1419.4Z" fill="#fff" stroke="#028C5E" stroke-width="3.5" stroke-linejoin="round"/>
<path d="M310.75 1436.2L320.45 1419.4L301.05 1419.4Z" fill="#fff" stroke="#028C5E" stroke-width="3.5" stroke-linejoin="round"/>
<path d="M319.13 1436.2L328.83 1419.4L309.43 1419.4Z" fill="#fff" stroke="#028C5E" stroke-width="3.5" stroke-linejoin="round"/>
<path d="M327.51 1436.2L337.21 1419.4L317.81 1419.4Z" fill="#fff" stroke="#028C5E" stroke-width="3.5" stroke-linejoin="round"/>
<path d="M335.89 1436.2L345.59 1419.4L326.19 1419.4Z" fill="#fff" stroke="#028C5E" stroke-width="3.5" stroke-linejoin="round"/>
<path d="M344.27 1436.2L353.97 1419.4L334.57 1419.4Z" fill="#fff" stroke="#028C5E" stroke-width="3.5" stroke-linejoin="round"/>
<path d="M352.66 1431.2L362.36 1414.4L342.96 1414.4Z" fill="#fff" stroke="#028C5E" stroke-width="3.5" stroke-linejoin="round"/>
<path d="M361.04 1424.2L370.74 1407.4L351.34 1407.4Z" fill="#fff" stroke="#028C5E" stroke-width="3.5" stroke-linejoin="round"/>
<path d="M369.42 1384L379.12 1367.2L359.72 1367.2Z" fill="#fff" stroke="#028C5E" stroke-width="3.5" stroke-linejoin="round"/>
<path d="M377.8 1332.5L387.5 1315.7L368.1 1315.7Z" fill="#fff" stroke="#028C5E" stroke-width="3.5" stroke-linejoin="round"/>
<path d="M386.18 1334.2L395.88 1317.4L376.48 1317.4Z" fill="#fff" stroke="#028C5E" stroke-width="3.5" stroke-linejoin="round"/>
<path d="M394.57 1390.9L404.27 1374.1L384.87 1374.1Z" fill="#fff" stroke="#028C5E" stroke-width="3.5" stroke-linejoin="round"/>
<path d="M402.95 1421.2L412.65 1404.4L393.25 1404.4Z" fill="#fff" stroke="#028C5E" stroke-width="3.5" stroke-linejoin="round"/>
<path d="M411.33 1427.2L421.03 1410.4L401.63 1410.4Z" fill="#fff" stroke="#028C5E" stroke-width="3.5" stroke-linejoin="round"/>
<path d="M419.71 1431.2L429.41 1414.4L410.01 1414.4Z" fill="#fff" stroke="#028C5E" stroke-width="3.5" stroke-linejoin="round"/>
<path d="M428.09 1436.2L437.79 1419.4L418.39 1419.4Z" fill="#fff" stroke="#028C5E" stroke-width="3.5" stroke-linejoin="round"/>
<path d="M436.48 1436.2L446.18 1419.4L426.78 1419.4Z" fill="#fff" stroke="#028C5E" stroke-width="3.5" stroke-linejoin="round"/>
<path d="M444.86 1436.2L454.56 1419.4L435.16 1419.4Z" fill="#fff" stroke="#028C5E" stroke-width="3.5" stroke-linejoin="round"/>
<path d="M453.24 1436.2L462.94 1419.4L443.54 1419.4Z" fill="#fff" stroke="#028C5E" stroke-width="3.5" stroke-linejoin="round"/>
<path d="M461.62 1436.2L471.32 1419.4L451.92 1419.4Z" fill="#fff" stroke="#028C5E" stroke-width="3.5" stroke-linejoin="round"/>
<path d="M470 1436.2L479.7 1419.4L460.3 1419.4Z" fill="#fff" stroke="#028C5E" stroke-width="3.5" stroke-linejoin="round"/>
<path d="M478.38 1436.2L488.08 1419.4L468.68 1419.4Z" fill="#fff" stroke="#028C5E" stroke-width="3.5" stroke-linejoin="round"/>
<path d="M486.77 1436.2L496.47 1419.4L477.07 1419.4Z" fill="#fff" stroke="#028C5E" stroke-width="3.5" stroke-linejoin="round"/>
<path d="M495.15 1436.2L504.85 1419.4L485.45 1419.4Z" fill="#fff" stroke="#028C5E" stroke-width="3.5" stroke-linejoin="round"/>
<path d="M503.53 1436.2L513.23 1419.4L493.83 1419.4Z" fill="#fff" stroke="#028C5E" stroke-width="3.5" stroke-linejoin="round"/>
<path d="M511.91 1435.7L521.61 1418.9L502.21 1418.9Z" fill="#fff" stroke="#028C5E" stroke-width="3.5" stroke-linejoin="round"/>
<path d="M520.29 1435.7L529.99 1418.9L510.59 1418.9Z" fill="#fff" stroke="#028C5E" stroke-width="3.5" stroke-linejoin="round"/>
<path d="M528.68 1436.2L538.38 1419.4L518.98 1419.4Z" fill="#fff" stroke="#028C5E" stroke-width="3.5" stroke-linejoin="round"/>
<path d="M537.06 1436.2L546.76 1419.4L527.36 1419.4Z" fill="#fff" stroke="#028C5E" stroke-width="3.5" stroke-linejoin="round"/>
<path d="M545.44 1436.2L555.14 1419.4L535.74 1419.4Z" fill="#fff" stroke="#028C5E" stroke-width="3.5" stroke-linejoin="round"/>
<path d="M553.82 1436.2L563.52 1419.4L544.12 1419.4Z" fill="#fff" stroke="#028C5E" stroke-width="3.5" stroke-linejoin="round"/>
<path d="M562.2 1436.2L571.9 1419.4L552.5 1419.4Z" fill="#fff" stroke="#028C5E" stroke-width="3.5" stroke-linejoin="round"/>
<path d="M570.59 1436.2L580.29 1419.4L560.89 1419.4Z" fill="#fff" stroke="#028C5E" stroke-width="3.5" stroke-linejoin="round"/>
<path d="M578.97 1436.2L588.67 1419.4L569.27 1419.4Z" fill="#fff" stroke="#028C5E" stroke-width="3.5" stroke-linejoin="round"/>
<path d="M587.35 1436.2L597.05 1419.4L577.65 1419.4Z" fill="#fff" stroke="#028C5E" stroke-width="3.5" stroke-linejoin="round"/>
<path d="M595.73 1436.2L605.43 1419.4L586.03 1419.4Z" fill="#fff" stroke="#028C5E" stroke-width="3.5" stroke-linejoin="round"/>
<path d="M604.11 1436.2L613.81 1419.4L594.41 1419.4Z" fill="#fff" stroke="#028C5E" stroke-width="3.5" stroke-linejoin="round"/>
</g>
<g clip-path="url(#cc)">
<path d="M101.2 1424.5L109.58 1424.5L117.96 1424.5L126.35 1424.5L134.73 1424.5L143.11 1424.5L151.49 1424.5L159.87 1424.5L168.26 1424.5L176.64 1424.5L185.02 1424.5L193.4 1424.5L201.78 1424.5L210.16 1424.5L218.55 1424.5L226.93 1424.5L235.31 1424.5L243.69 1424.5L252.07 1424.5L260.46 1424.5L268.84 1424.5L277.22 1424.5L285.6 1424.5L293.98 1424.5L302.37 1424.5L310.75 1424.5L319.13 1424.5L327.51 1424.5L335.89 1424.5L344.27 1424.5L352.66 1424.5L361.04 1424.5L369.42 1424.5L377.8 1416L386.18 1424.5L394.57 1424.5L402.95 1424.5L411.33 1424.5L419.71 1424.5L428.09 1424.5L436.48 1424.5L444.86 1424.5L453.24 1424.5L461.62 1424.5L470 1424.5L478.38 1424.5L486.77 1424.5L495.15 1421L503.53 1418L511.91 1412L520.29 1407.3L528.68 1393.3L537.06 1368.1L545.44 1341.1L553.82 1317.8L562.2 1327.1L570.59 1356.9L578.97 1383L587.35 1403.5L595.73 1410L604.11 1414" fill="none" stroke="#CB0505" stroke-width="4.6" stroke-linejoin="round" stroke-linecap="round"/>
<path d="M94.8 1418.1H107.6V1430.9H94.8Z" fill="#fff" stroke="#CB0505" stroke-width="3.5" stroke-linejoin="round"/>
<path d="M103.18 1418.1H115.98V1430.9H103.18Z" fill="#fff" stroke="#CB0505" stroke-width="3.5" stroke-linejoin="round"/>
<path d="M111.56 1418.1H124.36V1430.9H111.56Z" fill="#fff" stroke="#CB0505" stroke-width="3.5" stroke-linejoin="round"/>
<path d="M119.95 1418.1H132.75V1430.9H119.95Z" fill="#fff" stroke="#CB0505" stroke-width="3.5" stroke-linejoin="round"/>
<path d="M128.33 1418.1H141.13V1430.9H128.33Z" fill="#fff" stroke="#CB0505" stroke-width="3.5" stroke-linejoin="round"/>
<path d="M136.71 1418.1H149.51V1430.9H136.71Z" fill="#fff" stroke="#CB0505" stroke-width="3.5" stroke-linejoin="round"/>
<path d="M145.09 1418.1H157.89V1430.9H145.09Z" fill="#fff" stroke="#CB0505" stroke-width="3.5" stroke-linejoin="round"/>
<path d="M153.47 1418.1H166.27V1430.9H153.47Z" fill="#fff" stroke="#CB0505" stroke-width="3.5" stroke-linejoin="round"/>
<path d="M161.86 1418.1H174.66V1430.9H161.86Z" fill="#fff" stroke="#CB0505" stroke-width="3.5" stroke-linejoin="round"/>
<path d="M170.24 1418.1H183.04V1430.9H170.24Z" fill="#fff" stroke="#CB0505" stroke-width="3.5" stroke-linejoin="round"/>
<path d="M178.62 1418.1H191.42V1430.9H178.62Z" fill="#fff" stroke="#CB0505" stroke-width="3.5" stroke-linejoin="round"/>
<path d="M187 1418.1H199.8V1430.9H187Z" fill="#fff" stroke="#CB0505" stroke-width="3.5" stroke-linejoin="round"/>
<path d="M195.38 1418.1H208.18V1430.9H195.38Z" fill="#fff" stroke="#CB0505" stroke-width="3.5" stroke-linejoin="round"/>
<path d="M203.76 1418.1H216.56V1430.9H203.76Z" fill="#fff" stroke="#CB0505" stroke-width="3.5" stroke-linejoin="round"/>
<path d="M212.15 1418.1H224.95V1430.9H212.15Z" fill="#fff" stroke="#CB0505" stroke-width="3.5" stroke-linejoin="round"/>
<path d="M220.53 1418.1H233.33V1430.9H220.53Z" fill="#fff" stroke="#CB0505" stroke-width="3.5" stroke-linejoin="round"/>
<path d="M228.91 1418.1H241.71V1430.9H228.91Z" fill="#fff" stroke="#CB0505" stroke-width="3.5" stroke-linejoin="round"/>
<path d="M237.29 1418.1H250.09V1430.9H237.29Z" fill="#fff" stroke="#CB0505" stroke-width="3.5" stroke-linejoin="round"/>
<path d="M245.67 1418.1H258.47V1430.9H245.67Z" fill="#fff" stroke="#CB0505" stroke-width="3.5" stroke-linejoin="round"/>
<path d="M254.06 1418.1H266.86V1430.9H254.06Z" fill="#fff" stroke="#CB0505" stroke-width="3.5" stroke-linejoin="round"/>
<path d="M262.44 1418.1H275.24V1430.9H262.44Z" fill="#fff" stroke="#CB0505" stroke-width="3.5" stroke-linejoin="round"/>
<path d="M270.82 1418.1H283.62V1430.9H270.82Z" fill="#fff" stroke="#CB0505" stroke-width="3.5" stroke-linejoin="round"/>
<path d="M279.2 1418.1H292V1430.9H279.2Z" fill="#fff" stroke="#CB0505" stroke-width="3.5" stroke-linejoin="round"/>
<path d="M287.58 1418.1H300.38V1430.9H287.58Z" fill="#fff" stroke="#CB0505" stroke-width="3.5" stroke-linejoin="round"/>
<path d="M295.97 1418.1H308.77V1430.9H295.97Z" fill="#fff" stroke="#CB0505" stroke-width="3.5" stroke-linejoin="round"/>
<path d="M304.35 1418.1H317.15V1430.9H304.35Z" fill="#fff" stroke="#CB0505" stroke-width="3.5" stroke-linejoin="round"/>
<path d="M312.73 1418.1H325.53V1430.9H312.73Z" fill="#fff" stroke="#CB0505" stroke-width="3.5" stroke-linejoin="round"/>
<path d="M321.11 1418.1H333.91V1430.9H321.11Z" fill="#fff" stroke="#CB0505" stroke-width="3.5" stroke-linejoin="round"/>
<path d="M329.49 1418.1H342.29V1430.9H329.49Z" fill="#fff" stroke="#CB0505" stroke-width="3.5" stroke-linejoin="round"/>
<path d="M337.87 1418.1H350.67V1430.9H337.87Z" fill="#fff" stroke="#CB0505" stroke-width="3.5" stroke-linejoin="round"/>
<path d="M346.26 1418.1H359.06V1430.9H346.26Z" fill="#fff" stroke="#CB0505" stroke-width="3.5" stroke-linejoin="round"/>
<path d="M354.64 1418.1H367.44V1430.9H354.64Z" fill="#fff" stroke="#CB0505" stroke-width="3.5" stroke-linejoin="round"/>
<path d="M363.02 1418.1H375.82V1430.9H363.02Z" fill="#fff" stroke="#CB0505" stroke-width="3.5" stroke-linejoin="round"/>
<path d="M371.4 1409.6H384.2V1422.4H371.4Z" fill="#fff" stroke="#CB0505" stroke-width="3.5" stroke-linejoin="round"/>
<path d="M379.78 1418.1H392.58V1430.9H379.78Z" fill="#fff" stroke="#CB0505" stroke-width="3.5" stroke-linejoin="round"/>
<path d="M388.17 1418.1H400.97V1430.9H388.17Z" fill="#fff" stroke="#CB0505" stroke-width="3.5" stroke-linejoin="round"/>
<path d="M396.55 1418.1H409.35V1430.9H396.55Z" fill="#fff" stroke="#CB0505" stroke-width="3.5" stroke-linejoin="round"/>
<path d="M404.93 1418.1H417.73V1430.9H404.93Z" fill="#fff" stroke="#CB0505" stroke-width="3.5" stroke-linejoin="round"/>
<path d="M413.31 1418.1H426.11V1430.9H413.31Z" fill="#fff" stroke="#CB0505" stroke-width="3.5" stroke-linejoin="round"/>
<path d="M421.69 1418.1H434.49V1430.9H421.69Z" fill="#fff" stroke="#CB0505" stroke-width="3.5" stroke-linejoin="round"/>
<path d="M430.08 1418.1H442.88V1430.9H430.08Z" fill="#fff" stroke="#CB0505" stroke-width="3.5" stroke-linejoin="round"/>
<path d="M438.46 1418.1H451.26V1430.9H438.46Z" fill="#fff" stroke="#CB0505" stroke-width="3.5" stroke-linejoin="round"/>
<path d="M446.84 1418.1H459.64V1430.9H446.84Z" fill="#fff" stroke="#CB0505" stroke-width="3.5" stroke-linejoin="round"/>
<path d="M455.22 1418.1H468.02V1430.9H455.22Z" fill="#fff" stroke="#CB0505" stroke-width="3.5" stroke-linejoin="round"/>
<path d="M463.6 1418.1H476.4V1430.9H463.6Z" fill="#fff" stroke="#CB0505" stroke-width="3.5" stroke-linejoin="round"/>
<path d="M471.98 1418.1H484.78V1430.9H471.98Z" fill="#fff" stroke="#CB0505" stroke-width="3.5" stroke-linejoin="round"/>
<path d="M480.37 1418.1H493.17V1430.9H480.37Z" fill="#fff" stroke="#CB0505" stroke-width="3.5" stroke-linejoin="round"/>
<path d="M488.75 1414.6H501.55V1427.4H488.75Z" fill="#fff" stroke="#CB0505" stroke-width="3.5" stroke-linejoin="round"/>
<path d="M497.13 1411.6H509.93V1424.4H497.13Z" fill="#fff" stroke="#CB0505" stroke-width="3.5" stroke-linejoin="round"/>
<path d="M505.51 1405.6H518.31V1418.4H505.51Z" fill="#fff" stroke="#CB0505" stroke-width="3.5" stroke-linejoin="round"/>
<path d="M513.89 1400.9H526.69V1413.7H513.89Z" fill="#fff" stroke="#CB0505" stroke-width="3.5" stroke-linejoin="round"/>
<path d="M522.28 1386.9H535.08V1399.7H522.28Z" fill="#fff" stroke="#CB0505" stroke-width="3.5" stroke-linejoin="round"/>
<path d="M530.66 1361.7H543.46V1374.5H530.66Z" fill="#fff" stroke="#CB0505" stroke-width="3.5" stroke-linejoin="round"/>
<path d="M539.04 1334.7H551.84V1347.5H539.04Z" fill="#fff" stroke="#CB0505" stroke-width="3.5" stroke-linejoin="round"/>
<path d="M547.42 1311.4H560.22V1324.2H547.42Z" fill="#fff" stroke="#CB0505" stroke-width="3.5" stroke-linejoin="round"/>
<path d="M555.8 1320.7H568.6V1333.5H555.8Z" fill="#fff" stroke="#CB0505" stroke-width="3.5" stroke-linejoin="round"/>
<path d="M564.19 1350.5H576.99V1363.3H564.19Z" fill="#fff" stroke="#CB0505" stroke-width="3.5" stroke-linejoin="round"/>
<path d="M572.57 1376.6H585.37V1389.4H572.57Z" fill="#fff" stroke="#CB0505" stroke-width="3.5" stroke-linejoin="round"/>
<path d="M580.95 1397.1H593.75V1409.9H580.95Z" fill="#fff" stroke="#CB0505" stroke-width="3.5" stroke-linejoin="round"/>
<path d="M589.33 1403.6H602.13V1416.4H589.33Z" fill="#fff" stroke="#CB0505" stroke-width="3.5" stroke-linejoin="round"/>
<path d="M597.71 1407.6H610.51V1420.4H597.71Z" fill="#fff" stroke="#CB0505" stroke-width="3.5" stroke-linejoin="round"/>
</g>
<g clip-path="url(#cc)">
<path d="M101.2 1407L109.58 1424.3L117.96 1424.3L126.35 1424.3L134.73 1424.3L143.11 1424.3L151.49 1424.3L159.87 1424.3L168.26 1424.3L176.64 1424.3L185.02 1424.3L193.4 1424.3L201.78 1424.3L210.16 1424.3L218.55 1424.3L226.93 1424.3L235.31 1424.3L243.69 1424.3L252.07 1424.3L260.46 1424.3L268.84 1424.3L277.22 1424.3L285.6 1424.3L293.98 1424.3L302.37 1424.3L310.75 1424.3L319.13 1424.3L327.51 1424.3L335.89 1424.3L344.27 1424.3L352.66 1422L361.04 1418L369.42 1413L377.8 1404.8L386.18 1412L394.57 1418L402.95 1421L411.33 1421L419.71 1420.5L428.09 1420.5L436.48 1420L444.86 1420L453.24 1420L461.62 1420L470 1420L478.38 1420L486.77 1420L495.15 1418L503.53 1414L511.91 1411L520.29 1391.4L528.68 1356L537.06 1298.2L545.44 1225.5L553.82 1163L562.2 1178L570.59 1251.6L578.97 1319.7L587.35 1367.2L595.73 1388.6L604.11 1404.5" fill="none" stroke="#A67A14" stroke-width="4.6" stroke-linejoin="round" stroke-linecap="round"/>
<path d="M101.2 1396.9L111.3 1407L101.2 1417.1L91.1 1407Z" fill="#fff" stroke="#A67A14" stroke-width="3.5" stroke-linejoin="round"/>
<path d="M109.58 1414.2L119.68 1424.3L109.58 1434.4L99.48 1424.3Z" fill="#fff" stroke="#A67A14" stroke-width="3.5" stroke-linejoin="round"/>
<path d="M117.96 1414.2L128.06 1424.3L117.96 1434.4L107.86 1424.3Z" fill="#fff" stroke="#A67A14" stroke-width="3.5" stroke-linejoin="round"/>
<path d="M126.35 1414.2L136.45 1424.3L126.35 1434.4L116.25 1424.3Z" fill="#fff" stroke="#A67A14" stroke-width="3.5" stroke-linejoin="round"/>
<path d="M134.73 1414.2L144.83 1424.3L134.73 1434.4L124.63 1424.3Z" fill="#fff" stroke="#A67A14" stroke-width="3.5" stroke-linejoin="round"/>
<path d="M143.11 1414.2L153.21 1424.3L143.11 1434.4L133.01 1424.3Z" fill="#fff" stroke="#A67A14" stroke-width="3.5" stroke-linejoin="round"/>
<path d="M151.49 1414.2L161.59 1424.3L151.49 1434.4L141.39 1424.3Z" fill="#fff" stroke="#A67A14" stroke-width="3.5" stroke-linejoin="round"/>
<path d="M159.87 1414.2L169.97 1424.3L159.87 1434.4L149.77 1424.3Z" fill="#fff" stroke="#A67A14" stroke-width="3.5" stroke-linejoin="round"/>
<path d="M168.26 1414.2L178.36 1424.3L168.26 1434.4L158.16 1424.3Z" fill="#fff" stroke="#A67A14" stroke-width="3.5" stroke-linejoin="round"/>
<path d="M176.64 1414.2L186.74 1424.3L176.64 1434.4L166.54 1424.3Z" fill="#fff" stroke="#A67A14" stroke-width="3.5" stroke-linejoin="round"/>
<path d="M185.02 1414.2L195.12 1424.3L185.02 1434.4L174.92 1424.3Z" fill="#fff" stroke="#A67A14" stroke-width="3.5" stroke-linejoin="round"/>
<path d="M193.4 1414.2L203.5 1424.3L193.4 1434.4L183.3 1424.3Z" fill="#fff" stroke="#A67A14" stroke-width="3.5" stroke-linejoin="round"/>
<path d="M201.78 1414.2L211.88 1424.3L201.78 1434.4L191.68 1424.3Z" fill="#fff" stroke="#A67A14" stroke-width="3.5" stroke-linejoin="round"/>
<path d="M210.16 1414.2L220.26 1424.3L210.16 1434.4L200.06 1424.3Z" fill="#fff" stroke="#A67A14" stroke-width="3.5" stroke-linejoin="round"/>
<path d="M218.55 1414.2L228.65 1424.3L218.55 1434.4L208.45 1424.3Z" fill="#fff" stroke="#A67A14" stroke-width="3.5" stroke-linejoin="round"/>
<path d="M226.93 1414.2L237.03 1424.3L226.93 1434.4L216.83 1424.3Z" fill="#fff" stroke="#A67A14" stroke-width="3.5" stroke-linejoin="round"/>
<path d="M235.31 1414.2L245.41 1424.3L235.31 1434.4L225.21 1424.3Z" fill="#fff" stroke="#A67A14" stroke-width="3.5" stroke-linejoin="round"/>
<path d="M243.69 1414.2L253.79 1424.3L243.69 1434.4L233.59 1424.3Z" fill="#fff" stroke="#A67A14" stroke-width="3.5" stroke-linejoin="round"/>
<path d="M252.07 1414.2L262.17 1424.3L252.07 1434.4L241.97 1424.3Z" fill="#fff" stroke="#A67A14" stroke-width="3.5" stroke-linejoin="round"/>
<path d="M260.46 1414.2L270.56 1424.3L260.46 1434.4L250.36 1424.3Z" fill="#fff" stroke="#A67A14" stroke-width="3.5" stroke-linejoin="round"/>
<path d="M268.84 1414.2L278.94 1424.3L268.84 1434.4L258.74 1424.3Z" fill="#fff" stroke="#A67A14" stroke-width="3.5" stroke-linejoin="round"/>
<path d="M277.22 1414.2L287.32 1424.3L277.22 1434.4L267.12 1424.3Z" fill="#fff" stroke="#A67A14" stroke-width="3.5" stroke-linejoin="round"/>
<path d="M285.6 1414.2L295.7 1424.3L285.6 1434.4L275.5 1424.3Z" fill="#fff" stroke="#A67A14" stroke-width="3.5" stroke-linejoin="round"/>
<path d="M293.98 1414.2L304.08 1424.3L293.98 1434.4L283.88 1424.3Z" fill="#fff" stroke="#A67A14" stroke-width="3.5" stroke-linejoin="round"/>
<path d="M302.37 1414.2L312.47 1424.3L302.37 1434.4L292.27 1424.3Z" fill="#fff" stroke="#A67A14" stroke-width="3.5" stroke-linejoin="round"/>
<path d="M310.75 1414.2L320.85 1424.3L310.75 1434.4L300.65 1424.3Z" fill="#fff" stroke="#A67A14" stroke-width="3.5" stroke-linejoin="round"/>
<path d="M319.13 1414.2L329.23 1424.3L319.13 1434.4L309.03 1424.3Z" fill="#fff" stroke="#A67A14" stroke-width="3.5" stroke-linejoin="round"/>
<path d="M327.51 1414.2L337.61 1424.3L327.51 1434.4L317.41 1424.3Z" fill="#fff" stroke="#A67A14" stroke-width="3.5" stroke-linejoin="round"/>
<path d="M335.89 1414.2L345.99 1424.3L335.89 1434.4L325.79 1424.3Z" fill="#fff" stroke="#A67A14" stroke-width="3.5" stroke-linejoin="round"/>
<path d="M344.27 1414.2L354.37 1424.3L344.27 1434.4L334.17 1424.3Z" fill="#fff" stroke="#A67A14" stroke-width="3.5" stroke-linejoin="round"/>
<path d="M352.66 1411.9L362.76 1422L352.66 1432.1L342.56 1422Z" fill="#fff" stroke="#A67A14" stroke-width="3.5" stroke-linejoin="round"/>
<path d="M361.04 1407.9L371.14 1418L361.04 1428.1L350.94 1418Z" fill="#fff" stroke="#A67A14" stroke-width="3.5" stroke-linejoin="round"/>
<path d="M369.42 1402.9L379.52 1413L369.42 1423.1L359.32 1413Z" fill="#fff" stroke="#A67A14" stroke-width="3.5" stroke-linejoin="round"/>
<path d="M377.8 1394.7L387.9 1404.8L377.8 1414.9L367.7 1404.8Z" fill="#fff" stroke="#A67A14" stroke-width="3.5" stroke-linejoin="round"/>
<path d="M386.18 1401.9L396.28 1412L386.18 1422.1L376.08 1412Z" fill="#fff" stroke="#A67A14" stroke-width="3.5" stroke-linejoin="round"/>
<path d="M394.57 1407.9L404.67 1418L394.57 1428.1L384.47 1418Z" fill="#fff" stroke="#A67A14" stroke-width="3.5" stroke-linejoin="round"/>
<path d="M402.95 1410.9L413.05 1421L402.95 1431.1L392.85 1421Z" fill="#fff" stroke="#A67A14" stroke-width="3.5" stroke-linejoin="round"/>
<path d="M411.33 1410.9L421.43 1421L411.33 1431.1L401.23 1421Z" fill="#fff" stroke="#A67A14" stroke-width="3.5" stroke-linejoin="round"/>
<path d="M419.71 1410.4L429.81 1420.5L419.71 1430.6L409.61 1420.5Z" fill="#fff" stroke="#A67A14" stroke-width="3.5" stroke-linejoin="round"/>
<path d="M428.09 1410.4L438.19 1420.5L428.09 1430.6L417.99 1420.5Z" fill="#fff" stroke="#A67A14" stroke-width="3.5" stroke-linejoin="round"/>
<path d="M436.48 1409.9L446.58 1420L436.48 1430.1L426.38 1420Z" fill="#fff" stroke="#A67A14" stroke-width="3.5" stroke-linejoin="round"/>
<path d="M444.86 1409.9L454.96 1420L444.86 1430.1L434.76 1420Z" fill="#fff" stroke="#A67A14" stroke-width="3.5" stroke-linejoin="round"/>
<path d="M453.24 1409.9L463.34 1420L453.24 1430.1L443.14 1420Z" fill="#fff" stroke="#A67A14" stroke-width="3.5" stroke-linejoin="round"/>
<path d="M461.62 1409.9L471.72 1420L461.62 1430.1L451.52 1420Z" fill="#fff" stroke="#A67A14" stroke-width="3.5" stroke-linejoin="round"/>
<path d="M470 1409.9L480.1 1420L470 1430.1L459.9 1420Z" fill="#fff" stroke="#A67A14" stroke-width="3.5" stroke-linejoin="round"/>
<path d="M478.38 1409.9L488.48 1420L478.38 1430.1L468.28 1420Z" fill="#fff" stroke="#A67A14" stroke-width="3.5" stroke-linejoin="round"/>
<path d="M486.77 1409.9L496.87 1420L486.77 1430.1L476.67 1420Z" fill="#fff" stroke="#A67A14" stroke-width="3.5" stroke-linejoin="round"/>
<path d="M495.15 1407.9L505.25 1418L495.15 1428.1L485.05 1418Z" fill="#fff" stroke="#A67A14" stroke-width="3.5" stroke-linejoin="round"/>
<path d="M503.53 1403.9L513.63 1414L503.53 1424.1L493.43 1414Z" fill="#fff" stroke="#A67A14" stroke-width="3.5" stroke-linejoin="round"/>
<path d="M511.91 1400.9L522.01 1411L511.91 1421.1L501.81 1411Z" fill="#fff" stroke="#A67A14" stroke-width="3.5" stroke-linejoin="round"/>
<path d="M520.29 1381.3L530.39 1391.4L520.29 1401.5L510.19 1391.4Z" fill="#fff" stroke="#A67A14" stroke-width="3.5" stroke-linejoin="round"/>
<path d="M528.68 1345.9L538.78 1356L528.68 1366.1L518.58 1356Z" fill="#fff" stroke="#A67A14" stroke-width="3.5" stroke-linejoin="round"/>
<path d="M537.06 1288.1L547.16 1298.2L537.06 1308.3L526.96 1298.2Z" fill="#fff" stroke="#A67A14" stroke-width="3.5" stroke-linejoin="round"/>
<path d="M545.44 1215.4L555.54 1225.5L545.44 1235.6L535.34 1225.5Z" fill="#fff" stroke="#A67A14" stroke-width="3.5" stroke-linejoin="round"/>
<path d="M553.82 1152.9L563.92 1163L553.82 1173.1L543.72 1163Z" fill="#fff" stroke="#A67A14" stroke-width="3.5" stroke-linejoin="round"/>
<path d="M562.2 1167.9L572.3 1178L562.2 1188.1L552.1 1178Z" fill="#fff" stroke="#A67A14" stroke-width="3.5" stroke-linejoin="round"/>
<path d="M570.59 1241.5L580.69 1251.6L570.59 1261.7L560.49 1251.6Z" fill="#fff" stroke="#A67A14" stroke-width="3.5" stroke-linejoin="round"/>
<path d="M578.97 1309.6L589.07 1319.7L578.97 1329.8L568.87 1319.7Z" fill="#fff" stroke="#A67A14" stroke-width="3.5" stroke-linejoin="round"/>
<path d="M587.35 1357.1L597.45 1367.2L587.35 1377.3L577.25 1367.2Z" fill="#fff" stroke="#A67A14" stroke-width="3.5" stroke-linejoin="round"/>
<path d="M595.73 1378.5L605.83 1388.6L595.73 1398.7L585.63 1388.6Z" fill="#fff" stroke="#A67A14" stroke-width="3.5" stroke-linejoin="round"/>
<path d="M604.11 1394.4L614.21 1404.5L604.11 1414.6L594.01 1404.5Z" fill="#fff" stroke="#A67A14" stroke-width="3.5" stroke-linejoin="round"/>
</g>
<line x1="101.2" y1="1425.4" x2="101.2" y2="1043.2" stroke="#000" stroke-width="3.0" stroke-linecap="square"/>
<line x1="101.2" y1="1425.4" x2="610.1" y2="1425.4" stroke="#000" stroke-width="3.0" stroke-linecap="square"/>
<line x1="101.2" y1="1043.2" x2="610.1" y2="1043.2" stroke="#000" stroke-width="3.0" stroke-linecap="square"/>
<line x1="610.1" y1="1425.4" x2="610.1" y2="1043.2" stroke="#FF0000" stroke-width="3.0" stroke-linecap="square"/>
<line x1="93.7" y1="1425.4" x2="101.2" y2="1425.4" stroke="#000" stroke-width="3.0" stroke-linecap="butt"/>
<text transform="translate(88.5,1435.6) scale(0.96,1)" font-size="29.5" text-anchor="end" fill="#000" stroke="#000">0</text>
<line x1="93.7" y1="1361.7" x2="101.2" y2="1361.7" stroke="#000" stroke-width="3.0" stroke-linecap="butt"/>
<text transform="translate(88.5,1371.9) scale(0.96,1)" font-size="29.5" text-anchor="end" fill="#000" stroke="#000">1</text>
<line x1="93.7" y1="1298" x2="101.2" y2="1298" stroke="#000" stroke-width="3.0" stroke-linecap="butt"/>
<text transform="translate(88.5,1308.2) scale(0.96,1)" font-size="29.5" text-anchor="end" fill="#000" stroke="#000">2</text>
<line x1="93.7" y1="1234.3" x2="101.2" y2="1234.3" stroke="#000" stroke-width="3.0" stroke-linecap="butt"/>
<text transform="translate(88.5,1244.5) scale(0.96,1)" font-size="29.5" text-anchor="end" fill="#000" stroke="#000">3</text>
<line x1="93.7" y1="1170.6" x2="101.2" y2="1170.6" stroke="#000" stroke-width="3.0" stroke-linecap="butt"/>
<text transform="translate(88.5,1180.8) scale(0.96,1)" font-size="29.5" text-anchor="end" fill="#000" stroke="#000">4</text>
<line x1="93.7" y1="1106.9" x2="101.2" y2="1106.9" stroke="#000" stroke-width="3.0" stroke-linecap="butt"/>
<text transform="translate(88.5,1117.1) scale(0.96,1)" font-size="29.5" text-anchor="end" fill="#000" stroke="#000">5</text>
<line x1="93.7" y1="1043.2" x2="101.2" y2="1043.2" stroke="#000" stroke-width="3.0" stroke-linecap="butt"/>
<text transform="translate(88.5,1053.4) scale(0.96,1)" font-size="29.5" text-anchor="end" fill="#000" stroke="#000">6</text>
<line x1="97.2" y1="1393.55" x2="101.2" y2="1393.55" stroke="#000" stroke-width="3.0" stroke-linecap="butt"/>
<line x1="97.2" y1="1329.85" x2="101.2" y2="1329.85" stroke="#000" stroke-width="3.0" stroke-linecap="butt"/>
<line x1="97.2" y1="1266.15" x2="101.2" y2="1266.15" stroke="#000" stroke-width="3.0" stroke-linecap="butt"/>
<line x1="97.2" y1="1202.45" x2="101.2" y2="1202.45" stroke="#000" stroke-width="3.0" stroke-linecap="butt"/>
<line x1="97.2" y1="1138.75" x2="101.2" y2="1138.75" stroke="#000" stroke-width="3.0" stroke-linecap="butt"/>
<line x1="97.2" y1="1075.05" x2="101.2" y2="1075.05" stroke="#000" stroke-width="3.0" stroke-linecap="butt"/>
<line x1="610.1" y1="1425.4" x2="617.1" y2="1425.4" stroke="#FF0000" stroke-width="3.0" stroke-linecap="butt"/>
<text x="622" y="1435.2" font-size="33" text-anchor="start" fill="#FF0000" stroke="#FF0000">0</text>
<line x1="610.1" y1="1329.85" x2="617.1" y2="1329.85" stroke="#FF0000" stroke-width="3.0" stroke-linecap="butt"/>
<text x="622" y="1339.65" font-size="33" text-anchor="start" fill="#FF0000" stroke="#FF0000">3</text>
<line x1="610.1" y1="1234.3" x2="617.1" y2="1234.3" stroke="#FF0000" stroke-width="3.0" stroke-linecap="butt"/>
<text x="622" y="1244.1" font-size="33" text-anchor="start" fill="#FF0000" stroke="#FF0000">6</text>
<line x1="610.1" y1="1138.75" x2="617.1" y2="1138.75" stroke="#FF0000" stroke-width="3.0" stroke-linecap="butt"/>
<text x="622" y="1148.55" font-size="33" text-anchor="start" fill="#FF0000" stroke="#FF0000">9</text>
<line x1="610.1" y1="1043.2" x2="617.1" y2="1043.2" stroke="#FF0000" stroke-width="3.0" stroke-linecap="butt"/>
<text x="622" y="1053" font-size="33" text-anchor="start" fill="#FF0000" stroke="#FF0000">12</text>
<line x1="610.1" y1="1377.62" x2="614.1" y2="1377.62" stroke="#FF0000" stroke-width="3.0" stroke-linecap="butt"/>
<line x1="610.1" y1="1282.08" x2="614.1" y2="1282.08" stroke="#FF0000" stroke-width="3.0" stroke-linecap="butt"/>
<line x1="610.1" y1="1186.53" x2="614.1" y2="1186.53" stroke="#FF0000" stroke-width="3.0" stroke-linecap="butt"/>
<line x1="610.1" y1="1090.98" x2="614.1" y2="1090.98" stroke="#FF0000" stroke-width="3.0" stroke-linecap="butt"/>
<line x1="131.14" y1="1425.4" x2="131.14" y2="1432.7" stroke="#000" stroke-width="3.0" stroke-linecap="butt"/>
<text transform="translate(131.14,1461) scale(0.96,1)" font-size="29.5" text-anchor="middle" fill="#000" stroke="#000">400</text>
<line x1="250.88" y1="1425.4" x2="250.88" y2="1432.7" stroke="#000" stroke-width="3.0" stroke-linecap="butt"/>
<text transform="translate(250.88,1461) scale(0.96,1)" font-size="29.5" text-anchor="middle" fill="#000" stroke="#000">600</text>
<line x1="370.62" y1="1425.4" x2="370.62" y2="1432.7" stroke="#000" stroke-width="3.0" stroke-linecap="butt"/>
<text transform="translate(370.62,1461) scale(0.96,1)" font-size="29.5" text-anchor="middle" fill="#000" stroke="#000">800</text>
<line x1="490.36" y1="1425.4" x2="490.36" y2="1432.7" stroke="#000" stroke-width="3.0" stroke-linecap="butt"/>
<text transform="translate(490.36,1461) scale(0.96,1)" font-size="29.5" text-anchor="middle" fill="#000" stroke="#000">1000</text>
<line x1="610.1" y1="1425.4" x2="610.1" y2="1432.7" stroke="#000" stroke-width="3.0" stroke-linecap="butt"/>
<text transform="translate(610.1,1461) scale(0.96,1)" font-size="29.5" text-anchor="middle" fill="#000" stroke="#000">1200</text>
<line x1="191.01" y1="1425.4" x2="191.01" y2="1429.4" stroke="#000" stroke-width="3.0" stroke-linecap="butt"/>
<line x1="310.75" y1="1425.4" x2="310.75" y2="1429.4" stroke="#000" stroke-width="3.0" stroke-linecap="butt"/>
<line x1="430.49" y1="1425.4" x2="430.49" y2="1429.4" stroke="#000" stroke-width="3.0" stroke-linecap="butt"/>
<line x1="550.23" y1="1425.4" x2="550.23" y2="1429.4" stroke="#000" stroke-width="3.0" stroke-linecap="butt"/>
<text x="355.2" y="1494.4" font-size="32.5" text-anchor="middle" fill="#000" stroke="#000">Wavelength (nm)</text>
<text transform="translate(45.6,1250) rotate(-90)" font-size="32.5" text-anchor="middle" stroke="#000"><tspan font-style="italic">D</tspan>* (×10<tspan font-size="22" dy="-13.5">11</tspan><tspan dy="13.5"> Jones)</tspan></text>
<text transform="translate(679.3,1241) rotate(-90)" font-size="32.5" text-anchor="middle" fill="#FF0000" stroke="#FF0000"><tspan font-style="italic">D</tspan>* (×10<tspan font-size="22" dy="-13.5">9</tspan><tspan dy="13.5"> Jones)</tspan></text>
<line x1="150.5" y1="1075.5" x2="205.1" y2="1075.5" stroke="#0010BE" stroke-width="4.5" stroke-linecap="round"/>
<path d="M178.3 1064.3L188 1081.1L168.6 1081.1Z" fill="#fff" stroke="#0010BE" stroke-width="3.5" stroke-linejoin="round"/>
<text x="279.8" y="1084.27" font-size="24.5" text-anchor="end" fill="#000" stroke="#000">1.0 V</text>
<line x1="150.5" y1="1106.3" x2="205.1" y2="1106.3" stroke="#028C5E" stroke-width="4.5" stroke-linecap="round"/>
<path d="M178.3 1117.5L188 1100.7L168.6 1100.7Z" fill="#fff" stroke="#028C5E" stroke-width="3.5" stroke-linejoin="round"/>
<text x="279.8" y="1115.07" font-size="24.5" text-anchor="end" fill="#000" stroke="#000">2.0 V</text>
<line x1="150.5" y1="1137.1" x2="205.1" y2="1137.1" stroke="#A67A14" stroke-width="4.5" stroke-linecap="round"/>
<path d="M178.3 1127L188.4 1137.1L178.3 1147.2L168.2 1137.1Z" fill="#fff" stroke="#A67A14" stroke-width="3.5" stroke-linejoin="round"/>
<text x="279.8" y="1145.87" font-size="24.5" text-anchor="end" fill="#000" stroke="#000">-1.0 V</text>
<line x1="150.5" y1="1167.9" x2="205.1" y2="1167.9" stroke="#CB0505" stroke-width="4.5" stroke-linecap="round"/>
<path d="M171.9 1161.5H184.7V1174.3H171.9Z" fill="#fff" stroke="#CB0505" stroke-width="3.5" stroke-linejoin="round"/>
<text x="279.8" y="1176.67" font-size="24.5" text-anchor="end" fill="#000" stroke="#000">-2.0 V</text>
<text x="-2" y="1024.4" font-size="43.5" text-anchor="start" fill="#000" stroke="#000">(c)</text>
<ellipse cx="382.6" cy="1157.5" rx="32.4" ry="17.1" fill="none" stroke="#000" stroke-width="4.4"/>
<line x1="350" y1="1157.6" x2="290" y2="1157.6" stroke="#000" stroke-width="3" stroke-linecap="butt"/>
<path d="M275.8 1157.6L293.6 1148.6L293.6 1166.6Z" fill="#000"/>
<ellipse cx="552.9" cy="1247" rx="32.3" ry="17.4" fill="none" stroke="#FF0000" stroke-width="5.2"/>
<line x1="587" y1="1247" x2="596" y2="1247" stroke="#FF0000" stroke-width="3.5" stroke-linecap="butt"/>
<path d="M610 1247L593.4 1238.5L593.4 1255.5Z" fill="#FF0000"/>
</svg></body></html>
